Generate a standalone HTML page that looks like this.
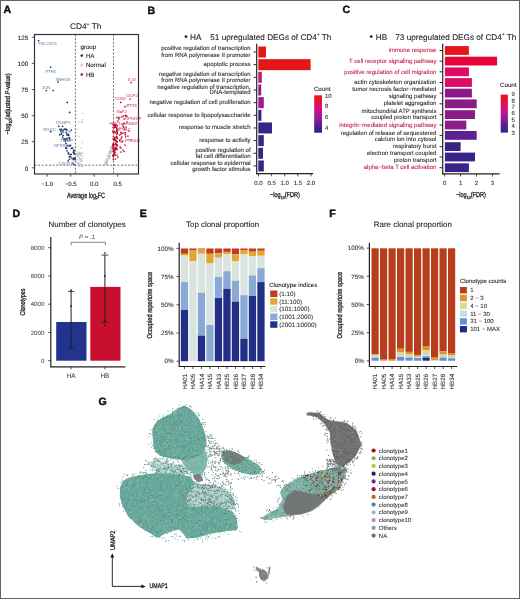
<!DOCTYPE html>
<html><head><meta charset="utf-8"><style>
html,body{margin:0;padding:0;background:#fff;}
svg{display:block;will-change:transform;}
text{font-family:"Liberation Sans", sans-serif;text-rendering:geometricPrecision;}
</style></head><body>
<svg width="520" height="599" viewBox="0 0 520 599">
<rect x="0" y="0" width="520" height="599" fill="#fff"/>
<text x="3.60" y="13.40" font-size="10.6" fill="#111" text-anchor="start" font-weight="bold" stroke="#111" stroke-width="0.45" >A</text>
<text x="70" y="29.2" font-size="8.3" fill="#222" stroke="#222" stroke-width="0.09">CD4<tspan font-size="5" dy="-3.2">+</tspan><tspan dy="3.2"> Th</tspan></text>
<line x1="75.40" y1="34.50" x2="75.40" y2="174.00" stroke="#333" stroke-width="0.7" stroke-dasharray="2,1.6"/>
<line x1="113.50" y1="34.50" x2="113.50" y2="174.00" stroke="#333" stroke-width="0.7" stroke-dasharray="2,1.6"/>
<line x1="34.50" y1="165.20" x2="138.50" y2="165.20" stroke="#333" stroke-width="0.7" stroke-dasharray="2,1.6"/>
<circle cx="80.03" cy="158.56" r="0.72" fill="#c4c4c4" />
<circle cx="79.43" cy="165.40" r="0.72" fill="#c4c4c4" />
<circle cx="80.20" cy="159.36" r="0.72" fill="#c4c4c4" />
<circle cx="79.73" cy="154.68" r="0.72" fill="#c4c4c4" />
<circle cx="81.50" cy="161.13" r="0.72" fill="#c4c4c4" />
<circle cx="78.41" cy="153.36" r="0.72" fill="#c4c4c4" />
<circle cx="81.60" cy="153.31" r="0.72" fill="#c4c4c4" />
<circle cx="76.76" cy="162.05" r="0.72" fill="#c4c4c4" />
<circle cx="82.58" cy="166.24" r="0.72" fill="#c4c4c4" />
<circle cx="80.38" cy="161.48" r="0.72" fill="#c4c4c4" />
<circle cx="76.59" cy="154.28" r="0.72" fill="#c4c4c4" />
<circle cx="76.88" cy="159.66" r="0.72" fill="#c4c4c4" />
<circle cx="78.02" cy="154.76" r="0.72" fill="#c4c4c4" />
<circle cx="79.42" cy="152.44" r="0.72" fill="#c4c4c4" />
<circle cx="81.81" cy="158.39" r="0.72" fill="#c4c4c4" />
<circle cx="80.53" cy="159.53" r="0.72" fill="#c4c4c4" />
<circle cx="80.67" cy="159.25" r="0.72" fill="#c4c4c4" />
<circle cx="78.25" cy="158.63" r="0.72" fill="#c4c4c4" />
<circle cx="82.77" cy="166.47" r="0.72" fill="#c4c4c4" />
<circle cx="80.96" cy="164.18" r="0.72" fill="#c4c4c4" />
<circle cx="77.95" cy="156.57" r="0.72" fill="#c4c4c4" />
<circle cx="76.94" cy="156.19" r="0.72" fill="#c4c4c4" />
<circle cx="79.02" cy="163.11" r="0.72" fill="#c4c4c4" />
<circle cx="78.94" cy="164.28" r="0.72" fill="#c4c4c4" />
<circle cx="81.84" cy="165.89" r="0.72" fill="#c4c4c4" />
<circle cx="77.82" cy="152.01" r="0.72" fill="#c4c4c4" />
<circle cx="79.46" cy="165.20" r="0.72" fill="#c4c4c4" />
<circle cx="79.00" cy="166.22" r="0.72" fill="#c4c4c4" />
<circle cx="80.47" cy="153.06" r="0.72" fill="#c4c4c4" />
<circle cx="78.20" cy="163.29" r="0.72" fill="#c4c4c4" />
<circle cx="78.60" cy="153.26" r="0.72" fill="#c4c4c4" />
<circle cx="81.28" cy="165.98" r="0.72" fill="#c4c4c4" />
<circle cx="78.05" cy="153.71" r="0.72" fill="#c4c4c4" />
<circle cx="76.88" cy="153.47" r="0.72" fill="#c4c4c4" />
<circle cx="77.62" cy="163.56" r="0.72" fill="#c4c4c4" />
<circle cx="79.32" cy="160.11" r="0.72" fill="#c4c4c4" />
<circle cx="81.11" cy="154.76" r="0.72" fill="#c4c4c4" />
<circle cx="80.56" cy="153.90" r="0.72" fill="#c4c4c4" />
<circle cx="79.15" cy="153.69" r="0.72" fill="#c4c4c4" />
<circle cx="78.20" cy="155.09" r="0.72" fill="#c4c4c4" />
<circle cx="81.56" cy="166.08" r="0.72" fill="#c4c4c4" />
<circle cx="82.07" cy="156.41" r="0.72" fill="#c4c4c4" />
<circle cx="78.98" cy="155.06" r="0.72" fill="#c4c4c4" />
<circle cx="80.54" cy="164.39" r="0.72" fill="#c4c4c4" />
<circle cx="82.73" cy="153.45" r="0.72" fill="#c4c4c4" />
<circle cx="78.13" cy="155.09" r="0.72" fill="#c4c4c4" />
<circle cx="78.57" cy="163.20" r="0.72" fill="#c4c4c4" />
<circle cx="76.96" cy="156.30" r="0.72" fill="#c4c4c4" />
<circle cx="80.17" cy="153.31" r="0.72" fill="#c4c4c4" />
<circle cx="80.29" cy="155.52" r="0.72" fill="#c4c4c4" />
<circle cx="79.36" cy="157.39" r="0.72" fill="#c4c4c4" />
<circle cx="79.55" cy="165.91" r="0.72" fill="#c4c4c4" />
<circle cx="81.96" cy="160.33" r="0.72" fill="#c4c4c4" />
<circle cx="77.47" cy="154.65" r="0.72" fill="#c4c4c4" />
<circle cx="81.65" cy="165.17" r="0.72" fill="#c4c4c4" />
<circle cx="78.51" cy="122.23" r="0.72" fill="#c4c4c4" />
<circle cx="82.48" cy="142.32" r="0.72" fill="#c4c4c4" />
<circle cx="82.54" cy="120.06" r="0.72" fill="#c4c4c4" />
<circle cx="80.70" cy="148.17" r="0.72" fill="#c4c4c4" />
<circle cx="78.05" cy="129.28" r="0.72" fill="#c4c4c4" />
<circle cx="82.60" cy="113.59" r="0.72" fill="#c4c4c4" />
<circle cx="81.23" cy="121.77" r="0.72" fill="#c4c4c4" />
<circle cx="81.87" cy="122.54" r="0.72" fill="#c4c4c4" />
<circle cx="79.06" cy="136.46" r="0.72" fill="#c4c4c4" />
<circle cx="107.85" cy="161.17" r="0.72" fill="#c4c4c4" />
<circle cx="105.58" cy="163.19" r="0.72" fill="#c4c4c4" />
<circle cx="110.76" cy="153.87" r="0.72" fill="#c4c4c4" />
<circle cx="109.29" cy="152.83" r="0.72" fill="#c4c4c4" />
<circle cx="111.02" cy="147.07" r="0.72" fill="#c4c4c4" />
<circle cx="105.37" cy="164.19" r="0.72" fill="#c4c4c4" />
<circle cx="107.49" cy="156.03" r="0.72" fill="#c4c4c4" />
<circle cx="106.73" cy="161.15" r="0.72" fill="#c4c4c4" />
<circle cx="108.54" cy="153.63" r="0.72" fill="#c4c4c4" />
<circle cx="109.60" cy="157.62" r="0.72" fill="#c4c4c4" />
<circle cx="112.88" cy="145.87" r="0.72" fill="#c4c4c4" />
<circle cx="110.76" cy="151.37" r="0.72" fill="#c4c4c4" />
<circle cx="105.42" cy="161.83" r="0.72" fill="#c4c4c4" />
<circle cx="107.43" cy="164.16" r="0.72" fill="#c4c4c4" />
<circle cx="112.04" cy="151.18" r="0.72" fill="#c4c4c4" />
<circle cx="106.57" cy="164.10" r="0.72" fill="#c4c4c4" />
<circle cx="109.87" cy="155.34" r="0.72" fill="#c4c4c4" />
<circle cx="109.67" cy="158.44" r="0.72" fill="#c4c4c4" />
<circle cx="106.64" cy="163.07" r="0.72" fill="#c4c4c4" />
<circle cx="112.07" cy="150.50" r="0.72" fill="#c4c4c4" />
<circle cx="111.44" cy="150.50" r="0.72" fill="#c4c4c4" />
<circle cx="112.48" cy="149.43" r="0.72" fill="#c4c4c4" />
<circle cx="108.88" cy="157.82" r="0.72" fill="#c4c4c4" />
<circle cx="113.04" cy="147.38" r="0.72" fill="#c4c4c4" />
<circle cx="109.64" cy="156.57" r="0.72" fill="#c4c4c4" />
<circle cx="111.85" cy="148.09" r="0.72" fill="#c4c4c4" />
<circle cx="109.69" cy="152.63" r="0.72" fill="#c4c4c4" />
<circle cx="110.14" cy="153.43" r="0.72" fill="#c4c4c4" />
<circle cx="106.97" cy="162.98" r="0.72" fill="#c4c4c4" />
<circle cx="113.67" cy="145.63" r="0.72" fill="#c4c4c4" />
<circle cx="110.38" cy="150.66" r="0.72" fill="#c4c4c4" />
<circle cx="111.04" cy="150.53" r="0.72" fill="#c4c4c4" />
<circle cx="109.95" cy="156.13" r="0.72" fill="#c4c4c4" />
<circle cx="107.35" cy="162.91" r="0.72" fill="#c4c4c4" />
<circle cx="106.52" cy="163.93" r="0.72" fill="#c4c4c4" />
<circle cx="108.26" cy="155.36" r="0.72" fill="#c4c4c4" />
<circle cx="110.53" cy="151.23" r="0.72" fill="#c4c4c4" />
<circle cx="111.34" cy="152.82" r="0.72" fill="#c4c4c4" />
<circle cx="106.10" cy="159.64" r="0.72" fill="#c4c4c4" />
<circle cx="108.53" cy="158.78" r="0.72" fill="#c4c4c4" />
<circle cx="106.26" cy="160.65" r="0.72" fill="#c4c4c4" />
<circle cx="112.40" cy="147.29" r="0.72" fill="#c4c4c4" />
<circle cx="110.13" cy="156.10" r="0.72" fill="#c4c4c4" />
<circle cx="108.66" cy="158.29" r="0.72" fill="#c4c4c4" />
<circle cx="107.07" cy="160.73" r="0.72" fill="#c4c4c4" />
<circle cx="112.56" cy="149.19" r="0.72" fill="#c4c4c4" />
<circle cx="111.35" cy="147.77" r="0.72" fill="#c4c4c4" />
<circle cx="109.20" cy="153.42" r="0.72" fill="#c4c4c4" />
<circle cx="106.87" cy="161.91" r="0.72" fill="#c4c4c4" />
<circle cx="112.56" cy="148.60" r="0.72" fill="#c4c4c4" />
<circle cx="112.06" cy="150.99" r="0.72" fill="#c4c4c4" />
<circle cx="106.74" cy="159.24" r="0.72" fill="#c4c4c4" />
<circle cx="108.21" cy="155.94" r="0.72" fill="#c4c4c4" />
<circle cx="107.12" cy="160.43" r="0.72" fill="#c4c4c4" />
<circle cx="110.05" cy="152.61" r="0.72" fill="#c4c4c4" />
<circle cx="109.14" cy="158.51" r="0.72" fill="#c4c4c4" />
<circle cx="112.23" cy="145.84" r="0.72" fill="#c4c4c4" />
<circle cx="104.99" cy="163.08" r="0.72" fill="#c4c4c4" />
<circle cx="110.21" cy="147.92" r="0.72" fill="#c4c4c4" />
<circle cx="110.83" cy="151.04" r="0.72" fill="#c4c4c4" />
<circle cx="108.94" cy="158.63" r="0.72" fill="#c4c4c4" />
<circle cx="104.96" cy="164.14" r="0.72" fill="#c4c4c4" />
<circle cx="107.44" cy="155.86" r="0.72" fill="#c4c4c4" />
<circle cx="110.55" cy="148.74" r="0.72" fill="#c4c4c4" />
<circle cx="105.47" cy="161.82" r="0.72" fill="#c4c4c4" />
<circle cx="109.92" cy="152.55" r="0.72" fill="#c4c4c4" />
<circle cx="110.59" cy="152.53" r="0.72" fill="#c4c4c4" />
<circle cx="112.72" cy="149.16" r="0.72" fill="#c4c4c4" />
<circle cx="109.49" cy="151.49" r="0.72" fill="#c4c4c4" />
<circle cx="108.06" cy="155.47" r="0.72" fill="#c4c4c4" />
<circle cx="105.98" cy="164.30" r="0.72" fill="#c4c4c4" />
<circle cx="109.62" cy="150.93" r="0.72" fill="#c4c4c4" />
<circle cx="107.28" cy="159.33" r="0.72" fill="#c4c4c4" />
<circle cx="110.60" cy="151.25" r="0.72" fill="#c4c4c4" />
<circle cx="110.81" cy="152.83" r="0.72" fill="#c4c4c4" />
<circle cx="109.49" cy="157.02" r="0.72" fill="#c4c4c4" />
<circle cx="110.57" cy="147.28" r="0.72" fill="#c4c4c4" />
<circle cx="112.77" cy="146.78" r="0.72" fill="#c4c4c4" />
<circle cx="106.70" cy="162.03" r="0.72" fill="#c4c4c4" />
<circle cx="111.38" cy="152.61" r="0.72" fill="#c4c4c4" />
<circle cx="108.67" cy="157.34" r="0.72" fill="#c4c4c4" />
<circle cx="112.67" cy="147.79" r="0.72" fill="#c4c4c4" />
<circle cx="112.02" cy="146.56" r="0.72" fill="#c4c4c4" />
<circle cx="109.29" cy="152.12" r="0.72" fill="#c4c4c4" />
<circle cx="111.71" cy="150.78" r="0.72" fill="#c4c4c4" />
<circle cx="38.60" cy="40.50" r="0.85" fill="#1a2f55" />
<circle cx="50.60" cy="67.00" r="0.85" fill="#1a2f55" />
<circle cx="58.20" cy="82.00" r="0.85" fill="#1a2f55" />
<circle cx="46.30" cy="90.50" r="0.85" fill="#1a2f55" />
<circle cx="53.10" cy="90.50" r="0.85" fill="#1a2f55" />
<circle cx="67.30" cy="102.40" r="0.85" fill="#1a2f55" />
<circle cx="69.60" cy="112.40" r="0.85" fill="#1a2f55" />
<circle cx="58.80" cy="126.30" r="0.85" fill="#1a2f55" />
<circle cx="62.60" cy="126.30" r="0.85" fill="#1a2f55" />
<circle cx="50.70" cy="131.70" r="0.85" fill="#1a2f55" />
<circle cx="60.70" cy="130.70" r="0.85" fill="#1a2f55" />
<circle cx="67.00" cy="133.80" r="0.85" fill="#1a2f55" />
<circle cx="71.30" cy="130.00" r="0.85" fill="#1a2f55" />
<circle cx="59.80" cy="134.80" r="0.85" fill="#1a2f55" />
<circle cx="62.60" cy="137.30" r="0.85" fill="#1a2f55" />
<circle cx="65.70" cy="148.20" r="0.85" fill="#1a2f55" />
<circle cx="70.00" cy="154.50" r="0.85" fill="#1a2f55" />
<circle cx="72.00" cy="158.30" r="0.85" fill="#1a2f55" />
<circle cx="68.20" cy="160.80" r="0.85" fill="#1a2f55" />
<circle cx="73.00" cy="163.00" r="0.85" fill="#1a2f55" />
<circle cx="74.00" cy="164.50" r="0.85" fill="#1a2f55" />
<circle cx="71.29" cy="148.31" r="0.85" fill="#1a2f55" />
<circle cx="74.52" cy="153.65" r="0.85" fill="#1a2f55" />
<circle cx="73.82" cy="151.94" r="0.85" fill="#1a2f55" />
<circle cx="63.28" cy="129.90" r="0.85" fill="#1a2f55" />
<circle cx="73.80" cy="158.24" r="0.85" fill="#1a2f55" />
<circle cx="69.36" cy="156.93" r="0.85" fill="#1a2f55" />
<circle cx="66.04" cy="143.54" r="0.85" fill="#1a2f55" />
<circle cx="69.24" cy="145.86" r="0.85" fill="#1a2f55" />
<circle cx="61.26" cy="129.41" r="0.85" fill="#1a2f55" />
<circle cx="69.17" cy="137.66" r="0.85" fill="#1a2f55" />
<circle cx="68.35" cy="152.74" r="0.85" fill="#1a2f55" />
<circle cx="68.51" cy="153.71" r="0.85" fill="#1a2f55" />
<circle cx="66.62" cy="148.14" r="0.85" fill="#1a2f55" />
<circle cx="66.05" cy="129.06" r="0.85" fill="#1a2f55" />
<circle cx="63.21" cy="135.49" r="0.85" fill="#1a2f55" />
<circle cx="75.00" cy="159.46" r="0.85" fill="#1a2f55" />
<circle cx="69.60" cy="137.97" r="0.85" fill="#1a2f55" />
<circle cx="69.98" cy="145.72" r="0.85" fill="#1a2f55" />
<circle cx="68.61" cy="135.35" r="0.85" fill="#1a2f55" />
<circle cx="73.66" cy="150.41" r="0.85" fill="#1a2f55" />
<circle cx="70.68" cy="156.71" r="0.85" fill="#1a2f55" />
<circle cx="64.36" cy="140.20" r="0.85" fill="#1a2f55" />
<circle cx="61.45" cy="133.52" r="0.85" fill="#1a2f55" />
<circle cx="67.04" cy="138.34" r="0.85" fill="#1a2f55" />
<circle cx="64.62" cy="129.10" r="0.85" fill="#1a2f55" />
<circle cx="65.20" cy="139.47" r="0.85" fill="#1a2f55" />
<circle cx="71.29" cy="154.37" r="0.85" fill="#1a2f55" />
<circle cx="66.27" cy="138.79" r="0.85" fill="#1a2f55" />
<circle cx="66.97" cy="150.84" r="0.85" fill="#1a2f55" />
<circle cx="69.42" cy="159.23" r="0.85" fill="#1a2f55" />
<circle cx="73.33" cy="152.24" r="0.85" fill="#1a2f55" />
<circle cx="65.59" cy="129.56" r="0.85" fill="#1a2f55" />
<circle cx="67.50" cy="140.35" r="0.85" fill="#1a2f55" />
<circle cx="59.94" cy="129.28" r="0.85" fill="#1a2f55" />
<circle cx="68.47" cy="134.61" r="0.85" fill="#1a2f55" />
<circle cx="67.13" cy="135.09" r="0.85" fill="#1a2f55" />
<circle cx="75.00" cy="157.82" r="0.85" fill="#1a2f55" />
<circle cx="65.60" cy="139.68" r="0.85" fill="#1a2f55" />
<circle cx="70.56" cy="145.27" r="0.85" fill="#1a2f55" />
<circle cx="66.19" cy="132.35" r="0.85" fill="#1a2f55" />
<circle cx="73.92" cy="153.71" r="0.85" fill="#1a2f55" />
<circle cx="66.96" cy="130.14" r="0.85" fill="#1a2f55" />
<circle cx="62.97" cy="131.83" r="0.85" fill="#1a2f55" />
<circle cx="72.49" cy="147.94" r="0.85" fill="#1a2f55" />
<circle cx="69.83" cy="139.54" r="0.85" fill="#1a2f55" />
<circle cx="67.29" cy="145.90" r="0.85" fill="#1a2f55" />
<circle cx="64.00" cy="138.82" r="0.85" fill="#1a2f55" />
<circle cx="61.40" cy="131.42" r="0.85" fill="#1a2f55" />
<circle cx="73.87" cy="150.36" r="0.85" fill="#1a2f55" />
<circle cx="61.48" cy="134.01" r="0.85" fill="#1a2f55" />
<circle cx="73.37" cy="159.59" r="0.85" fill="#1a2f55" />
<circle cx="65.34" cy="141.58" r="0.85" fill="#1a2f55" />
<circle cx="131.20" cy="82.60" r="0.85" fill="#c0102f" />
<circle cx="130.00" cy="99.00" r="0.85" fill="#c0102f" />
<circle cx="120.70" cy="102.40" r="0.85" fill="#c0102f" />
<circle cx="125.00" cy="106.70" r="0.85" fill="#c0102f" />
<circle cx="121.00" cy="112.00" r="0.85" fill="#c0102f" />
<circle cx="127.00" cy="116.00" r="0.85" fill="#c0102f" />
<circle cx="124.00" cy="119.00" r="0.85" fill="#c0102f" />
<circle cx="118.00" cy="121.00" r="0.85" fill="#c0102f" />
<circle cx="122.00" cy="124.00" r="0.85" fill="#c0102f" />
<circle cx="126.00" cy="127.00" r="0.85" fill="#c0102f" />
<circle cx="120.00" cy="128.00" r="0.85" fill="#c0102f" />
<circle cx="124.00" cy="133.00" r="0.85" fill="#c0102f" />
<circle cx="128.00" cy="136.00" r="0.85" fill="#c0102f" />
<circle cx="131.00" cy="140.00" r="0.85" fill="#c0102f" />
<circle cx="119.50" cy="135.00" r="0.85" fill="#c0102f" />
<circle cx="117.00" cy="131.00" r="0.85" fill="#c0102f" />
<circle cx="122.70" cy="141.00" r="0.85" fill="#c0102f" />
<circle cx="125.00" cy="145.00" r="0.85" fill="#c0102f" />
<circle cx="120.00" cy="147.00" r="0.85" fill="#c0102f" />
<circle cx="123.00" cy="150.00" r="0.85" fill="#c0102f" />
<circle cx="121.00" cy="152.00" r="0.85" fill="#c0102f" />
<circle cx="117.00" cy="155.00" r="0.85" fill="#c0102f" />
<circle cx="118.00" cy="157.00" r="0.85" fill="#c0102f" />
<circle cx="127.00" cy="122.00" r="0.85" fill="#c0102f" />
<circle cx="129.00" cy="131.00" r="0.85" fill="#c0102f" />
<circle cx="114.52" cy="140.44" r="0.85" fill="#c0102f" />
<circle cx="116.79" cy="128.92" r="0.85" fill="#c0102f" />
<circle cx="115.11" cy="124.23" r="0.85" fill="#c0102f" />
<circle cx="113.17" cy="155.89" r="0.85" fill="#c0102f" />
<circle cx="115.64" cy="143.68" r="0.85" fill="#c0102f" />
<circle cx="114.54" cy="125.45" r="0.85" fill="#c0102f" />
<circle cx="114.88" cy="148.97" r="0.85" fill="#c0102f" />
<circle cx="113.52" cy="149.74" r="0.85" fill="#c0102f" />
<circle cx="113.31" cy="132.45" r="0.85" fill="#c0102f" />
<circle cx="117.05" cy="141.97" r="0.85" fill="#c0102f" />
<circle cx="116.36" cy="144.96" r="0.85" fill="#c0102f" />
<circle cx="116.23" cy="137.62" r="0.85" fill="#c0102f" />
<circle cx="114.14" cy="127.61" r="0.85" fill="#c0102f" />
<circle cx="116.14" cy="147.94" r="0.85" fill="#c0102f" />
<circle cx="113.20" cy="138.97" r="0.85" fill="#c0102f" />
<circle cx="113.77" cy="133.47" r="0.85" fill="#c0102f" />
<circle cx="116.52" cy="133.98" r="0.85" fill="#c0102f" />
<circle cx="116.88" cy="131.08" r="0.85" fill="#c0102f" />
<circle cx="113.05" cy="155.22" r="0.85" fill="#c0102f" />
<circle cx="115.06" cy="137.45" r="0.85" fill="#c0102f" />
<circle cx="114.75" cy="124.83" r="0.85" fill="#c0102f" />
<circle cx="113.32" cy="156.18" r="0.85" fill="#c0102f" />
<circle cx="113.36" cy="145.19" r="0.85" fill="#c0102f" />
<circle cx="116.92" cy="144.54" r="0.85" fill="#c0102f" />
<circle cx="112.84" cy="131.21" r="0.85" fill="#c0102f" />
<circle cx="115.28" cy="126.96" r="0.85" fill="#c0102f" />
<circle cx="113.19" cy="124.62" r="0.85" fill="#c0102f" />
<circle cx="117.04" cy="141.63" r="0.85" fill="#c0102f" />
<circle cx="114.63" cy="138.91" r="0.85" fill="#c0102f" />
<circle cx="113.23" cy="146.67" r="0.85" fill="#c0102f" />
<circle cx="113.59" cy="144.58" r="0.85" fill="#c0102f" />
<circle cx="117.21" cy="145.62" r="0.85" fill="#c0102f" />
<circle cx="115.35" cy="125.92" r="0.85" fill="#c0102f" />
<circle cx="113.49" cy="145.53" r="0.85" fill="#c0102f" />
<circle cx="117.38" cy="133.53" r="0.85" fill="#c0102f" />
<circle cx="113.36" cy="159.43" r="0.85" fill="#c0102f" />
<circle cx="117.17" cy="149.04" r="0.85" fill="#c0102f" />
<circle cx="115.61" cy="132.41" r="0.85" fill="#c0102f" />
<circle cx="114.48" cy="125.53" r="0.85" fill="#c0102f" />
<circle cx="115.52" cy="147.93" r="0.85" fill="#c0102f" />
<circle cx="113.20" cy="151.50" r="0.85" fill="#c0102f" />
<circle cx="116.77" cy="136.33" r="0.85" fill="#c0102f" />
<circle cx="114.88" cy="144.74" r="0.85" fill="#c0102f" />
<circle cx="117.34" cy="138.28" r="0.85" fill="#c0102f" />
<circle cx="112.88" cy="144.39" r="0.85" fill="#c0102f" />
<circle cx="114.31" cy="152.38" r="0.85" fill="#c0102f" />
<circle cx="113.78" cy="139.39" r="0.85" fill="#c0102f" />
<circle cx="114.29" cy="139.76" r="0.85" fill="#c0102f" />
<circle cx="115.70" cy="127.15" r="0.85" fill="#c0102f" />
<circle cx="116.41" cy="127.66" r="0.85" fill="#c0102f" />
<circle cx="116.39" cy="124.90" r="0.85" fill="#c0102f" />
<circle cx="115.09" cy="152.67" r="0.85" fill="#c0102f" />
<circle cx="113.94" cy="149.19" r="0.85" fill="#c0102f" />
<circle cx="114.76" cy="150.19" r="0.85" fill="#c0102f" />
<circle cx="117.23" cy="132.20" r="0.85" fill="#c0102f" />
<circle cx="114.52" cy="138.23" r="0.85" fill="#c0102f" />
<circle cx="114.50" cy="154.53" r="0.85" fill="#c0102f" />
<circle cx="113.59" cy="147.70" r="0.85" fill="#c0102f" />
<circle cx="113.99" cy="153.94" r="0.85" fill="#c0102f" />
<circle cx="117.29" cy="125.79" r="0.85" fill="#c0102f" />
<circle cx="117.15" cy="130.13" r="0.85" fill="#c0102f" />
<circle cx="115.59" cy="159.01" r="0.85" fill="#c0102f" />
<circle cx="113.08" cy="124.42" r="0.85" fill="#c0102f" />
<circle cx="114.59" cy="131.41" r="0.85" fill="#c0102f" />
<circle cx="117.25" cy="145.71" r="0.85" fill="#c0102f" />
<circle cx="113.45" cy="136.59" r="0.85" fill="#c0102f" />
<circle cx="113.43" cy="143.95" r="0.85" fill="#c0102f" />
<circle cx="115.36" cy="127.07" r="0.85" fill="#c0102f" />
<circle cx="113.10" cy="148.71" r="0.85" fill="#c0102f" />
<circle cx="116.04" cy="140.02" r="0.85" fill="#c0102f" />
<circle cx="114.56" cy="151.13" r="0.85" fill="#c0102f" />
<circle cx="113.58" cy="155.49" r="0.85" fill="#c0102f" />
<circle cx="116.35" cy="149.40" r="0.85" fill="#c0102f" />
<circle cx="115.07" cy="155.25" r="0.85" fill="#c0102f" />
<circle cx="113.02" cy="127.52" r="0.85" fill="#c0102f" />
<circle cx="113.60" cy="142.77" r="0.85" fill="#c0102f" />
<circle cx="113.19" cy="146.35" r="0.85" fill="#c0102f" />
<circle cx="113.82" cy="151.70" r="0.85" fill="#c0102f" />
<circle cx="113.61" cy="124.46" r="0.85" fill="#c0102f" />
<circle cx="115.37" cy="140.21" r="0.85" fill="#c0102f" />
<circle cx="116.90" cy="129.37" r="0.85" fill="#c0102f" />
<circle cx="125.41" cy="132.84" r="0.85" fill="#c0102f" />
<circle cx="125.35" cy="134.81" r="0.85" fill="#c0102f" />
<circle cx="125.92" cy="116.06" r="0.85" fill="#c0102f" />
<circle cx="120.99" cy="147.89" r="0.85" fill="#c0102f" />
<circle cx="120.91" cy="134.37" r="0.85" fill="#c0102f" />
<circle cx="115.72" cy="148.65" r="0.85" fill="#c0102f" />
<circle cx="120.96" cy="138.78" r="0.85" fill="#c0102f" />
<circle cx="122.97" cy="126.11" r="0.85" fill="#c0102f" />
<circle cx="116.14" cy="141.67" r="0.85" fill="#c0102f" />
<circle cx="119.99" cy="140.88" r="0.85" fill="#c0102f" />
<circle cx="122.00" cy="133.14" r="0.85" fill="#c0102f" />
<circle cx="121.63" cy="116.96" r="0.85" fill="#c0102f" />
<circle cx="124.67" cy="128.81" r="0.85" fill="#c0102f" />
<circle cx="124.05" cy="123.55" r="0.85" fill="#c0102f" />
<circle cx="121.87" cy="141.99" r="0.85" fill="#c0102f" />
<circle cx="115.40" cy="147.41" r="0.85" fill="#c0102f" />
<circle cx="121.75" cy="137.09" r="0.85" fill="#c0102f" />
<circle cx="119.47" cy="140.09" r="0.85" fill="#c0102f" />
<circle cx="117.08" cy="117.55" r="0.85" fill="#c0102f" />
<circle cx="116.99" cy="137.50" r="0.85" fill="#c0102f" />
<circle cx="118.90" cy="117.40" r="0.85" fill="#c0102f" />
<circle cx="120.89" cy="132.40" r="0.85" fill="#c0102f" />
<circle cx="123.53" cy="115.96" r="0.85" fill="#c0102f" />
<circle cx="123.61" cy="127.35" r="0.85" fill="#c0102f" />
<circle cx="125.49" cy="115.32" r="0.85" fill="#c0102f" />
<circle cx="125.74" cy="136.84" r="0.85" fill="#c0102f" />
<circle cx="124.16" cy="151.49" r="0.85" fill="#c0102f" />
<circle cx="118.84" cy="118.93" r="0.85" fill="#c0102f" />
<circle cx="123.58" cy="123.56" r="0.85" fill="#c0102f" />
<text x="37.80" y="45.20" font-size="4.3" fill="#7896c0" text-anchor="start" font-weight="normal" stroke="#7896c0" stroke-width="0.09" >TSC22D3</text>
<text x="45.50" y="72.80" font-size="4.3" fill="#7896c0" text-anchor="start" font-weight="normal" stroke="#7896c0" stroke-width="0.09" >FTH1</text>
<text x="55.40" y="81.30" font-size="4.3" fill="#7896c0" text-anchor="start" font-weight="normal" stroke="#7896c0" stroke-width="0.09" >SNHG8</text>
<text x="41.80" y="89.30" font-size="4.3" fill="#7896c0" text-anchor="start" font-weight="normal" stroke="#7896c0" stroke-width="0.09" >JUN</text>
<text x="56.30" y="123.90" font-size="4.3" fill="#7896c0" text-anchor="start" font-weight="normal" stroke="#7896c0" stroke-width="0.09" >DUSP1</text>
<text x="43.20" y="131.00" font-size="4.3" fill="#7896c0" text-anchor="start" font-weight="normal" stroke="#7896c0" stroke-width="0.09" >RGCC</text>
<text x="60.50" y="132.50" font-size="4.3" fill="#7896c0" text-anchor="start" font-weight="normal" stroke="#7896c0" stroke-width="0.09" >KLF6</text>
<text x="60.50" y="141.80" font-size="4.3" fill="#7896c0" text-anchor="start" font-weight="normal" stroke="#7896c0" stroke-width="0.09" >TXNIP</text>
<text x="54.00" y="146.60" font-size="4.3" fill="#7896c0" text-anchor="start" font-weight="normal" stroke="#7896c0" stroke-width="0.09" >NFKBIA</text>
<text x="58.20" y="165.10" font-size="4.3" fill="#7896c0" text-anchor="start" font-weight="normal" stroke="#7896c0" stroke-width="0.09" >CXCR4</text>
<text x="127.80" y="81.30" font-size="4.3" fill="#dc5a7c" text-anchor="start" font-weight="normal" stroke="#dc5a7c" stroke-width="0.09" >IL32</text>
<text x="126.40" y="96.90" font-size="4.3" fill="#dc5a7c" text-anchor="start" font-weight="normal" stroke="#dc5a7c" stroke-width="0.09" >UCP2</text>
<text x="115.00" y="99.80" font-size="4.3" fill="#dc5a7c" text-anchor="start" font-weight="normal" stroke="#dc5a7c" stroke-width="0.09" >CD52</text>
<text x="126.40" y="106.90" font-size="4.3" fill="#dc5a7c" text-anchor="start" font-weight="normal" stroke="#dc5a7c" stroke-width="0.09" >ETS1</text>
<text x="116.50" y="112.60" font-size="4.3" fill="#dc5a7c" text-anchor="start" font-weight="normal" stroke="#dc5a7c" stroke-width="0.09" >KLF2</text>
<text x="125.00" y="119.60" font-size="4.3" fill="#dc5a7c" text-anchor="start" font-weight="normal" stroke="#dc5a7c" stroke-width="0.09" >RPGRIP</text>
<text x="109.40" y="125.30" font-size="4.3" fill="#dc5a7c" text-anchor="start" font-weight="normal" stroke="#dc5a7c" stroke-width="0.09" >HEY1</text>
<text x="122.70" y="124.80" font-size="4.3" fill="#dc5a7c" text-anchor="start" font-weight="normal" stroke="#dc5a7c" stroke-width="0.09" >AHNAK</text>
<text x="117.90" y="131.00" font-size="4.3" fill="#dc5a7c" text-anchor="start" font-weight="normal" stroke="#dc5a7c" stroke-width="0.09" >IFNAC</text>
<text x="125.00" y="141.80" font-size="4.3" fill="#dc5a7c" text-anchor="start" font-weight="normal" stroke="#dc5a7c" stroke-width="0.09" >PTGAR</text>
<rect x="34.5" y="34.5" width="104" height="139.5" fill="none" stroke="#333" stroke-width="1.2"/>
<line x1="31.80" y1="167.80" x2="34.50" y2="167.80" stroke="#333" stroke-width="0.8" />
<text x="28.20" y="170.50" font-size="6.3" fill="#222" text-anchor="end" font-weight="normal" stroke="#222" stroke-width="0.09" >0</text>
<line x1="31.80" y1="141.70" x2="34.50" y2="141.70" stroke="#333" stroke-width="0.8" />
<text x="28.20" y="144.40" font-size="6.3" fill="#222" text-anchor="end" font-weight="normal" stroke="#222" stroke-width="0.09" >25</text>
<line x1="31.80" y1="115.60" x2="34.50" y2="115.60" stroke="#333" stroke-width="0.8" />
<text x="28.20" y="118.30" font-size="6.3" fill="#222" text-anchor="end" font-weight="normal" stroke="#222" stroke-width="0.09" >50</text>
<line x1="31.80" y1="89.50" x2="34.50" y2="89.50" stroke="#333" stroke-width="0.8" />
<text x="28.20" y="92.20" font-size="6.3" fill="#222" text-anchor="end" font-weight="normal" stroke="#222" stroke-width="0.09" >75</text>
<line x1="31.80" y1="63.40" x2="34.50" y2="63.40" stroke="#333" stroke-width="0.8" />
<text x="28.20" y="66.10" font-size="6.3" fill="#222" text-anchor="end" font-weight="normal" stroke="#222" stroke-width="0.09" >100</text>
<line x1="31.80" y1="37.30" x2="34.50" y2="37.30" stroke="#333" stroke-width="0.8" />
<text x="28.20" y="40.00" font-size="6.3" fill="#222" text-anchor="end" font-weight="normal" stroke="#222" stroke-width="0.09" >125</text>
<line x1="47.20" y1="174.00" x2="47.20" y2="176.70" stroke="#333" stroke-width="0.8" />
<text x="47.20" y="185.60" font-size="6.1" fill="#222" text-anchor="middle" font-weight="normal" stroke="#222" stroke-width="0.09" >−1.0</text>
<line x1="70.70" y1="174.00" x2="70.70" y2="176.70" stroke="#333" stroke-width="0.8" />
<text x="70.70" y="185.60" font-size="6.1" fill="#222" text-anchor="middle" font-weight="normal" stroke="#222" stroke-width="0.09" >−0.5</text>
<line x1="94.20" y1="174.00" x2="94.20" y2="176.70" stroke="#333" stroke-width="0.8" />
<text x="94.20" y="185.60" font-size="6.1" fill="#222" text-anchor="middle" font-weight="normal" stroke="#222" stroke-width="0.09" >0.0</text>
<line x1="117.70" y1="174.00" x2="117.70" y2="176.70" stroke="#333" stroke-width="0.8" />
<text x="117.70" y="185.60" font-size="6.1" fill="#222" text-anchor="middle" font-weight="normal" stroke="#222" stroke-width="0.09" >0.5</text>
<text x="67" y="197.6" font-size="7.7" fill="#222" stroke="#222" stroke-width="0.3" textLength="38" lengthAdjust="spacingAndGlyphs">Average log<tspan font-size="4.5" dy="1.8">2</tspan><tspan dy="-1.8">FC</tspan></text>
<text transform="translate(9.7,134.4) rotate(-90)" font-size="7" fill="#222" stroke="#222" stroke-width="0.3" textLength="61" lengthAdjust="spacingAndGlyphs">−log<tspan font-size="4.5" dy="1.8">10</tspan><tspan dy="-1.8">(adjusted </tspan><tspan font-style="italic">P</tspan>-value)</text>
<text x="80.40" y="49.40" font-size="6.2" fill="#222" text-anchor="start" font-weight="normal" stroke="#222" stroke-width="0.09" >group</text>
<circle cx="81.80" cy="55.60" r="1.30" fill="#1d3a66" />
<text x="85.90" y="57.80" font-size="6.2" fill="#222" text-anchor="start" font-weight="normal" stroke="#222" stroke-width="0.09" >HA</text>
<circle cx="81.80" cy="65.20" r="1.30" fill="#c8c8c8" />
<text x="85.90" y="67.40" font-size="6.2" fill="#222" text-anchor="start" font-weight="normal" stroke="#222" stroke-width="0.09" >Normal</text>
<circle cx="81.80" cy="74.60" r="1.30" fill="#c0102f" />
<text x="85.90" y="76.80" font-size="6.2" fill="#222" text-anchor="start" font-weight="normal" stroke="#222" stroke-width="0.09" >HB</text>
<text x="147.50" y="13.50" font-size="10.6" fill="#111" text-anchor="start" font-weight="bold" stroke="#111" stroke-width="0.45" >B</text>
<circle cx="186.00" cy="36.60" r="1.45" fill="#222" />
<text x="190.00" y="39.50" font-size="8.2" fill="#222" text-anchor="start" font-weight="normal" stroke="#222" stroke-width="0.09" >HA</text>
<text x="210.3" y="39.5" font-size="8.2" fill="#222" stroke="#222" stroke-width="0.09">51 upregulated DEGs of CD4<tspan font-size="5" dy="-3.2">+</tspan><tspan dy="3.2"> Th</tspan></text>
<text x="250.60" y="50.20" font-size="6.0" fill="#2a2a2a" text-anchor="end" font-weight="normal" stroke="#2a2a2a" stroke-width="0.09" >positive regulation of transcription</text>
<text x="250.60" y="56.60" font-size="6.0" fill="#2a2a2a" text-anchor="end" font-weight="normal" stroke="#2a2a2a" stroke-width="0.09" >from RNA polymerase II promoter</text>
<text x="250.60" y="65.90" font-size="6.0" fill="#2a2a2a" text-anchor="end" font-weight="normal" stroke="#2a2a2a" stroke-width="0.09" >apoptotic process</text>
<text x="250.60" y="75.80" font-size="6.0" fill="#2a2a2a" text-anchor="end" font-weight="normal" stroke="#2a2a2a" stroke-width="0.09" >negative regulation of transcription</text>
<text x="250.60" y="82.00" font-size="6.0" fill="#2a2a2a" text-anchor="end" font-weight="normal" stroke="#2a2a2a" stroke-width="0.09" >from RNA polymerase II promoter</text>
<text x="250.60" y="88.50" font-size="6.0" fill="#2a2a2a" text-anchor="end" font-weight="normal" stroke="#2a2a2a" stroke-width="0.09" >negative regulation of transcription,</text>
<text x="250.60" y="94.30" font-size="6.0" fill="#2a2a2a" text-anchor="end" font-weight="normal" stroke="#2a2a2a" stroke-width="0.09" >DNA-templated</text>
<text x="250.60" y="104.00" font-size="6.0" fill="#2a2a2a" text-anchor="end" font-weight="normal" stroke="#2a2a2a" stroke-width="0.09" >negative regulation of cell proliferation</text>
<text x="250.60" y="116.60" font-size="6.0" fill="#2a2a2a" text-anchor="end" font-weight="normal" stroke="#2a2a2a" stroke-width="0.09" >cellular response to lipopolysaccharide</text>
<text x="250.60" y="129.30" font-size="6.0" fill="#2a2a2a" text-anchor="end" font-weight="normal" stroke="#2a2a2a" stroke-width="0.09" >response to muscle stretch</text>
<text x="250.60" y="142.00" font-size="6.0" fill="#2a2a2a" text-anchor="end" font-weight="normal" stroke="#2a2a2a" stroke-width="0.09" >response to activity</text>
<text x="250.60" y="152.40" font-size="6.0" fill="#2a2a2a" text-anchor="end" font-weight="normal" stroke="#2a2a2a" stroke-width="0.09" >positive regulation of</text>
<text x="250.60" y="158.20" font-size="6.0" fill="#2a2a2a" text-anchor="end" font-weight="normal" stroke="#2a2a2a" stroke-width="0.09" >fat cell differentiation</text>
<text x="250.60" y="164.70" font-size="6.0" fill="#2a2a2a" text-anchor="end" font-weight="normal" stroke="#2a2a2a" stroke-width="0.09" >cellular response to epidermal</text>
<text x="250.60" y="170.90" font-size="6.0" fill="#2a2a2a" text-anchor="end" font-weight="normal" stroke="#2a2a2a" stroke-width="0.09" >growth factor stimulus</text>
<rect x="258.30" y="46.50" width="7.70" height="11.00" fill="#e4161a" />
<line x1="253.60" y1="52.00" x2="256.70" y2="52.00" stroke="#111" stroke-width="0.9" />
<rect x="258.30" y="59.16" width="52.30" height="11.00" fill="#e4161a" />
<line x1="253.60" y1="64.66" x2="256.70" y2="64.66" stroke="#111" stroke-width="0.9" />
<rect x="258.30" y="71.82" width="3.50" height="11.00" fill="#c2186e" />
<line x1="253.60" y1="77.32" x2="256.70" y2="77.32" stroke="#111" stroke-width="0.9" />
<rect x="258.30" y="84.48" width="2.90" height="11.00" fill="#8e1f86" />
<line x1="253.60" y1="89.98" x2="256.70" y2="89.98" stroke="#111" stroke-width="0.9" />
<rect x="258.30" y="97.14" width="5.50" height="11.00" fill="#a3198e" />
<line x1="253.60" y1="102.64" x2="256.70" y2="102.64" stroke="#111" stroke-width="0.9" />
<rect x="258.30" y="109.80" width="3.10" height="11.00" fill="#3d2190" />
<line x1="253.60" y1="115.30" x2="256.70" y2="115.30" stroke="#111" stroke-width="0.9" />
<rect x="258.30" y="122.46" width="13.70" height="11.00" fill="#382486" />
<line x1="253.60" y1="127.96" x2="256.70" y2="127.96" stroke="#111" stroke-width="0.9" />
<rect x="258.30" y="135.12" width="5.50" height="11.00" fill="#382486" />
<line x1="253.60" y1="140.62" x2="256.70" y2="140.62" stroke="#111" stroke-width="0.9" />
<rect x="258.30" y="147.78" width="4.70" height="11.00" fill="#382486" />
<line x1="253.60" y1="153.28" x2="256.70" y2="153.28" stroke="#111" stroke-width="0.9" />
<rect x="258.30" y="160.44" width="5.50" height="11.00" fill="#382486" />
<line x1="253.60" y1="165.94" x2="256.70" y2="165.94" stroke="#111" stroke-width="0.9" />
<line x1="256.70" y1="43.80" x2="256.70" y2="174.30" stroke="#222" stroke-width="1.2" />
<line x1="256.10" y1="173.70" x2="313.20" y2="173.70" stroke="#222" stroke-width="1.2" />
<line x1="258.50" y1="173.70" x2="258.50" y2="176.30" stroke="#222" stroke-width="0.8" />
<text x="258.50" y="185.30" font-size="6.0" fill="#333" text-anchor="middle" font-weight="normal" stroke="#333" stroke-width="0.09" >0.0</text>
<line x1="271.60" y1="173.70" x2="271.60" y2="176.30" stroke="#222" stroke-width="0.8" />
<text x="271.60" y="185.30" font-size="6.0" fill="#333" text-anchor="middle" font-weight="normal" stroke="#333" stroke-width="0.09" >0.5</text>
<line x1="284.70" y1="173.70" x2="284.70" y2="176.30" stroke="#222" stroke-width="0.8" />
<text x="284.70" y="185.30" font-size="6.0" fill="#333" text-anchor="middle" font-weight="normal" stroke="#333" stroke-width="0.09" >1.0</text>
<line x1="297.80" y1="173.70" x2="297.80" y2="176.30" stroke="#222" stroke-width="0.8" />
<text x="297.80" y="185.30" font-size="6.0" fill="#333" text-anchor="middle" font-weight="normal" stroke="#333" stroke-width="0.09" >1.5</text>
<line x1="310.90" y1="173.70" x2="310.90" y2="176.30" stroke="#222" stroke-width="0.8" />
<text x="310.90" y="185.30" font-size="6.0" fill="#333" text-anchor="middle" font-weight="normal" stroke="#333" stroke-width="0.09" >2.0</text>
<text x="270" y="197.4" font-size="7" fill="#222" stroke="#222" stroke-width="0.3" textLength="29.8" lengthAdjust="spacingAndGlyphs">−log<tspan font-size="4.5" dy="1.8">10</tspan><tspan dy="-1.8">(FDR)</tspan></text>
<defs><linearGradient id="gB" x1="0" y1="0" x2="0" y2="1"><stop offset="0" stop-color="#e8141e"/><stop offset="0.15" stop-color="#e41434"/><stop offset="0.32" stop-color="#da1078"/><stop offset="0.59" stop-color="#a018a0"/><stop offset="0.85" stop-color="#4a1e8c"/><stop offset="1" stop-color="#2e2080"/></linearGradient><linearGradient id="gC" x1="0" y1="0" x2="0" y2="1"><stop offset="0" stop-color="#e8141e"/><stop offset="0.17" stop-color="#e41040"/><stop offset="0.33" stop-color="#dc1078"/><stop offset="0.5" stop-color="#b01896"/><stop offset="0.67" stop-color="#80209a"/><stop offset="0.83" stop-color="#50228e"/><stop offset="1" stop-color="#2e2080"/></linearGradient></defs>
<text x="313.90" y="90.50" font-size="6.2" fill="#222" text-anchor="start" font-weight="normal" stroke="#222" stroke-width="0.09" >Count</text>
<rect x="314.20" y="95.30" width="7.80" height="37.40" fill="url(#gB)" />
<text x="325.00" y="97.90" font-size="6.0" fill="#333" text-anchor="start" font-weight="normal" stroke="#333" stroke-width="0.09" >10</text>
<text x="325.00" y="108.40" font-size="6.0" fill="#333" text-anchor="start" font-weight="normal" stroke="#333" stroke-width="0.09" >8</text>
<text x="325.00" y="119.30" font-size="6.0" fill="#333" text-anchor="start" font-weight="normal" stroke="#333" stroke-width="0.09" >6</text>
<text x="325.00" y="129.80" font-size="6.0" fill="#333" text-anchor="start" font-weight="normal" stroke="#333" stroke-width="0.09" >4</text>
<text x="342.50" y="13.20" font-size="10.6" fill="#111" text-anchor="start" font-weight="bold" stroke="#111" stroke-width="0.45" >C</text>
<circle cx="371.20" cy="36.60" r="1.45" fill="#222" />
<text x="375.80" y="39.50" font-size="8.2" fill="#222" text-anchor="start" font-weight="normal" stroke="#222" stroke-width="0.09" >HB</text>
<text x="395.3" y="39.5" font-size="8.2" fill="#222" stroke="#222" stroke-width="0.09">73 upregulated DEGs of CD4<tspan font-size="5" dy="-3.2">+</tspan><tspan dy="3.2"> Th</tspan></text>
<text x="436.40" y="52.00" font-size="6.0" fill="#c4204a" text-anchor="end" font-weight="normal" stroke="#c4204a" stroke-width="0.09" >immune response</text>
<text x="436.40" y="63.10" font-size="6.0" fill="#c4204a" text-anchor="end" font-weight="normal" stroke="#c4204a" stroke-width="0.09" >T cell receptor signaling pathway</text>
<text x="436.40" y="73.50" font-size="6.0" fill="#c4204a" text-anchor="end" font-weight="normal" stroke="#c4204a" stroke-width="0.09" >positive regulation of cell migration</text>
<text x="436.40" y="83.90" font-size="6.0" fill="#2a2a2a" text-anchor="end" font-weight="normal" stroke="#2a2a2a" stroke-width="0.09" >actin cytoskeleton organization</text>
<text x="436.40" y="91.20" font-size="6.0" fill="#2a2a2a" text-anchor="end" font-weight="normal" stroke="#2a2a2a" stroke-width="0.09" >tumor necrosis factor−mediated</text>
<text x="436.40" y="97.70" font-size="6.0" fill="#2a2a2a" text-anchor="end" font-weight="normal" stroke="#2a2a2a" stroke-width="0.09" >signaling pathway</text>
<text x="436.40" y="105.10" font-size="6.0" fill="#2a2a2a" text-anchor="end" font-weight="normal" stroke="#2a2a2a" stroke-width="0.09" >platelet aggregation</text>
<text x="436.40" y="113.20" font-size="6.0" fill="#2a2a2a" text-anchor="end" font-weight="normal" stroke="#2a2a2a" stroke-width="0.09" >mitochondrial ATP synthesis</text>
<text x="436.40" y="119.10" font-size="6.0" fill="#2a2a2a" text-anchor="end" font-weight="normal" stroke="#2a2a2a" stroke-width="0.09" >coupled proton transport</text>
<text x="436.40" y="127.00" font-size="6.0" fill="#c4204a" text-anchor="end" font-weight="normal" stroke="#c4204a" stroke-width="0.09" >integrin−mediated signaling pathway</text>
<text x="436.40" y="134.50" font-size="6.0" fill="#2a2a2a" text-anchor="end" font-weight="normal" stroke="#2a2a2a" stroke-width="0.09" >regulation of release of sequestered</text>
<text x="436.40" y="140.80" font-size="6.0" fill="#2a2a2a" text-anchor="end" font-weight="normal" stroke="#2a2a2a" stroke-width="0.09" >calcium ion into cytosol</text>
<text x="436.40" y="148.00" font-size="6.0" fill="#2a2a2a" text-anchor="end" font-weight="normal" stroke="#2a2a2a" stroke-width="0.09" >respiratory burst</text>
<text x="436.40" y="155.40" font-size="6.0" fill="#2a2a2a" text-anchor="end" font-weight="normal" stroke="#2a2a2a" stroke-width="0.09" >electron transport coupled</text>
<text x="436.40" y="161.60" font-size="6.0" fill="#2a2a2a" text-anchor="end" font-weight="normal" stroke="#2a2a2a" stroke-width="0.09" >proton transport</text>
<text x="436.40" y="169.20" font-size="6.0" fill="#c4204a" text-anchor="end" font-weight="normal" stroke="#c4204a" stroke-width="0.09" >alpha−beta T cell activation</text>
<rect x="444.90" y="46.10" width="24.00" height="8.80" fill="#e4161c" />
<line x1="439.60" y1="50.50" x2="442.70" y2="50.50" stroke="#111" stroke-width="0.9" />
<rect x="444.90" y="56.70" width="52.20" height="8.80" fill="#e8043a" />
<line x1="439.60" y1="61.10" x2="442.70" y2="61.10" stroke="#111" stroke-width="0.9" />
<rect x="444.90" y="67.40" width="24.00" height="8.80" fill="#de0c64" />
<line x1="439.60" y1="71.80" x2="442.70" y2="71.80" stroke="#111" stroke-width="0.9" />
<rect x="444.90" y="78.10" width="27.00" height="8.80" fill="#de0c64" />
<line x1="439.60" y1="82.50" x2="442.70" y2="82.50" stroke="#111" stroke-width="0.9" />
<rect x="444.90" y="88.70" width="27.00" height="8.80" fill="#8c1a88" />
<line x1="439.60" y1="93.10" x2="442.70" y2="93.10" stroke="#111" stroke-width="0.9" />
<rect x="444.90" y="99.40" width="31.80" height="8.80" fill="#8a1e86" />
<line x1="439.60" y1="103.80" x2="442.70" y2="103.80" stroke="#111" stroke-width="0.9" />
<rect x="444.90" y="110.20" width="30.10" height="8.80" fill="#8a1c88" />
<line x1="439.60" y1="114.60" x2="442.70" y2="114.60" stroke="#111" stroke-width="0.9" />
<rect x="444.90" y="120.60" width="21.40" height="8.80" fill="#8c1c88" />
<line x1="439.60" y1="125.00" x2="442.70" y2="125.00" stroke="#111" stroke-width="0.9" />
<rect x="444.90" y="131.00" width="31.80" height="8.80" fill="#5c2290" />
<line x1="439.60" y1="135.40" x2="442.70" y2="135.40" stroke="#111" stroke-width="0.9" />
<rect x="444.90" y="142.20" width="15.70" height="8.80" fill="#3a2488" />
<line x1="439.60" y1="146.60" x2="442.70" y2="146.60" stroke="#111" stroke-width="0.9" />
<rect x="444.90" y="152.60" width="30.10" height="8.80" fill="#3a2488" />
<line x1="439.60" y1="157.00" x2="442.70" y2="157.00" stroke="#111" stroke-width="0.9" />
<rect x="444.90" y="163.30" width="24.00" height="8.80" fill="#3a2488" />
<line x1="439.60" y1="167.70" x2="442.70" y2="167.70" stroke="#111" stroke-width="0.9" />
<line x1="442.70" y1="43.80" x2="442.70" y2="174.40" stroke="#222" stroke-width="1.2" />
<line x1="442.10" y1="173.80" x2="499.60" y2="173.80" stroke="#222" stroke-width="1.2" />
<line x1="444.70" y1="173.90" x2="444.70" y2="176.50" stroke="#222" stroke-width="0.8" />
<text x="444.70" y="185.40" font-size="6.0" fill="#333" text-anchor="middle" font-weight="normal" stroke="#333" stroke-width="0.09" >0</text>
<line x1="460.60" y1="173.90" x2="460.60" y2="176.50" stroke="#222" stroke-width="0.8" />
<text x="460.60" y="185.40" font-size="6.0" fill="#333" text-anchor="middle" font-weight="normal" stroke="#333" stroke-width="0.09" >1</text>
<line x1="476.50" y1="173.90" x2="476.50" y2="176.50" stroke="#222" stroke-width="0.8" />
<text x="476.50" y="185.40" font-size="6.0" fill="#333" text-anchor="middle" font-weight="normal" stroke="#333" stroke-width="0.09" >2</text>
<line x1="492.40" y1="173.90" x2="492.40" y2="176.50" stroke="#222" stroke-width="0.8" />
<text x="492.40" y="185.40" font-size="6.0" fill="#333" text-anchor="middle" font-weight="normal" stroke="#333" stroke-width="0.09" >3</text>
<text x="456" y="197.4" font-size="7" fill="#222" stroke="#222" stroke-width="0.3" textLength="29.8" lengthAdjust="spacingAndGlyphs">−log<tspan font-size="4.5" dy="1.8">10</tspan><tspan dy="-1.8">(FDR)</tspan></text>
<text x="500.00" y="87.30" font-size="6.2" fill="#222" text-anchor="start" font-weight="normal" stroke="#222" stroke-width="0.09" >Count</text>
<rect x="500.70" y="94.60" width="7.20" height="38.00" fill="url(#gC)" />
<text x="511.50" y="96.10" font-size="6.0" fill="#333" text-anchor="start" font-weight="normal" stroke="#333" stroke-width="0.09" >9</text>
<text x="511.50" y="102.55" font-size="6.0" fill="#333" text-anchor="start" font-weight="normal" stroke="#333" stroke-width="0.09" >8</text>
<text x="511.50" y="109.00" font-size="6.0" fill="#333" text-anchor="start" font-weight="normal" stroke="#333" stroke-width="0.09" >7</text>
<text x="511.50" y="115.45" font-size="6.0" fill="#333" text-anchor="start" font-weight="normal" stroke="#333" stroke-width="0.09" >6</text>
<text x="511.50" y="121.90" font-size="6.0" fill="#333" text-anchor="start" font-weight="normal" stroke="#333" stroke-width="0.09" >5</text>
<text x="511.50" y="128.35" font-size="6.0" fill="#333" text-anchor="start" font-weight="normal" stroke="#333" stroke-width="0.09" >4</text>
<text x="511.50" y="134.80" font-size="6.0" fill="#333" text-anchor="start" font-weight="normal" stroke="#333" stroke-width="0.09" >3</text>
<text x="12.60" y="216.80" font-size="10.6" fill="#111" text-anchor="start" font-weight="bold" stroke="#111" stroke-width="0.45" >D</text>
<text x="48.50" y="226.80" font-size="7.95" fill="#222" text-anchor="start" font-weight="normal" stroke="#222" stroke-width="0.09" >Number of clonotypes</text>
<rect x="56.20" y="322.00" width="30.30" height="38.70" fill="#22348e" />
<rect x="90.30" y="286.90" width="30.20" height="73.80" fill="#c8102e" />
<line x1="71.10" y1="291.50" x2="71.10" y2="347.70" stroke="#222" stroke-width="1.0" />
<line x1="68.20" y1="291.50" x2="74.40" y2="291.50" stroke="#222" stroke-width="0.8" />
<line x1="68.20" y1="347.70" x2="74.40" y2="347.70" stroke="#222" stroke-width="0.8" />
<line x1="104.90" y1="255.10" x2="104.90" y2="322.30" stroke="#222" stroke-width="1.0" />
<line x1="101.60" y1="255.10" x2="108.40" y2="255.10" stroke="#222" stroke-width="0.8" />
<line x1="101.60" y1="322.30" x2="108.40" y2="322.30" stroke="#222" stroke-width="0.8" />
<circle cx="71.10" cy="290.20" r="0.90" fill="#222" />
<circle cx="71.10" cy="306.20" r="0.90" fill="#222" />
<circle cx="71.10" cy="338.50" r="0.90" fill="#222" />
<circle cx="71.10" cy="347.40" r="0.90" fill="#222" />
<circle cx="104.90" cy="253.10" r="0.90" fill="#222" />
<circle cx="104.90" cy="276.20" r="0.90" fill="#222" />
<circle cx="104.90" cy="325.40" r="0.90" fill="#222" />
<circle cx="104.90" cy="321.00" r="0.90" fill="#222" />
<path d="M71.2,245.4 V242.3 H105.4 V245.4" fill="none" stroke="#555" stroke-width="0.7"/>
<text x="79.0" y="239.2" font-size="6.1" fill="#555" stroke="#555" stroke-width="0.09"><tspan font-style="italic">P</tspan> = .1</text>
<line x1="50.80" y1="236.90" x2="50.80" y2="367.20" stroke="#222" stroke-width="1.2" />
<line x1="50.40" y1="366.80" x2="125.40" y2="366.80" stroke="#222" stroke-width="1.2" />
<line x1="48.20" y1="360.70" x2="50.80" y2="360.70" stroke="#222" stroke-width="0.8" />
<text x="44.40" y="362.80" font-size="6.2" fill="#555" text-anchor="end" font-weight="normal" stroke="#555" stroke-width="0.09" >0</text>
<line x1="48.20" y1="332.45" x2="50.80" y2="332.45" stroke="#222" stroke-width="0.8" />
<text x="44.40" y="334.55" font-size="6.2" fill="#555" text-anchor="end" font-weight="normal" stroke="#555" stroke-width="0.09" >2000</text>
<line x1="48.20" y1="304.20" x2="50.80" y2="304.20" stroke="#222" stroke-width="0.8" />
<text x="44.40" y="306.30" font-size="6.2" fill="#555" text-anchor="end" font-weight="normal" stroke="#555" stroke-width="0.09" >4000</text>
<line x1="48.20" y1="275.95" x2="50.80" y2="275.95" stroke="#222" stroke-width="0.8" />
<text x="44.40" y="278.05" font-size="6.2" fill="#555" text-anchor="end" font-weight="normal" stroke="#555" stroke-width="0.09" >6000</text>
<line x1="48.20" y1="247.70" x2="50.80" y2="247.70" stroke="#222" stroke-width="0.8" />
<text x="44.40" y="249.80" font-size="6.2" fill="#555" text-anchor="end" font-weight="normal" stroke="#555" stroke-width="0.09" >8000</text>
<line x1="71.10" y1="366.80" x2="71.10" y2="369.30" stroke="#222" stroke-width="0.8" />
<text x="71.10" y="378.00" font-size="6.4" fill="#444" text-anchor="middle" font-weight="normal" stroke="#444" stroke-width="0.09" >HA</text>
<line x1="104.90" y1="366.80" x2="104.90" y2="369.30" stroke="#222" stroke-width="0.8" />
<text x="104.90" y="378.00" font-size="6.4" fill="#444" text-anchor="middle" font-weight="normal" stroke="#444" stroke-width="0.09" >HB</text>
<text transform="translate(24.6,315.5) rotate(-90)" font-size="7" fill="#222" stroke="#222" stroke-width="0.3" textLength="27" lengthAdjust="spacingAndGlyphs">Clonotypes</text>
<text x="139.80" y="216.80" font-size="10.6" fill="#111" text-anchor="start" font-weight="bold" stroke="#111" stroke-width="0.45" >E</text>
<text x="186.20" y="227.20" font-size="7.85" fill="#222" text-anchor="start" font-weight="normal" stroke="#222" stroke-width="0.09" >Top clonal proportion</text>
<rect x="180.80" y="248.50" width="7.30" height="5.30" fill="#bf3b20" />
<rect x="180.80" y="253.80" width="7.30" height="1.80" fill="#e0a832" />
<rect x="180.80" y="255.60" width="7.30" height="26.50" fill="#dae4df" />
<rect x="180.80" y="282.10" width="7.30" height="27.90" fill="#8aaad6" />
<rect x="180.80" y="310.00" width="7.30" height="51.20" fill="#232e86" />
<line x1="184.45" y1="366.50" x2="184.45" y2="369.00" stroke="#222" stroke-width="0.8" />
<text transform="translate(186.65,389.4) rotate(-90)" font-size="6.2" fill="#333" stroke="#333" stroke-width="0.09">HA01</text>
<rect x="189.30" y="248.50" width="7.30" height="1.50" fill="#bf3b20" />
<rect x="189.30" y="250.00" width="7.30" height="11.00" fill="#e0a832" />
<rect x="189.30" y="261.00" width="7.30" height="100.20" fill="#dae4df" />
<line x1="192.95" y1="366.50" x2="192.95" y2="369.00" stroke="#222" stroke-width="0.8" />
<text transform="translate(195.15,389.4) rotate(-90)" font-size="6.2" fill="#333" stroke="#333" stroke-width="0.09">HA05</text>
<rect x="197.80" y="248.50" width="7.30" height="1.00" fill="#bf3b20" />
<rect x="197.80" y="249.50" width="7.30" height="4.30" fill="#e0a832" />
<rect x="197.80" y="253.80" width="7.30" height="38.90" fill="#dae4df" />
<rect x="197.80" y="292.70" width="7.30" height="42.90" fill="#8aaad6" />
<rect x="197.80" y="335.60" width="7.30" height="25.60" fill="#232e86" />
<line x1="201.45" y1="366.50" x2="201.45" y2="369.00" stroke="#222" stroke-width="0.8" />
<text transform="translate(203.65,389.4) rotate(-90)" font-size="6.2" fill="#333" stroke="#333" stroke-width="0.09">HA14</text>
<rect x="206.30" y="248.50" width="7.30" height="5.30" fill="#bf3b20" />
<rect x="206.30" y="253.80" width="7.30" height="9.70" fill="#e0a832" />
<rect x="206.30" y="263.50" width="7.30" height="61.30" fill="#dae4df" />
<rect x="206.30" y="324.80" width="7.30" height="36.40" fill="#8aaad6" />
<line x1="209.95" y1="366.50" x2="209.95" y2="369.00" stroke="#222" stroke-width="0.8" />
<text transform="translate(212.15,389.4) rotate(-90)" font-size="6.2" fill="#333" stroke="#333" stroke-width="0.09">HA15</text>
<rect x="214.80" y="248.50" width="7.30" height="4.80" fill="#bf3b20" />
<rect x="214.80" y="253.30" width="7.30" height="4.40" fill="#e0a832" />
<rect x="214.80" y="257.70" width="7.30" height="19.20" fill="#dae4df" />
<rect x="214.80" y="276.90" width="7.30" height="21.10" fill="#8aaad6" />
<rect x="214.80" y="298.00" width="7.30" height="63.20" fill="#232e86" />
<line x1="218.45" y1="366.50" x2="218.45" y2="369.00" stroke="#222" stroke-width="0.8" />
<text transform="translate(220.65,389.4) rotate(-90)" font-size="6.2" fill="#333" stroke="#333" stroke-width="0.09">HA33</text>
<rect x="223.30" y="248.50" width="7.30" height="3.40" fill="#bf3b20" />
<rect x="223.30" y="251.90" width="7.30" height="2.30" fill="#e0a832" />
<rect x="223.30" y="254.20" width="7.30" height="17.00" fill="#dae4df" />
<rect x="223.30" y="271.20" width="7.30" height="17.60" fill="#8aaad6" />
<rect x="223.30" y="288.80" width="7.30" height="72.40" fill="#232e86" />
<line x1="226.95" y1="366.50" x2="226.95" y2="369.00" stroke="#222" stroke-width="0.8" />
<text transform="translate(229.15,389.4) rotate(-90)" font-size="6.2" fill="#333" stroke="#333" stroke-width="0.09">HB25</text>
<rect x="231.80" y="248.50" width="7.30" height="5.70" fill="#bf3b20" />
<rect x="231.80" y="254.20" width="7.30" height="6.80" fill="#e0a832" />
<rect x="231.80" y="261.00" width="7.30" height="19.80" fill="#dae4df" />
<rect x="231.80" y="280.80" width="7.30" height="20.90" fill="#8aaad6" />
<rect x="231.80" y="301.70" width="7.30" height="59.50" fill="#232e86" />
<line x1="235.45" y1="366.50" x2="235.45" y2="369.00" stroke="#222" stroke-width="0.8" />
<text transform="translate(237.65,389.4) rotate(-90)" font-size="6.2" fill="#333" stroke="#333" stroke-width="0.09">HB26</text>
<rect x="240.30" y="248.50" width="7.30" height="1.90" fill="#bf3b20" />
<rect x="240.30" y="250.40" width="7.30" height="3.80" fill="#e0a832" />
<rect x="240.30" y="254.20" width="7.30" height="41.00" fill="#dae4df" />
<rect x="240.30" y="295.20" width="7.30" height="43.60" fill="#8aaad6" />
<rect x="240.30" y="338.80" width="7.30" height="22.40" fill="#232e86" />
<line x1="243.95" y1="366.50" x2="243.95" y2="369.00" stroke="#222" stroke-width="0.8" />
<text transform="translate(246.15,389.4) rotate(-90)" font-size="6.2" fill="#333" stroke="#333" stroke-width="0.09">HB27</text>
<rect x="248.80" y="248.50" width="7.30" height="3.20" fill="#bf3b20" />
<rect x="248.80" y="251.70" width="7.30" height="4.50" fill="#e0a832" />
<rect x="248.80" y="256.20" width="7.30" height="19.20" fill="#dae4df" />
<rect x="248.80" y="275.40" width="7.30" height="20.60" fill="#8aaad6" />
<rect x="248.80" y="296.00" width="7.30" height="65.20" fill="#232e86" />
<line x1="252.45" y1="366.50" x2="252.45" y2="369.00" stroke="#222" stroke-width="0.8" />
<text transform="translate(254.65,389.4) rotate(-90)" font-size="6.2" fill="#333" stroke="#333" stroke-width="0.09">HB28</text>
<rect x="257.30" y="248.50" width="7.30" height="2.30" fill="#bf3b20" />
<rect x="257.30" y="250.80" width="7.30" height="5.00" fill="#e0a832" />
<rect x="257.30" y="255.80" width="7.30" height="12.30" fill="#dae4df" />
<rect x="257.30" y="268.10" width="7.30" height="14.00" fill="#8aaad6" />
<rect x="257.30" y="282.10" width="7.30" height="79.10" fill="#232e86" />
<line x1="260.95" y1="366.50" x2="260.95" y2="369.00" stroke="#222" stroke-width="0.8" />
<text transform="translate(263.15,389.4) rotate(-90)" font-size="6.2" fill="#333" stroke="#333" stroke-width="0.09">HB34</text>
<line x1="179.20" y1="242.70" x2="179.20" y2="366.90" stroke="#222" stroke-width="1.2" />
<line x1="178.80" y1="366.50" x2="265.40" y2="366.50" stroke="#222" stroke-width="1.2" />
<line x1="176.50" y1="361.20" x2="179.20" y2="361.20" stroke="#222" stroke-width="0.8" />
<text x="173.70" y="363.40" font-size="6.3" fill="#333" text-anchor="end" font-weight="normal" stroke="#333" stroke-width="0.09" >0%</text>
<line x1="176.50" y1="333.00" x2="179.20" y2="333.00" stroke="#222" stroke-width="0.8" />
<text x="173.70" y="335.20" font-size="6.3" fill="#333" text-anchor="end" font-weight="normal" stroke="#333" stroke-width="0.09" >25%</text>
<line x1="176.50" y1="304.80" x2="179.20" y2="304.80" stroke="#222" stroke-width="0.8" />
<text x="173.70" y="307.00" font-size="6.3" fill="#333" text-anchor="end" font-weight="normal" stroke="#333" stroke-width="0.09" >50%</text>
<line x1="176.50" y1="276.60" x2="179.20" y2="276.60" stroke="#222" stroke-width="0.8" />
<text x="173.70" y="278.80" font-size="6.3" fill="#333" text-anchor="end" font-weight="normal" stroke="#333" stroke-width="0.09" >75%</text>
<line x1="176.50" y1="248.40" x2="179.20" y2="248.40" stroke="#222" stroke-width="0.8" />
<text x="173.70" y="250.60" font-size="6.3" fill="#333" text-anchor="end" font-weight="normal" stroke="#333" stroke-width="0.09" >100%</text>
<text transform="translate(151.8,338.5) rotate(-90)" font-size="7.2" fill="#222" stroke="#222" stroke-width="0.3" textLength="66.8" lengthAdjust="spacingAndGlyphs">Occupied repertoire space</text>
<text x="269.20" y="287.00" font-size="6.1" fill="#222" text-anchor="start" font-weight="normal" stroke="#222" stroke-width="0.09" >Clonotype indices</text>
<rect x="270.20" y="290.50" width="7.20" height="6.50" fill="#bf3b20" />
<text x="279.20" y="295.90" font-size="6.3" fill="#333" text-anchor="start" font-weight="normal" stroke="#333" stroke-width="0.09" >(1:10)</text>
<rect x="270.20" y="298.20" width="7.20" height="6.50" fill="#e0a832" />
<text x="279.20" y="303.60" font-size="6.3" fill="#333" text-anchor="start" font-weight="normal" stroke="#333" stroke-width="0.09" >(11:100)</text>
<rect x="270.20" y="305.90" width="7.20" height="6.50" fill="#dae4df" />
<text x="279.20" y="311.30" font-size="6.3" fill="#333" text-anchor="start" font-weight="normal" stroke="#333" stroke-width="0.09" >(101:1000)</text>
<rect x="270.20" y="313.60" width="7.20" height="6.50" fill="#8aaad6" />
<text x="279.20" y="319.00" font-size="6.3" fill="#333" text-anchor="start" font-weight="normal" stroke="#333" stroke-width="0.09" >(1001:2000)</text>
<rect x="270.20" y="321.30" width="7.20" height="6.50" fill="#232e86" />
<text x="279.20" y="326.70" font-size="6.3" fill="#333" text-anchor="start" font-weight="normal" stroke="#333" stroke-width="0.09" >(2001:10000)</text>
<text x="329.30" y="216.80" font-size="10.6" fill="#111" text-anchor="start" font-weight="bold" stroke="#111" stroke-width="0.45" >F</text>
<text x="373.80" y="226.60" font-size="7.95" fill="#222" text-anchor="start" font-weight="normal" stroke="#222" stroke-width="0.09" >Rare clonal proportion</text>
<rect x="371.50" y="248.30" width="7.20" height="105.90" fill="#b83d1c" />
<rect x="371.50" y="354.20" width="7.20" height="0.80" fill="#d8972a" />
<rect x="371.50" y="355.00" width="7.20" height="1.00" fill="#d8dc8c" />
<rect x="371.50" y="356.00" width="7.20" height="1.70" fill="#c4dcee" />
<rect x="371.50" y="357.70" width="7.20" height="3.00" fill="#6a8fcf" />
<line x1="375.10" y1="366.50" x2="375.10" y2="369.00" stroke="#222" stroke-width="0.8" />
<text transform="translate(377.30,389.4) rotate(-90)" font-size="6.2" fill="#333" stroke="#333" stroke-width="0.09">HA01</text>
<rect x="380.00" y="248.30" width="7.20" height="111.40" fill="#b83d1c" />
<rect x="380.00" y="359.70" width="7.20" height="1.00" fill="#d8972a" />
<line x1="383.60" y1="366.50" x2="383.60" y2="369.00" stroke="#222" stroke-width="0.8" />
<text transform="translate(385.80,389.4) rotate(-90)" font-size="6.2" fill="#333" stroke="#333" stroke-width="0.09">HA05</text>
<rect x="388.50" y="248.30" width="7.20" height="110.70" fill="#b83d1c" />
<rect x="388.50" y="359.00" width="7.20" height="1.70" fill="#d8972a" />
<line x1="392.10" y1="366.50" x2="392.10" y2="369.00" stroke="#222" stroke-width="0.8" />
<text transform="translate(394.30,389.4) rotate(-90)" font-size="6.2" fill="#333" stroke="#333" stroke-width="0.09">HA14</text>
<rect x="397.00" y="248.30" width="7.20" height="100.50" fill="#b83d1c" />
<rect x="397.00" y="348.80" width="7.20" height="3.70" fill="#d8972a" />
<rect x="397.00" y="352.50" width="7.20" height="2.50" fill="#d8dc8c" />
<rect x="397.00" y="355.00" width="7.20" height="2.00" fill="#c4dcee" />
<rect x="397.00" y="357.00" width="7.20" height="3.70" fill="#6a8fcf" />
<line x1="400.60" y1="366.50" x2="400.60" y2="369.00" stroke="#222" stroke-width="0.8" />
<text transform="translate(402.80,389.4) rotate(-90)" font-size="6.2" fill="#333" stroke="#333" stroke-width="0.09">HA15</text>
<rect x="405.50" y="248.30" width="7.20" height="103.60" fill="#b83d1c" />
<rect x="405.50" y="351.90" width="7.20" height="2.50" fill="#d8972a" />
<rect x="405.50" y="354.40" width="7.20" height="1.60" fill="#d8dc8c" />
<rect x="405.50" y="356.00" width="7.20" height="1.50" fill="#c4dcee" />
<rect x="405.50" y="357.50" width="7.20" height="3.20" fill="#6a8fcf" />
<line x1="409.10" y1="366.50" x2="409.10" y2="369.00" stroke="#222" stroke-width="0.8" />
<text transform="translate(411.30,389.4) rotate(-90)" font-size="6.2" fill="#333" stroke="#333" stroke-width="0.09">HA33</text>
<rect x="414.00" y="248.30" width="7.20" height="106.60" fill="#b83d1c" />
<rect x="414.00" y="354.90" width="7.20" height="1.80" fill="#d8972a" />
<rect x="414.00" y="356.70" width="7.20" height="0.50" fill="#d8dc8c" />
<rect x="414.00" y="357.20" width="7.20" height="0.80" fill="#c4dcee" />
<rect x="414.00" y="358.00" width="7.20" height="2.50" fill="#6a8fcf" />
<rect x="414.00" y="360.50" width="7.20" height="0.20" fill="#1f2a80" />
<line x1="417.60" y1="366.50" x2="417.60" y2="369.00" stroke="#222" stroke-width="0.8" />
<text transform="translate(419.80,389.4) rotate(-90)" font-size="6.2" fill="#333" stroke="#333" stroke-width="0.09">HB25</text>
<rect x="422.50" y="248.30" width="7.20" height="97.70" fill="#b83d1c" />
<rect x="422.50" y="346.00" width="7.20" height="4.50" fill="#d8972a" />
<rect x="422.50" y="350.50" width="7.20" height="3.50" fill="#d8dc8c" />
<rect x="422.50" y="354.00" width="7.20" height="2.30" fill="#c4dcee" />
<rect x="422.50" y="356.30" width="7.20" height="1.70" fill="#6a8fcf" />
<rect x="422.50" y="358.00" width="7.20" height="2.70" fill="#1f2a80" />
<line x1="426.10" y1="366.50" x2="426.10" y2="369.00" stroke="#222" stroke-width="0.8" />
<text transform="translate(428.30,389.4) rotate(-90)" font-size="6.2" fill="#333" stroke="#333" stroke-width="0.09">HB26</text>
<rect x="431.00" y="248.30" width="7.20" height="109.30" fill="#b83d1c" />
<rect x="431.00" y="357.60" width="7.20" height="2.70" fill="#d8972a" />
<rect x="431.00" y="360.30" width="7.20" height="0.20" fill="#d8dc8c" />
<rect x="431.00" y="360.50" width="7.20" height="0.20" fill="#c4dcee" />
<line x1="434.60" y1="366.50" x2="434.60" y2="369.00" stroke="#222" stroke-width="0.8" />
<text transform="translate(436.80,389.4) rotate(-90)" font-size="6.2" fill="#333" stroke="#333" stroke-width="0.09">HB27</text>
<rect x="439.50" y="248.30" width="7.20" height="103.10" fill="#b83d1c" />
<rect x="439.50" y="351.40" width="7.20" height="3.20" fill="#d8972a" />
<rect x="439.50" y="354.60" width="7.20" height="1.40" fill="#d8dc8c" />
<rect x="439.50" y="356.00" width="7.20" height="1.50" fill="#c4dcee" />
<rect x="439.50" y="357.50" width="7.20" height="3.00" fill="#6a8fcf" />
<rect x="439.50" y="360.50" width="7.20" height="0.20" fill="#1f2a80" />
<line x1="443.10" y1="366.50" x2="443.10" y2="369.00" stroke="#222" stroke-width="0.8" />
<text transform="translate(445.30,389.4) rotate(-90)" font-size="6.2" fill="#333" stroke="#333" stroke-width="0.09">HB28</text>
<rect x="448.00" y="248.30" width="7.20" height="105.30" fill="#b83d1c" />
<rect x="448.00" y="353.60" width="7.20" height="2.00" fill="#d8972a" />
<rect x="448.00" y="355.60" width="7.20" height="1.40" fill="#d8dc8c" />
<rect x="448.00" y="357.00" width="7.20" height="1.30" fill="#c4dcee" />
<rect x="448.00" y="358.30" width="7.20" height="2.20" fill="#6a8fcf" />
<rect x="448.00" y="360.50" width="7.20" height="0.20" fill="#1f2a80" />
<line x1="451.60" y1="366.50" x2="451.60" y2="369.00" stroke="#222" stroke-width="0.8" />
<text transform="translate(453.80,389.4) rotate(-90)" font-size="6.2" fill="#333" stroke="#333" stroke-width="0.09">HB34</text>
<line x1="369.40" y1="242.70" x2="369.40" y2="366.90" stroke="#222" stroke-width="1.2" />
<line x1="369.00" y1="366.50" x2="457.20" y2="366.50" stroke="#222" stroke-width="1.2" />
<line x1="366.70" y1="360.90" x2="369.40" y2="360.90" stroke="#222" stroke-width="0.8" />
<text x="363.90" y="363.10" font-size="6.3" fill="#333" text-anchor="end" font-weight="normal" stroke="#333" stroke-width="0.09" >0%</text>
<line x1="366.70" y1="332.70" x2="369.40" y2="332.70" stroke="#222" stroke-width="0.8" />
<text x="363.90" y="334.90" font-size="6.3" fill="#333" text-anchor="end" font-weight="normal" stroke="#333" stroke-width="0.09" >25%</text>
<line x1="366.70" y1="304.50" x2="369.40" y2="304.50" stroke="#222" stroke-width="0.8" />
<text x="363.90" y="306.70" font-size="6.3" fill="#333" text-anchor="end" font-weight="normal" stroke="#333" stroke-width="0.09" >50%</text>
<line x1="366.70" y1="276.30" x2="369.40" y2="276.30" stroke="#222" stroke-width="0.8" />
<text x="363.90" y="278.50" font-size="6.3" fill="#333" text-anchor="end" font-weight="normal" stroke="#333" stroke-width="0.09" >75%</text>
<line x1="366.70" y1="248.10" x2="369.40" y2="248.10" stroke="#222" stroke-width="0.8" />
<text x="363.90" y="250.30" font-size="6.3" fill="#333" text-anchor="end" font-weight="normal" stroke="#333" stroke-width="0.09" >100%</text>
<text transform="translate(341.9,338.5) rotate(-90)" font-size="7.2" fill="#222" stroke="#222" stroke-width="0.3" textLength="66.8" lengthAdjust="spacingAndGlyphs">Occupied repertoire space</text>
<text x="459.90" y="282.60" font-size="6.0" fill="#222" text-anchor="start" font-weight="normal" stroke="#222" stroke-width="0.09" >Clonotype counts</text>
<rect x="459.90" y="287.00" width="7.00" height="6.40" fill="#b83d1c" />
<text x="470.20" y="292.20" font-size="6.0" fill="#333" text-anchor="start" font-weight="normal" stroke="#333" stroke-width="0.09" >1</text>
<rect x="459.90" y="294.80" width="7.00" height="6.40" fill="#d8972a" />
<text x="470.20" y="300.00" font-size="6.0" fill="#333" text-anchor="start" font-weight="normal" stroke="#333" stroke-width="0.09" >2 − 3</text>
<rect x="459.90" y="302.60" width="7.00" height="6.40" fill="#d8dc8c" />
<text x="470.20" y="307.80" font-size="6.0" fill="#333" text-anchor="start" font-weight="normal" stroke="#333" stroke-width="0.09" >4 − 10</text>
<rect x="459.90" y="310.40" width="7.00" height="6.40" fill="#c4dcee" />
<text x="470.20" y="315.60" font-size="6.0" fill="#333" text-anchor="start" font-weight="normal" stroke="#333" stroke-width="0.09" >11 − 30</text>
<rect x="459.90" y="318.20" width="7.00" height="6.40" fill="#6a8fcf" />
<text x="470.20" y="323.40" font-size="6.0" fill="#333" text-anchor="start" font-weight="normal" stroke="#333" stroke-width="0.09" >31 − 100</text>
<rect x="459.90" y="326.00" width="7.00" height="6.40" fill="#1f2a80" />
<text x="470.20" y="331.20" font-size="6.0" fill="#333" text-anchor="start" font-weight="normal" stroke="#333" stroke-width="0.09" >101 − MAX</text>
<text x="98.40" y="405.30" font-size="10.6" fill="#111" text-anchor="start" font-weight="bold" stroke="#111" stroke-width="0.45" >G</text>
<path d="M172.6 412.3h1v1h-1zM167.2 442.3h1v1h-1zM185.6 445.2h1v1h-1zM202.7 456.4h1v1h-1zM159.0 431.6h1v1h-1zM193.6 463.5h1v1h-1zM196.6 425.5h1v1h-1zM150.5 433.7h1v1h-1zM205.5 438.4h1v1h-1zM168.9 444.2h1v1h-1zM177.2 435.9h1v1h-1zM184.9 433.5h1v1h-1zM155.1 441.9h1v1h-1zM202.9 435.0h1v1h-1zM174.2 453.2h1v1h-1zM178.6 424.0h1v1h-1zM177.0 460.4h1v1h-1zM189.9 449.8h1v1h-1zM198.7 420.5h1v1h-1zM191.0 441.5h1v1h-1zM165.9 459.0h1v1h-1zM188.6 463.0h1v1h-1zM182.7 446.6h1v1h-1zM204.5 421.9h1v1h-1zM187.2 418.7h1v1h-1zM153.1 447.8h1v1h-1zM185.1 418.4h1v1h-1zM191.2 409.9h1v1h-1zM194.4 454.3h1v1h-1zM167.9 441.9h1v1h-1zM189.4 456.0h1v1h-1zM200.0 450.7h1v1h-1zM170.5 447.5h1v1h-1zM177.5 457.5h1v1h-1zM161.0 432.5h1v1h-1zM152.5 430.0h1v1h-1zM198.7 415.3h1v1h-1zM175.0 411.1h1v1h-1zM186.7 413.3h1v1h-1zM207.4 445.9h1v1h-1zM169.7 445.8h1v1h-1zM172.5 460.5h1v1h-1zM170.0 429.3h1v1h-1zM164.4 448.0h1v1h-1zM183.6 419.9h1v1h-1zM148.9 433.1h1v1h-1zM183.8 447.4h1v1h-1zM201.5 423.9h1v1h-1zM171.2 437.1h1v1h-1zM158.4 432.3h1v1h-1zM189.7 406.0h1v1h-1z" fill="#707070"/>
<path d="M152.1 428.0h1v1h-1zM204.9 453.3h1v1h-1zM195.4 416.6h1v1h-1zM181.3 420.1h1v1h-1zM199.4 453.7h1v1h-1zM197.6 414.8h1v1h-1zM193.4 456.8h1v1h-1zM179.4 413.8h1v1h-1zM177.4 408.2h1v1h-1zM182.0 421.6h1v1h-1zM204.3 438.8h1v1h-1zM179.5 428.8h1v1h-1zM185.1 429.9h1v1h-1zM158.0 421.9h1v1h-1zM150.9 442.3h1v1h-1zM165.4 436.4h1v1h-1zM177.2 424.3h1v1h-1zM173.6 415.4h1v1h-1zM187.2 420.0h1v1h-1zM170.1 449.9h1v1h-1zM167.9 438.0h1v1h-1zM195.4 441.6h1v1h-1zM162.7 423.5h1v1h-1zM150.7 446.8h1v1h-1zM173.4 462.4h1v1h-1zM186.5 454.4h1v1h-1zM166.2 414.7h1v1h-1zM175.5 411.2h1v1h-1zM171.7 463.6h1v1h-1zM190.0 412.0h1v1h-1zM155.6 436.1h1v1h-1zM196.0 428.5h1v1h-1zM163.0 428.6h1v1h-1zM150.3 429.2h1v1h-1zM163.4 459.0h1v1h-1zM199.5 434.2h1v1h-1zM163.0 415.7h1v1h-1zM162.4 457.7h1v1h-1zM203.9 444.0h1v1h-1zM197.0 449.8h1v1h-1zM178.6 408.4h1v1h-1zM161.1 458.0h1v1h-1zM197.6 443.3h1v1h-1zM198.5 436.0h1v1h-1zM188.6 446.1h1v1h-1zM164.6 461.1h1v1h-1zM189.4 405.3h1v1h-1zM208.0 444.9h1v1h-1zM187.4 438.6h1v1h-1zM194.3 461.4h1v1h-1zM198.2 452.2h1v1h-1zM202.4 437.5h1v1h-1zM189.6 423.5h1v1h-1zM203.3 451.6h1v1h-1zM201.6 441.1h1v1h-1zM156.6 425.5h1v1h-1zM195.6 435.7h1v1h-1zM181.7 426.7h1v1h-1zM196.8 422.3h1v1h-1zM162.5 433.4h1v1h-1zM174.9 457.0h1v1h-1zM166.7 455.6h1v1h-1zM158.4 458.0h1v1h-1zM181.6 459.9h1v1h-1zM167.3 437.1h1v1h-1zM178.2 447.9h1v1h-1zM178.0 407.3h1v1h-1zM163.2 456.3h1v1h-1zM170.1 451.2h1v1h-1zM209.1 442.3h1v1h-1zM190.0 441.2h1v1h-1zM167.4 460.5h1v1h-1zM167.0 457.6h1v1h-1zM196.8 441.4h1v1h-1zM175.4 411.4h1v1h-1zM195.8 425.5h1v1h-1zM189.0 411.0h1v1h-1zM198.2 413.8h1v1h-1zM203.9 426.1h1v1h-1zM183.7 424.8h1v1h-1zM186.5 408.4h1v1h-1zM173.0 461.9h1v1h-1zM159.1 444.0h1v1h-1zM168.3 421.6h1v1h-1zM197.7 453.8h1v1h-1zM184.2 433.9h1v1h-1zM183.6 462.1h1v1h-1zM155.2 443.9h1v1h-1zM186.3 455.3h1v1h-1zM166.8 461.4h1v1h-1zM173.2 440.5h1v1h-1zM203.6 447.2h1v1h-1zM167.2 417.1h1v1h-1zM168.3 442.3h1v1h-1zM172.8 427.9h1v1h-1zM159.4 436.8h1v1h-1zM170.6 462.9h1v1h-1zM186.6 412.4h1v1h-1zM185.4 422.3h1v1h-1zM153.7 418.9h1v1h-1zM203.3 451.9h1v1h-1zM157.2 417.6h1v1h-1zM158.1 452.7h1v1h-1zM190.2 437.2h1v1h-1zM180.5 412.5h1v1h-1zM167.6 410.2h1v1h-1zM191.5 448.9h1v1h-1zM202.5 448.2h1v1h-1zM192.9 437.6h1v1h-1zM179.2 412.3h1v1h-1zM200.3 433.2h1v1h-1zM202.2 418.8h1v1h-1zM172.3 445.8h1v1h-1zM201.4 423.4h1v1h-1zM172.0 429.4h1v1h-1zM200.6 454.8h1v1h-1zM162.4 437.6h1v1h-1zM177.6 448.1h1v1h-1zM159.5 454.9h1v1h-1zM171.5 456.3h1v1h-1zM199.7 439.8h1v1h-1zM154.6 441.8h1v1h-1zM188.1 459.5h1v1h-1zM185.2 404.9h1v1h-1zM201.2 444.5h1v1h-1zM167.1 459.4h1v1h-1zM186.8 424.0h1v1h-1zM199.7 459.1h1v1h-1zM188.8 446.9h1v1h-1zM185.5 436.0h1v1h-1zM178.9 437.1h1v1h-1zM196.5 460.2h1v1h-1zM200.3 442.1h1v1h-1zM177.6 411.7h1v1h-1zM170.3 459.0h1v1h-1zM166.5 427.2h1v1h-1zM185.5 404.7h1v1h-1zM194.8 457.3h1v1h-1zM166.5 446.4h1v1h-1zM196.9 447.2h1v1h-1zM175.1 413.6h1v1h-1zM194.9 428.4h1v1h-1zM186.9 456.0h1v1h-1zM163.9 435.0h1v1h-1zM165.8 460.6h1v1h-1zM156.2 450.7h1v1h-1zM189.5 459.1h1v1h-1zM179.0 409.7h1v1h-1zM169.1 431.4h1v1h-1zM163.1 456.0h1v1h-1zM166.4 438.5h1v1h-1zM189.0 460.1h1v1h-1zM159.1 448.1h1v1h-1zM159.2 415.6h1v1h-1zM185.6 425.6h1v1h-1zM207.0 445.9h1v1h-1zM204.0 447.2h1v1h-1zM156.5 432.9h1v1h-1zM181.9 436.8h1v1h-1zM170.5 449.7h1v1h-1zM161.6 417.6h1v1h-1zM183.6 414.9h1v1h-1zM186.7 424.3h1v1h-1zM159.9 454.9h1v1h-1zM193.3 462.1h1v1h-1zM178.8 405.1h1v1h-1zM167.0 448.2h1v1h-1zM172.4 411.4h1v1h-1zM171.3 431.9h1v1h-1zM170.1 430.8h1v1h-1zM196.6 449.0h1v1h-1zM173.9 409.8h1v1h-1zM166.3 438.0h1v1h-1zM203.5 433.1h1v1h-1zM208.4 436.0h1v1h-1zM159.2 441.6h1v1h-1zM185.2 440.6h1v1h-1zM175.1 453.3h1v1h-1zM159.3 420.6h1v1h-1zM175.0 422.5h1v1h-1zM187.3 413.3h1v1h-1zM169.4 445.4h1v1h-1zM181.7 463.4h1v1h-1zM168.8 436.6h1v1h-1zM181.7 425.7h1v1h-1zM177.2 410.1h1v1h-1zM202.8 440.3h1v1h-1zM192.1 440.4h1v1h-1zM206.4 452.3h1v1h-1zM185.5 437.0h1v1h-1zM165.5 446.4h1v1h-1zM165.8 429.0h1v1h-1zM148.2 436.1h1v1h-1zM200.9 456.1h1v1h-1zM153.0 429.5h1v1h-1zM180.1 429.4h1v1h-1zM153.7 443.2h1v1h-1zM189.4 442.5h1v1h-1zM179.7 437.4h1v1h-1zM190.8 406.6h1v1h-1zM154.4 450.9h1v1h-1zM168.1 424.0h1v1h-1zM165.2 439.8h1v1h-1zM155.3 443.2h1v1h-1zM157.7 451.2h1v1h-1zM181.8 429.5h1v1h-1zM166.9 425.3h1v1h-1zM195.1 435.8h1v1h-1zM181.3 418.2h1v1h-1zM177.9 443.9h1v1h-1zM181.7 439.4h1v1h-1zM183.4 414.8h1v1h-1zM193.0 463.1h1v1h-1zM176.0 423.6h1v1h-1zM166.9 422.6h1v1h-1zM166.6 422.6h1v1h-1zM161.0 433.2h1v1h-1zM166.1 425.9h1v1h-1zM189.1 422.5h1v1h-1zM201.5 453.1h1v1h-1zM168.4 455.5h1v1h-1zM148.2 444.1h1v1h-1zM182.5 416.7h1v1h-1zM172.4 417.9h1v1h-1zM175.4 449.0h1v1h-1zM193.7 437.9h1v1h-1zM195.1 438.9h1v1h-1zM178.4 462.0h1v1h-1zM174.8 448.9h1v1h-1zM172.3 408.0h1v1h-1zM172.0 415.9h1v1h-1zM155.8 431.5h1v1h-1zM193.7 450.6h1v1h-1zM202.8 422.7h1v1h-1zM189.5 459.0h1v1h-1zM199.5 447.6h1v1h-1zM175.0 448.1h1v1h-1zM202.5 439.1h1v1h-1zM186.5 461.2h1v1h-1zM165.6 423.8h1v1h-1zM187.0 445.2h1v1h-1zM162.8 414.2h1v1h-1zM177.7 458.2h1v1h-1zM173.9 456.1h1v1h-1zM155.7 457.5h1v1h-1zM195.3 432.3h1v1h-1zM194.0 420.3h1v1h-1zM156.7 425.4h1v1h-1zM183.0 444.5h1v1h-1zM205.6 449.6h1v1h-1zM169.6 434.8h1v1h-1zM194.9 452.5h1v1h-1zM203.8 449.6h1v1h-1zM189.5 418.7h1v1h-1zM186.5 414.4h1v1h-1zM188.1 413.7h1v1h-1zM201.9 421.9h1v1h-1zM195.8 412.3h1v1h-1zM198.7 455.7h1v1h-1zM175.3 448.3h1v1h-1zM187.6 416.8h1v1h-1zM186.1 413.6h1v1h-1zM197.3 416.5h1v1h-1zM169.6 438.9h1v1h-1zM204.8 424.0h1v1h-1zM187.4 410.0h1v1h-1zM192.1 458.2h1v1h-1zM171.8 415.6h1v1h-1zM163.4 433.6h1v1h-1zM200.7 443.1h1v1h-1zM202.1 456.2h1v1h-1zM193.0 454.8h1v1h-1zM191.6 429.7h1v1h-1zM198.8 460.8h1v1h-1zM158.5 431.4h1v1h-1zM201.6 435.9h1v1h-1zM201.0 425.8h1v1h-1zM183.1 418.2h1v1h-1zM187.7 419.7h1v1h-1zM182.9 458.5h1v1h-1zM165.8 461.3h1v1h-1zM198.3 412.5h1v1h-1zM196.3 461.9h1v1h-1zM207.6 446.4h1v1h-1zM172.2 437.0h1v1h-1zM188.3 441.4h1v1h-1zM159.7 458.7h1v1h-1zM181.5 407.0h1v1h-1zM176.6 408.5h1v1h-1zM180.8 420.2h1v1h-1zM199.3 451.3h1v1h-1zM159.6 454.0h1v1h-1zM184.1 419.6h1v1h-1zM172.7 440.5h1v1h-1zM158.1 433.7h1v1h-1zM202.8 424.3h1v1h-1zM191.9 414.6h1v1h-1zM158.2 451.1h1v1h-1zM161.1 448.8h1v1h-1zM176.8 436.1h1v1h-1zM170.6 435.1h1v1h-1zM198.9 431.0h1v1h-1zM168.3 460.5h1v1h-1zM190.8 450.5h1v1h-1zM197.9 433.3h1v1h-1zM188.8 450.0h1v1h-1zM179.2 433.5h1v1h-1zM185.3 441.3h1v1h-1zM157.8 434.8h1v1h-1zM158.9 426.9h1v1h-1zM159.1 422.8h1v1h-1zM186.9 427.8h1v1h-1zM189.5 421.6h1v1h-1zM164.9 430.2h1v1h-1zM178.6 418.8h1v1h-1zM196.1 451.5h1v1h-1zM193.3 429.1h1v1h-1zM171.1 424.6h1v1h-1zM170.7 439.1h1v1h-1zM172.1 410.7h1v1h-1zM195.5 448.1h1v1h-1zM205.5 430.7h1v1h-1zM170.5 452.8h1v1h-1zM154.4 451.2h1v1h-1zM157.2 442.1h1v1h-1zM179.9 451.5h1v1h-1zM151.9 445.1h1v1h-1zM190.4 420.3h1v1h-1zM179.0 464.8h1v1h-1z" fill="#68a99c"/>
<path d="M223.3 475.7h1v1h-1zM215.3 484.3h1v1h-1zM206.5 452.2h1v1h-1zM222.8 483.0h1v1h-1zM211.3 464.8h1v1h-1zM158.1 470.6h1v1h-1zM185.0 479.0h1v1h-1zM203.7 484.7h1v1h-1zM207.3 466.4h1v1h-1zM210.1 495.4h1v1h-1zM168.6 468.3h1v1h-1zM220.0 457.9h1v1h-1zM157.1 472.6h1v1h-1zM170.8 465.0h1v1h-1zM223.0 472.9h1v1h-1zM220.3 488.1h1v1h-1zM151.2 461.9h1v1h-1zM173.3 471.3h1v1h-1zM180.8 470.7h1v1h-1zM214.0 502.8h1v1h-1zM237.4 504.1h1v1h-1zM157.5 464.7h1v1h-1zM211.0 468.5h1v1h-1zM217.8 468.5h1v1h-1zM219.7 486.7h1v1h-1zM192.7 492.1h1v1h-1zM229.6 499.3h1v1h-1zM218.8 490.1h1v1h-1zM212.8 482.3h1v1h-1zM210.9 448.0h1v1h-1zM144.2 464.3h1v1h-1zM214.2 452.0h1v1h-1zM208.5 496.7h1v1h-1zM231.5 478.8h1v1h-1zM186.9 468.7h1v1h-1zM186.9 484.9h1v1h-1zM221.8 481.8h1v1h-1zM225.4 470.0h1v1h-1zM225.6 507.5h1v1h-1zM212.4 446.4h1v1h-1zM197.2 490.7h1v1h-1zM182.5 476.4h1v1h-1zM203.9 487.3h1v1h-1zM204.0 474.3h1v1h-1zM172.0 470.3h1v1h-1zM191.8 482.6h1v1h-1zM194.4 483.7h1v1h-1zM208.0 462.5h1v1h-1zM225.7 476.3h1v1h-1zM203.9 473.3h1v1h-1zM218.8 486.7h1v1h-1zM143.2 467.0h1v1h-1zM232.6 493.7h1v1h-1zM213.5 465.8h1v1h-1zM169.1 474.8h1v1h-1zM217.9 450.8h1v1h-1zM218.4 474.9h1v1h-1zM217.5 476.0h1v1h-1zM210.5 469.0h1v1h-1zM199.6 499.1h1v1h-1zM200.8 488.1h1v1h-1zM215.7 505.4h1v1h-1zM223.2 484.6h1v1h-1zM193.0 474.8h1v1h-1zM204.1 485.4h1v1h-1zM159.8 466.3h1v1h-1zM216.9 470.5h1v1h-1zM211.7 462.1h1v1h-1zM214.2 461.5h1v1h-1zM148.5 462.5h1v1h-1zM169.8 474.7h1v1h-1zM191.6 480.7h1v1h-1zM167.1 474.7h1v1h-1zM216.5 474.9h1v1h-1zM142.5 472.2h1v1h-1zM202.0 490.6h1v1h-1zM231.1 500.6h1v1h-1zM173.9 474.1h1v1h-1zM219.9 473.9h1v1h-1zM145.1 460.1h1v1h-1zM215.5 453.2h1v1h-1zM217.8 482.7h1v1h-1zM185.3 480.4h1v1h-1zM236.3 503.0h1v1h-1zM193.1 473.1h1v1h-1zM225.9 502.6h1v1h-1zM145.1 471.9h1v1h-1zM178.7 467.9h1v1h-1zM166.0 469.2h1v1h-1zM190.2 472.4h1v1h-1zM202.1 489.5h1v1h-1zM146.5 473.1h1v1h-1zM191.4 483.0h1v1h-1zM225.5 495.3h1v1h-1zM178.9 469.2h1v1h-1zM212.7 483.8h1v1h-1zM224.8 475.8h1v1h-1zM228.2 480.6h1v1h-1zM186.8 482.5h1v1h-1zM195.4 468.9h1v1h-1zM158.0 470.6h1v1h-1zM226.6 478.7h1v1h-1zM196.3 478.3h1v1h-1zM220.0 459.3h1v1h-1zM193.5 483.9h1v1h-1zM194.8 495.9h1v1h-1zM213.3 451.2h1v1h-1zM218.1 469.3h1v1h-1zM190.9 464.6h1v1h-1zM220.2 473.4h1v1h-1zM206.1 464.5h1v1h-1zM147.8 463.7h1v1h-1zM196.4 480.9h1v1h-1zM205.6 495.2h1v1h-1zM191.2 472.0h1v1h-1zM226.6 507.9h1v1h-1zM214.0 479.8h1v1h-1zM216.4 478.1h1v1h-1zM177.9 474.9h1v1h-1zM164.2 466.8h1v1h-1zM204.4 495.8h1v1h-1zM214.6 467.3h1v1h-1zM212.0 460.4h1v1h-1zM203.5 494.6h1v1h-1zM222.6 471.7h1v1h-1zM193.3 482.0h1v1h-1zM178.7 465.9h1v1h-1zM204.7 484.5h1v1h-1zM149.6 463.7h1v1h-1zM176.3 467.1h1v1h-1zM193.6 475.9h1v1h-1zM222.7 461.0h1v1h-1zM209.9 495.8h1v1h-1zM201.2 497.5h1v1h-1zM191.2 490.2h1v1h-1zM219.6 504.5h1v1h-1zM191.1 492.4h1v1h-1zM216.2 498.3h1v1h-1zM232.7 494.7h1v1h-1zM204.3 474.4h1v1h-1zM191.3 476.8h1v1h-1zM218.1 462.4h1v1h-1zM195.3 483.2h1v1h-1zM197.6 477.2h1v1h-1zM194.4 467.3h1v1h-1zM225.9 501.4h1v1h-1zM209.3 486.3h1v1h-1zM215.5 491.5h1v1h-1zM227.7 495.5h1v1h-1zM228.2 484.0h1v1h-1zM226.9 506.3h1v1h-1zM230.3 489.7h1v1h-1zM215.4 460.9h1v1h-1zM221.9 489.0h1v1h-1zM191.4 468.0h1v1h-1zM205.0 483.5h1v1h-1zM215.9 497.0h1v1h-1zM216.6 448.6h1v1h-1zM197.1 487.0h1v1h-1zM216.1 452.7h1v1h-1zM229.7 501.5h1v1h-1zM217.8 505.9h1v1h-1zM209.2 481.8h1v1h-1zM228.8 499.9h1v1h-1zM193.7 487.1h1v1h-1zM207.6 454.6h1v1h-1zM209.7 487.1h1v1h-1zM198.4 469.8h1v1h-1zM218.6 462.8h1v1h-1zM213.8 506.0h1v1h-1zM176.7 477.2h1v1h-1zM210.5 462.4h1v1h-1zM213.2 483.8h1v1h-1zM200.5 468.1h1v1h-1zM202.1 486.9h1v1h-1zM232.2 507.3h1v1h-1zM227.1 473.2h1v1h-1zM201.7 479.0h1v1h-1zM229.5 482.3h1v1h-1zM218.8 496.7h1v1h-1zM225.3 504.4h1v1h-1zM187.2 482.5h1v1h-1zM190.1 490.7h1v1h-1zM191.3 467.4h1v1h-1zM224.8 474.0h1v1h-1zM162.5 468.2h1v1h-1zM228.0 471.2h1v1h-1zM224.0 474.7h1v1h-1zM215.2 466.3h1v1h-1zM143.4 472.2h1v1h-1zM178.7 466.3h1v1h-1zM230.6 499.0h1v1h-1zM194.7 490.7h1v1h-1zM225.3 462.8h1v1h-1zM198.2 466.5h1v1h-1zM225.8 503.7h1v1h-1zM208.1 480.1h1v1h-1zM220.4 449.5h1v1h-1zM199.2 474.8h1v1h-1zM227.3 472.2h1v1h-1zM167.9 474.9h1v1h-1zM217.2 455.1h1v1h-1zM217.6 462.3h1v1h-1zM218.3 478.1h1v1h-1zM204.6 492.5h1v1h-1zM234.9 503.9h1v1h-1zM202.5 489.2h1v1h-1zM211.9 474.2h1v1h-1zM153.8 466.7h1v1h-1zM195.9 467.9h1v1h-1zM203.3 500.1h1v1h-1zM211.9 478.1h1v1h-1zM227.5 470.1h1v1h-1zM144.3 463.9h1v1h-1zM225.2 472.8h1v1h-1zM190.2 490.0h1v1h-1zM201.0 462.1h1v1h-1zM220.1 483.8h1v1h-1zM221.9 502.6h1v1h-1zM231.6 488.1h1v1h-1zM209.3 451.4h1v1h-1zM231.5 507.6h1v1h-1zM210.2 502.0h1v1h-1zM226.3 480.8h1v1h-1zM222.6 473.2h1v1h-1zM225.2 467.7h1v1h-1zM202.1 460.2h1v1h-1zM189.9 475.4h1v1h-1zM231.0 482.6h1v1h-1zM224.3 460.9h1v1h-1zM215.6 496.7h1v1h-1zM204.3 493.3h1v1h-1zM192.4 467.0h1v1h-1zM208.5 498.6h1v1h-1zM182.8 467.9h1v1h-1zM210.5 489.9h1v1h-1zM214.1 489.9h1v1h-1zM214.6 462.8h1v1h-1zM236.6 500.5h1v1h-1zM186.0 471.5h1v1h-1zM194.7 474.6h1v1h-1zM212.6 448.1h1v1h-1zM199.2 487.7h1v1h-1zM214.3 454.5h1v1h-1zM229.9 486.0h1v1h-1z" fill="#707070"/>
<path d="M226.3 475.5h1v1h-1zM201.9 462.6h1v1h-1zM189.7 468.9h1v1h-1zM230.3 482.7h1v1h-1zM210.8 455.8h1v1h-1zM195.0 486.5h1v1h-1zM202.0 475.0h1v1h-1zM163.6 474.2h1v1h-1zM198.5 464.0h1v1h-1zM196.1 495.1h1v1h-1zM209.2 447.6h1v1h-1zM228.3 473.8h1v1h-1zM220.3 502.9h1v1h-1zM220.2 465.9h1v1h-1zM219.0 460.3h1v1h-1zM205.6 478.9h1v1h-1zM167.5 465.6h1v1h-1zM230.2 492.0h1v1h-1zM232.2 507.2h1v1h-1zM229.8 483.3h1v1h-1zM205.6 479.4h1v1h-1zM200.4 465.6h1v1h-1zM232.0 500.5h1v1h-1zM181.1 475.5h1v1h-1zM197.8 467.1h1v1h-1zM182.0 467.9h1v1h-1zM145.3 471.9h1v1h-1zM164.7 474.8h1v1h-1zM206.7 502.7h1v1h-1zM216.3 478.3h1v1h-1zM214.9 469.5h1v1h-1zM175.5 469.7h1v1h-1zM173.7 471.4h1v1h-1zM206.7 478.8h1v1h-1zM155.6 467.0h1v1h-1zM170.0 471.7h1v1h-1zM167.8 466.7h1v1h-1zM216.8 496.8h1v1h-1zM204.7 500.5h1v1h-1zM188.4 466.4h1v1h-1zM211.2 490.9h1v1h-1zM198.9 481.6h1v1h-1zM215.0 480.7h1v1h-1zM213.4 466.9h1v1h-1zM165.1 468.8h1v1h-1zM216.4 466.6h1v1h-1zM217.5 494.5h1v1h-1zM221.2 496.2h1v1h-1zM219.9 506.8h1v1h-1zM199.3 494.5h1v1h-1zM205.5 476.9h1v1h-1zM191.4 474.5h1v1h-1zM208.9 450.1h1v1h-1zM225.5 485.1h1v1h-1zM225.9 472.8h1v1h-1zM215.2 476.4h1v1h-1zM209.3 480.3h1v1h-1zM215.2 470.1h1v1h-1zM211.4 467.5h1v1h-1zM183.7 470.6h1v1h-1zM179.1 469.7h1v1h-1zM201.5 466.0h1v1h-1zM212.2 460.6h1v1h-1zM221.1 487.2h1v1h-1zM149.7 469.2h1v1h-1zM213.5 495.0h1v1h-1zM223.2 481.5h1v1h-1zM211.5 485.4h1v1h-1zM227.0 473.7h1v1h-1zM229.5 495.0h1v1h-1zM172.0 467.8h1v1h-1zM145.3 469.9h1v1h-1zM221.1 455.4h1v1h-1zM212.3 445.8h1v1h-1zM173.3 476.3h1v1h-1zM213.0 471.7h1v1h-1zM233.0 494.5h1v1h-1zM192.6 471.4h1v1h-1zM234.7 507.7h1v1h-1zM191.0 487.9h1v1h-1zM166.2 472.4h1v1h-1zM237.9 505.7h1v1h-1zM228.5 500.5h1v1h-1zM147.6 463.4h1v1h-1zM215.3 499.2h1v1h-1zM230.4 475.1h1v1h-1zM221.0 485.2h1v1h-1zM193.8 470.6h1v1h-1zM196.6 481.2h1v1h-1zM234.9 510.8h1v1h-1zM170.4 469.4h1v1h-1zM223.5 487.3h1v1h-1zM206.8 488.5h1v1h-1zM207.9 479.4h1v1h-1zM216.1 446.9h1v1h-1zM238.0 510.2h1v1h-1zM184.2 475.8h1v1h-1zM224.4 498.3h1v1h-1zM210.6 467.1h1v1h-1zM160.4 467.8h1v1h-1zM146.3 464.0h1v1h-1zM222.5 502.8h1v1h-1zM207.6 449.1h1v1h-1zM227.8 468.4h1v1h-1zM222.0 484.9h1v1h-1zM187.0 471.7h1v1h-1zM229.2 502.0h1v1h-1zM171.8 471.4h1v1h-1zM158.6 469.4h1v1h-1zM201.2 466.6h1v1h-1zM160.5 473.2h1v1h-1zM209.4 456.2h1v1h-1zM206.4 485.7h1v1h-1zM199.0 487.1h1v1h-1zM218.2 504.5h1v1h-1zM188.0 483.4h1v1h-1zM207.9 456.6h1v1h-1zM211.1 465.4h1v1h-1zM183.6 477.0h1v1h-1zM215.6 481.4h1v1h-1zM214.3 461.8h1v1h-1zM213.0 466.3h1v1h-1zM155.6 469.6h1v1h-1zM214.6 456.9h1v1h-1zM214.0 477.8h1v1h-1zM208.1 472.1h1v1h-1zM224.5 494.6h1v1h-1zM213.4 476.3h1v1h-1zM193.5 490.1h1v1h-1zM219.8 469.1h1v1h-1zM160.9 473.9h1v1h-1zM219.6 465.9h1v1h-1zM161.5 471.2h1v1h-1zM215.7 485.1h1v1h-1zM219.0 477.5h1v1h-1zM197.4 486.8h1v1h-1zM169.1 475.4h1v1h-1zM206.7 478.4h1v1h-1zM210.5 482.0h1v1h-1zM158.7 465.3h1v1h-1zM197.6 485.8h1v1h-1zM228.1 482.4h1v1h-1zM172.7 472.3h1v1h-1zM186.8 468.4h1v1h-1zM189.3 472.5h1v1h-1zM158.4 469.6h1v1h-1zM203.9 493.6h1v1h-1zM228.9 500.0h1v1h-1zM170.2 473.2h1v1h-1zM170.3 468.9h1v1h-1zM233.3 496.5h1v1h-1zM230.3 508.6h1v1h-1zM226.9 465.8h1v1h-1zM155.3 464.6h1v1h-1zM193.4 470.5h1v1h-1zM186.9 468.7h1v1h-1zM188.6 473.9h1v1h-1zM224.2 505.8h1v1h-1zM215.0 473.9h1v1h-1zM213.9 499.7h1v1h-1zM227.3 481.1h1v1h-1zM224.4 473.4h1v1h-1zM182.7 469.2h1v1h-1zM170.4 465.2h1v1h-1zM198.6 470.3h1v1h-1zM205.4 485.1h1v1h-1zM201.0 477.1h1v1h-1zM187.5 473.2h1v1h-1zM210.6 455.2h1v1h-1zM220.9 490.3h1v1h-1zM218.6 463.9h1v1h-1zM225.6 478.9h1v1h-1zM192.7 466.1h1v1h-1zM224.8 483.6h1v1h-1zM214.6 457.2h1v1h-1zM165.1 467.6h1v1h-1zM232.7 492.2h1v1h-1zM214.4 501.1h1v1h-1zM175.7 466.7h1v1h-1zM204.2 476.4h1v1h-1zM215.5 469.4h1v1h-1zM237.9 506.4h1v1h-1zM198.1 473.7h1v1h-1zM204.2 496.4h1v1h-1zM218.9 486.7h1v1h-1zM197.6 463.3h1v1h-1zM233.0 500.4h1v1h-1zM201.7 463.6h1v1h-1zM221.1 466.7h1v1h-1zM198.2 466.1h1v1h-1zM215.3 501.9h1v1h-1zM170.9 470.6h1v1h-1zM239.2 512.9h1v1h-1zM225.3 502.8h1v1h-1zM221.9 493.6h1v1h-1zM208.2 456.0h1v1h-1zM190.8 483.6h1v1h-1zM230.7 499.6h1v1h-1zM220.8 450.8h1v1h-1zM210.6 485.3h1v1h-1zM210.5 505.0h1v1h-1zM186.8 479.0h1v1h-1zM232.8 498.8h1v1h-1zM209.4 453.2h1v1h-1zM234.7 499.5h1v1h-1zM204.2 484.0h1v1h-1zM224.6 462.7h1v1h-1zM151.9 470.2h1v1h-1zM172.7 475.7h1v1h-1zM221.9 468.0h1v1h-1zM189.2 469.8h1v1h-1zM210.1 454.6h1v1h-1zM208.1 483.4h1v1h-1zM156.3 473.3h1v1h-1zM205.1 459.2h1v1h-1zM236.6 497.4h1v1h-1zM162.5 464.6h1v1h-1zM199.5 473.4h1v1h-1zM182.9 468.1h1v1h-1zM222.3 473.6h1v1h-1zM146.6 461.0h1v1h-1zM230.7 510.5h1v1h-1zM222.3 469.8h1v1h-1zM189.5 485.0h1v1h-1zM209.0 465.9h1v1h-1zM208.9 454.6h1v1h-1zM230.2 486.9h1v1h-1zM209.1 447.3h1v1h-1zM199.8 473.4h1v1h-1zM197.9 493.8h1v1h-1zM229.4 496.2h1v1h-1zM151.6 468.9h1v1h-1zM210.5 497.2h1v1h-1zM202.1 470.3h1v1h-1zM214.1 462.6h1v1h-1zM215.2 505.1h1v1h-1zM224.8 488.8h1v1h-1zM214.0 500.9h1v1h-1zM214.8 443.2h1v1h-1zM194.2 466.2h1v1h-1zM235.2 496.4h1v1h-1zM193.6 477.2h1v1h-1zM204.4 471.9h1v1h-1zM212.6 464.4h1v1h-1zM208.2 499.9h1v1h-1zM209.7 504.8h1v1h-1zM221.4 486.0h1v1h-1zM149.0 461.4h1v1h-1zM207.9 499.3h1v1h-1zM186.0 478.1h1v1h-1zM215.2 453.5h1v1h-1zM208.3 492.0h1v1h-1zM192.3 487.1h1v1h-1zM198.9 476.5h1v1h-1zM158.2 474.1h1v1h-1zM184.2 468.2h1v1h-1zM189.6 472.5h1v1h-1zM224.5 501.1h1v1h-1zM173.9 473.8h1v1h-1zM198.8 484.3h1v1h-1zM195.9 495.5h1v1h-1zM208.5 460.3h1v1h-1zM196.0 485.3h1v1h-1zM186.2 477.8h1v1h-1zM207.6 494.9h1v1h-1zM211.9 469.9h1v1h-1zM204.9 466.4h1v1h-1zM224.6 484.0h1v1h-1zM229.4 488.7h1v1h-1zM202.8 459.4h1v1h-1zM215.3 473.2h1v1h-1zM199.0 473.7h1v1h-1zM216.3 504.6h1v1h-1zM230.9 496.7h1v1h-1zM233.4 501.6h1v1h-1z" fill="#68a99c"/>
<path d="M217.7 454.6h1v1h-1zM213.1 450.7h1v1h-1zM216.6 447.2h1v1h-1zM209.9 451.2h1v1h-1zM214.7 442.5h1v1h-1zM214.5 437.7h1v1h-1zM207.2 435.4h1v1h-1zM218.7 445.7h1v1h-1zM217.3 443.3h1v1h-1zM210.6 441.3h1v1h-1zM211.1 454.5h1v1h-1zM209.6 437.5h1v1h-1zM216.1 446.3h1v1h-1zM212.6 441.2h1v1h-1zM214.4 440.1h1v1h-1zM208.5 438.2h1v1h-1zM212.8 450.8h1v1h-1zM210.0 435.5h1v1h-1zM210.8 443.3h1v1h-1zM208.4 441.1h1v1h-1zM214.9 444.7h1v1h-1zM213.2 442.7h1v1h-1zM213.6 448.3h1v1h-1z" fill="#68a99c"/>
<path d="M210.9 438.1h1v1h-1zM219.2 447.8h1v1h-1zM211.5 448.4h1v1h-1zM208.1 437.4h1v1h-1zM210.7 451.3h1v1h-1zM215.9 447.9h1v1h-1zM209.0 447.6h1v1h-1zM208.2 440.1h1v1h-1zM207.5 436.9h1v1h-1zM216.9 452.9h1v1h-1zM209.3 434.3h1v1h-1zM209.5 442.9h1v1h-1zM214.6 448.4h1v1h-1zM215.6 442.9h1v1h-1zM212.3 445.7h1v1h-1zM211.4 436.5h1v1h-1zM212.4 438.0h1v1h-1zM206.6 435.5h1v1h-1zM210.5 446.5h1v1h-1zM215.1 452.2h1v1h-1zM222.5 446.7h1v1h-1zM210.5 454.4h1v1h-1zM210.7 434.5h1v1h-1zM209.6 448.6h1v1h-1zM214.1 445.1h1v1h-1zM210.6 440.8h1v1h-1zM217.6 447.8h1v1h-1zM212.4 454.4h1v1h-1zM217.8 445.4h1v1h-1zM221.7 451.9h1v1h-1zM214.1 450.8h1v1h-1zM210.5 448.3h1v1h-1zM212.2 454.5h1v1h-1zM218.7 455.2h1v1h-1zM215.4 452.0h1v1h-1zM214.0 453.6h1v1h-1zM216.4 451.1h1v1h-1z" fill="#707070"/>
<path d="M193.5 523.4h1v1h-1zM215.2 537.9h1v1h-1zM208.2 536.4h1v1h-1zM233.9 516.7h1v1h-1zM174.1 487.8h1v1h-1zM183.5 511.3h1v1h-1zM116.7 485.6h1v1h-1zM150.2 536.0h1v1h-1zM141.4 485.5h1v1h-1zM182.9 518.8h1v1h-1zM202.0 539.6h1v1h-1zM160.5 481.9h1v1h-1zM133.4 474.7h1v1h-1zM153.0 513.4h1v1h-1zM157.6 492.3h1v1h-1zM154.8 504.6h1v1h-1zM209.5 530.8h1v1h-1zM161.1 511.7h1v1h-1zM139.8 524.4h1v1h-1zM158.4 495.5h1v1h-1zM181.1 525.8h1v1h-1zM215.5 531.9h1v1h-1zM126.5 494.5h1v1h-1zM192.0 536.1h1v1h-1zM183.7 492.5h1v1h-1zM154.9 482.8h1v1h-1zM124.9 480.7h1v1h-1zM201.8 541.8h1v1h-1zM135.4 473.5h1v1h-1zM166.1 487.1h1v1h-1zM172.4 500.4h1v1h-1zM119.1 505.5h1v1h-1zM207.2 538.4h1v1h-1zM194.4 526.7h1v1h-1zM128.4 501.3h1v1h-1zM240.9 531.4h1v1h-1zM176.5 522.5h1v1h-1zM175.4 491.0h1v1h-1zM165.9 480.5h1v1h-1zM235.9 515.1h1v1h-1zM177.9 494.4h1v1h-1zM126.2 489.6h1v1h-1zM213.5 532.5h1v1h-1zM160.5 526.6h1v1h-1zM212.6 520.0h1v1h-1zM198.7 524.7h1v1h-1zM160.8 520.7h1v1h-1zM150.4 505.0h1v1h-1zM212.0 519.7h1v1h-1zM196.9 511.8h1v1h-1zM146.6 518.4h1v1h-1zM173.3 528.8h1v1h-1zM196.6 527.4h1v1h-1zM158.8 516.4h1v1h-1zM208.0 529.6h1v1h-1zM159.1 530.7h1v1h-1zM224.6 519.6h1v1h-1zM180.3 508.1h1v1h-1zM213.3 511.8h1v1h-1zM193.6 525.8h1v1h-1zM195.2 521.9h1v1h-1zM170.6 516.8h1v1h-1zM142.6 519.4h1v1h-1zM174.4 486.3h1v1h-1zM121.8 479.6h1v1h-1zM155.0 483.1h1v1h-1zM139.4 472.6h1v1h-1zM173.6 497.4h1v1h-1zM192.1 512.5h1v1h-1zM150.1 499.5h1v1h-1zM162.1 472.6h1v1h-1zM183.7 494.4h1v1h-1zM188.2 539.0h1v1h-1zM217.4 516.2h1v1h-1zM161.5 480.2h1v1h-1zM190.1 510.6h1v1h-1zM128.6 510.7h1v1h-1zM194.3 534.2h1v1h-1zM162.4 501.1h1v1h-1zM143.5 491.0h1v1h-1zM190.1 488.7h1v1h-1zM167.4 493.0h1v1h-1zM151.1 504.3h1v1h-1zM130.4 514.8h1v1h-1zM170.9 491.1h1v1h-1zM213.5 529.5h1v1h-1zM148.7 481.1h1v1h-1zM191.6 504.2h1v1h-1zM196.3 513.5h1v1h-1zM182.2 494.2h1v1h-1zM152.4 508.2h1v1h-1zM173.5 496.0h1v1h-1zM208.9 512.5h1v1h-1zM119.6 488.2h1v1h-1zM172.4 536.0h1v1h-1zM168.9 511.4h1v1h-1zM204.2 515.5h1v1h-1zM175.7 535.6h1v1h-1zM163.6 498.2h1v1h-1zM152.4 529.8h1v1h-1zM151.1 526.2h1v1h-1zM175.3 509.5h1v1h-1zM177.7 493.8h1v1h-1zM144.0 529.0h1v1h-1zM214.8 517.8h1v1h-1zM196.4 538.6h1v1h-1zM151.9 536.1h1v1h-1zM133.9 514.0h1v1h-1zM167.2 481.6h1v1h-1zM128.6 497.3h1v1h-1zM124.1 474.1h1v1h-1zM187.5 523.4h1v1h-1zM169.4 492.6h1v1h-1zM190.6 505.2h1v1h-1zM134.0 515.5h1v1h-1zM178.7 535.6h1v1h-1zM148.2 509.7h1v1h-1zM147.0 524.0h1v1h-1zM180.1 479.6h1v1h-1zM144.5 496.7h1v1h-1zM204.9 517.2h1v1h-1zM126.5 479.0h1v1h-1zM189.8 487.2h1v1h-1zM155.7 527.3h1v1h-1zM121.8 480.9h1v1h-1zM235.0 519.0h1v1h-1zM143.1 478.4h1v1h-1zM237.6 517.9h1v1h-1zM144.6 494.0h1v1h-1zM163.6 479.8h1v1h-1zM189.7 511.3h1v1h-1zM140.5 472.8h1v1h-1zM174.2 534.1h1v1h-1zM173.7 477.2h1v1h-1zM134.5 481.5h1v1h-1zM162.2 497.8h1v1h-1zM147.0 490.0h1v1h-1zM135.4 490.7h1v1h-1zM144.6 504.7h1v1h-1zM161.5 537.5h1v1h-1zM201.7 518.5h1v1h-1zM174.4 538.1h1v1h-1zM129.9 518.1h1v1h-1zM151.7 518.6h1v1h-1zM140.3 471.8h1v1h-1zM144.0 475.6h1v1h-1zM165.5 540.1h1v1h-1zM160.9 492.5h1v1h-1zM174.0 490.4h1v1h-1zM207.3 521.7h1v1h-1zM135.6 487.3h1v1h-1zM199.7 537.7h1v1h-1zM166.7 473.2h1v1h-1zM184.1 541.3h1v1h-1zM180.4 495.2h1v1h-1zM126.8 475.1h1v1h-1zM145.7 473.6h1v1h-1zM147.2 499.3h1v1h-1zM153.5 473.7h1v1h-1zM165.7 508.3h1v1h-1zM125.6 492.6h1v1h-1zM128.6 509.0h1v1h-1zM176.3 511.1h1v1h-1zM162.5 515.0h1v1h-1zM206.4 535.7h1v1h-1zM153.8 502.3h1v1h-1zM129.6 492.4h1v1h-1zM131.4 475.9h1v1h-1zM169.0 511.5h1v1h-1zM145.9 474.4h1v1h-1zM140.2 490.6h1v1h-1zM162.1 477.1h1v1h-1zM168.0 492.6h1v1h-1zM209.8 510.0h1v1h-1zM227.9 517.1h1v1h-1zM210.7 511.4h1v1h-1zM170.7 528.8h1v1h-1zM197.6 538.7h1v1h-1zM206.7 520.5h1v1h-1zM148.7 528.5h1v1h-1zM163.2 479.4h1v1h-1zM123.3 482.2h1v1h-1zM148.1 518.7h1v1h-1zM151.0 474.6h1v1h-1zM211.2 510.1h1v1h-1zM131.4 495.7h1v1h-1zM169.0 496.1h1v1h-1zM156.6 470.9h1v1h-1zM188.6 529.5h1v1h-1zM181.8 482.3h1v1h-1zM233.3 527.2h1v1h-1zM129.9 492.8h1v1h-1zM169.7 501.8h1v1h-1zM211.7 537.4h1v1h-1zM175.7 533.5h1v1h-1zM164.5 485.5h1v1h-1zM149.9 484.5h1v1h-1zM185.9 495.7h1v1h-1zM159.3 487.9h1v1h-1zM238.8 530.5h1v1h-1zM222.1 514.5h1v1h-1zM165.5 480.3h1v1h-1zM119.8 482.2h1v1h-1zM201.0 532.1h1v1h-1zM193.5 527.6h1v1h-1zM179.5 512.2h1v1h-1zM138.3 498.0h1v1h-1zM155.0 471.9h1v1h-1zM175.0 520.6h1v1h-1zM165.3 540.7h1v1h-1zM217.8 536.5h1v1h-1zM182.6 527.5h1v1h-1zM160.7 512.7h1v1h-1zM200.6 507.6h1v1h-1zM150.8 475.6h1v1h-1zM126.0 495.6h1v1h-1zM188.1 524.7h1v1h-1zM209.9 518.2h1v1h-1zM201.6 530.4h1v1h-1zM208.1 514.0h1v1h-1zM141.3 507.2h1v1h-1zM164.2 482.8h1v1h-1zM197.3 534.8h1v1h-1zM229.7 514.2h1v1h-1zM163.7 477.8h1v1h-1zM201.8 509.8h1v1h-1zM153.5 489.3h1v1h-1zM193.4 534.6h1v1h-1zM136.1 515.6h1v1h-1zM122.9 510.7h1v1h-1zM219.6 533.3h1v1h-1zM168.6 508.1h1v1h-1zM150.4 513.6h1v1h-1zM185.9 513.4h1v1h-1zM138.2 483.7h1v1h-1zM189.9 516.5h1v1h-1zM202.0 522.5h1v1h-1zM122.7 504.9h1v1h-1zM155.1 531.2h1v1h-1zM196.3 536.7h1v1h-1zM143.9 520.2h1v1h-1zM127.7 483.9h1v1h-1zM134.7 476.7h1v1h-1zM134.1 514.3h1v1h-1zM207.8 528.8h1v1h-1zM216.3 521.3h1v1h-1zM193.8 539.5h1v1h-1zM128.0 477.4h1v1h-1zM123.1 484.9h1v1h-1zM162.2 503.0h1v1h-1zM125.6 499.0h1v1h-1zM183.5 497.0h1v1h-1zM129.8 513.0h1v1h-1zM162.2 519.2h1v1h-1zM177.4 539.3h1v1h-1zM210.7 521.9h1v1h-1zM152.3 478.4h1v1h-1zM175.4 495.5h1v1h-1zM207.9 536.1h1v1h-1zM163.1 490.9h1v1h-1zM177.8 520.2h1v1h-1zM214.4 511.4h1v1h-1zM152.3 494.3h1v1h-1zM121.3 500.3h1v1h-1zM145.0 518.0h1v1h-1zM124.2 489.5h1v1h-1zM127.1 504.4h1v1h-1zM163.7 537.2h1v1h-1zM126.6 495.6h1v1h-1zM117.1 488.1h1v1h-1zM172.7 497.6h1v1h-1zM180.1 473.8h1v1h-1zM170.8 504.0h1v1h-1zM179.0 473.8h1v1h-1zM164.5 526.0h1v1h-1zM228.7 516.4h1v1h-1zM167.1 532.9h1v1h-1zM219.0 535.9h1v1h-1zM210.3 534.2h1v1h-1zM168.2 540.0h1v1h-1zM168.1 489.5h1v1h-1zM174.2 490.6h1v1h-1zM124.3 497.4h1v1h-1zM228.1 533.7h1v1h-1zM139.8 471.3h1v1h-1zM138.3 500.9h1v1h-1zM148.6 524.3h1v1h-1zM162.0 525.8h1v1h-1zM134.1 507.3h1v1h-1zM237.8 520.5h1v1h-1zM126.3 478.0h1v1h-1zM161.5 504.4h1v1h-1zM188.3 539.5h1v1h-1zM145.4 510.9h1v1h-1zM148.1 509.3h1v1h-1zM175.6 520.8h1v1h-1zM191.9 527.1h1v1h-1zM122.1 506.0h1v1h-1zM119.8 497.8h1v1h-1zM158.6 471.5h1v1h-1zM152.5 502.4h1v1h-1zM161.7 508.2h1v1h-1zM204.9 537.5h1v1h-1zM153.0 482.0h1v1h-1zM171.5 523.0h1v1h-1zM181.6 498.0h1v1h-1zM184.5 529.7h1v1h-1zM177.3 510.7h1v1h-1zM141.1 502.7h1v1h-1zM122.5 476.3h1v1h-1zM158.1 480.4h1v1h-1zM149.7 526.4h1v1h-1zM219.5 515.1h1v1h-1zM146.0 489.0h1v1h-1zM132.3 473.7h1v1h-1zM208.2 510.4h1v1h-1zM205.9 514.0h1v1h-1zM173.0 516.7h1v1h-1zM134.6 485.6h1v1h-1zM140.9 476.4h1v1h-1zM159.4 475.7h1v1h-1zM168.6 514.8h1v1h-1zM132.5 505.4h1v1h-1zM187.2 535.7h1v1h-1zM133.3 489.3h1v1h-1zM177.2 508.6h1v1h-1zM213.8 530.2h1v1h-1zM152.0 477.8h1v1h-1zM147.7 495.7h1v1h-1zM194.3 516.1h1v1h-1zM128.0 515.5h1v1h-1zM221.4 511.9h1v1h-1zM163.4 515.8h1v1h-1zM127.1 474.6h1v1h-1zM153.0 483.0h1v1h-1zM233.9 526.9h1v1h-1zM128.1 500.0h1v1h-1zM143.5 471.9h1v1h-1zM186.2 490.9h1v1h-1zM128.6 506.8h1v1h-1zM173.7 477.4h1v1h-1zM182.7 476.0h1v1h-1zM170.1 489.6h1v1h-1zM184.4 540.1h1v1h-1zM179.8 536.1h1v1h-1zM163.1 515.6h1v1h-1zM132.6 473.9h1v1h-1zM170.8 536.1h1v1h-1zM187.3 506.0h1v1h-1zM150.8 523.6h1v1h-1zM147.3 503.9h1v1h-1zM210.6 513.6h1v1h-1zM131.9 484.6h1v1h-1z" fill="#68a99c"/>
<path d="M118.7 503.5h1v1h-1zM157.8 536.5h1v1h-1zM189.8 529.5h1v1h-1zM152.1 502.6h1v1h-1zM202.1 521.8h1v1h-1zM134.3 512.2h1v1h-1zM184.9 514.7h1v1h-1zM219.7 516.6h1v1h-1zM165.1 474.3h1v1h-1zM137.6 506.6h1v1h-1zM145.9 476.1h1v1h-1zM182.1 539.8h1v1h-1zM154.3 497.6h1v1h-1zM202.3 518.3h1v1h-1zM200.7 523.5h1v1h-1zM125.8 490.1h1v1h-1zM235.3 519.5h1v1h-1zM169.8 512.7h1v1h-1zM136.3 503.0h1v1h-1zM167.8 506.3h1v1h-1zM197.5 536.6h1v1h-1zM132.4 495.3h1v1h-1zM164.0 515.3h1v1h-1zM126.7 474.8h1v1h-1zM227.4 521.9h1v1h-1zM166.5 493.7h1v1h-1zM168.9 485.1h1v1h-1z" fill="#707070"/>
<path d="M287.2 484.4h1v1h-1zM262.5 473.5h1v1h-1zM277.8 477.7h1v1h-1zM279.6 485.3h1v1h-1zM274.2 477.6h1v1h-1zM261.4 475.5h1v1h-1zM288.3 487.1h1v1h-1zM271.7 477.0h1v1h-1zM272.0 479.5h1v1h-1zM283.1 482.2h1v1h-1zM275.8 475.5h1v1h-1zM284.9 487.2h1v1h-1zM265.9 477.3h1v1h-1zM254.4 472.1h1v1h-1zM286.4 485.5h1v1h-1zM275.0 476.0h1v1h-1zM285.5 483.7h1v1h-1zM270.7 482.3h1v1h-1zM276.5 479.0h1v1h-1zM268.2 483.2h1v1h-1zM274.8 480.5h1v1h-1zM287.4 484.5h1v1h-1zM269.1 482.8h1v1h-1z" fill="#68a99c"/>
<path d="M261.6 476.1h1v1h-1zM286.3 489.0h1v1h-1zM261.3 478.9h1v1h-1zM274.6 476.6h1v1h-1zM263.5 479.9h1v1h-1zM272.1 472.3h1v1h-1zM285.6 490.3h1v1h-1zM274.8 479.1h1v1h-1zM267.2 476.3h1v1h-1zM276.7 484.9h1v1h-1zM255.9 476.2h1v1h-1zM281.5 481.1h1v1h-1zM275.2 481.2h1v1h-1zM273.2 479.2h1v1h-1zM278.5 477.8h1v1h-1zM262.9 471.1h1v1h-1zM279.9 486.8h1v1h-1zM283.8 485.3h1v1h-1zM261.2 471.8h1v1h-1zM268.7 478.1h1v1h-1zM274.8 480.0h1v1h-1zM271.2 479.4h1v1h-1zM269.3 478.2h1v1h-1zM260.5 473.3h1v1h-1zM282.4 480.1h1v1h-1zM278.3 484.7h1v1h-1zM284.6 484.8h1v1h-1z" fill="#707070"/>
<path d="M235.4 462.9h1v1h-1zM238.0 461.7h1v1h-1zM256.8 469.0h1v1h-1zM219.3 462.1h1v1h-1zM248.1 456.8h1v1h-1zM230.4 473.0h1v1h-1zM234.7 461.0h1v1h-1zM232.1 448.5h1v1h-1zM255.9 464.3h1v1h-1zM256.2 462.0h1v1h-1zM233.3 463.9h1v1h-1zM249.5 474.0h1v1h-1zM228.9 450.3h1v1h-1zM251.0 478.0h1v1h-1zM248.6 455.4h1v1h-1zM243.2 477.3h1v1h-1zM219.5 453.5h1v1h-1zM232.6 456.7h1v1h-1zM223.9 449.5h1v1h-1zM240.7 466.5h1v1h-1zM242.1 463.2h1v1h-1zM233.0 462.3h1v1h-1zM220.5 458.0h1v1h-1zM226.2 470.5h1v1h-1zM228.7 462.0h1v1h-1zM228.6 460.0h1v1h-1zM263.9 469.8h1v1h-1zM228.7 463.6h1v1h-1zM249.8 468.1h1v1h-1zM253.6 477.2h1v1h-1zM242.7 467.3h1v1h-1zM223.2 447.7h1v1h-1zM262.7 471.1h1v1h-1zM226.9 467.2h1v1h-1zM227.8 461.4h1v1h-1zM255.4 472.5h1v1h-1zM237.7 451.1h1v1h-1zM218.8 453.4h1v1h-1zM237.7 472.9h1v1h-1zM234.7 468.5h1v1h-1zM238.0 478.8h1v1h-1zM226.0 448.9h1v1h-1zM220.0 460.2h1v1h-1zM246.0 467.3h1v1h-1zM261.2 464.1h1v1h-1zM233.1 467.3h1v1h-1zM225.0 461.2h1v1h-1zM231.6 467.1h1v1h-1zM237.6 449.7h1v1h-1zM251.1 477.5h1v1h-1zM247.6 456.8h1v1h-1zM232.7 468.5h1v1h-1zM219.0 450.8h1v1h-1zM254.9 471.5h1v1h-1zM258.0 472.2h1v1h-1zM227.7 471.1h1v1h-1zM230.9 450.5h1v1h-1zM241.9 458.8h1v1h-1zM230.2 460.8h1v1h-1zM223.7 460.8h1v1h-1zM241.2 477.6h1v1h-1zM247.2 457.1h1v1h-1zM249.0 472.2h1v1h-1zM234.2 472.8h1v1h-1zM237.5 460.5h1v1h-1zM218.9 448.4h1v1h-1zM233.1 460.9h1v1h-1zM229.7 460.7h1v1h-1zM227.8 467.7h1v1h-1zM224.5 466.4h1v1h-1zM223.8 449.7h1v1h-1zM229.8 455.9h1v1h-1zM243.0 471.2h1v1h-1zM234.9 469.0h1v1h-1zM256.9 476.3h1v1h-1zM244.5 471.3h1v1h-1zM244.8 476.5h1v1h-1z" fill="#707070"/>
<path d="M237.7 468.7h1v1h-1zM230.4 468.0h1v1h-1zM234.1 451.7h1v1h-1zM255.9 478.6h1v1h-1zM228.8 457.2h1v1h-1zM248.9 478.3h1v1h-1zM229.3 452.1h1v1h-1zM232.6 462.2h1v1h-1zM258.4 463.2h1v1h-1zM247.4 463.5h1v1h-1zM219.1 451.8h1v1h-1zM229.1 460.4h1v1h-1zM235.7 464.8h1v1h-1zM249.6 460.2h1v1h-1zM263.7 472.8h1v1h-1zM222.5 451.0h1v1h-1zM223.0 451.9h1v1h-1zM240.3 471.1h1v1h-1zM250.0 477.5h1v1h-1zM228.4 460.7h1v1h-1zM223.2 450.8h1v1h-1zM238.8 474.7h1v1h-1zM228.8 453.1h1v1h-1zM250.0 474.2h1v1h-1zM242.0 464.6h1v1h-1zM250.1 470.9h1v1h-1zM256.7 471.0h1v1h-1zM237.3 459.9h1v1h-1zM252.5 467.8h1v1h-1zM258.6 475.2h1v1h-1zM256.3 463.9h1v1h-1zM228.5 466.2h1v1h-1zM234.8 470.6h1v1h-1zM253.9 476.9h1v1h-1zM226.7 450.0h1v1h-1zM221.8 448.1h1v1h-1zM225.2 469.4h1v1h-1zM238.0 471.8h1v1h-1zM236.4 453.4h1v1h-1zM253.7 459.4h1v1h-1zM246.5 460.6h1v1h-1zM253.1 465.2h1v1h-1zM258.7 461.8h1v1h-1zM243.8 479.0h1v1h-1zM246.2 457.0h1v1h-1zM239.3 470.9h1v1h-1zM263.7 472.9h1v1h-1zM222.0 460.8h1v1h-1zM233.2 452.6h1v1h-1zM238.1 456.6h1v1h-1zM219.9 449.8h1v1h-1zM218.2 449.2h1v1h-1zM228.7 453.0h1v1h-1zM236.6 478.5h1v1h-1zM262.4 472.0h1v1h-1zM255.8 460.1h1v1h-1zM234.1 462.2h1v1h-1zM246.3 464.4h1v1h-1zM251.5 464.6h1v1h-1zM230.6 458.9h1v1h-1zM248.4 470.7h1v1h-1zM260.0 474.0h1v1h-1zM238.7 452.0h1v1h-1zM247.2 466.7h1v1h-1zM231.1 462.2h1v1h-1zM262.0 471.3h1v1h-1zM233.0 458.0h1v1h-1zM229.8 448.3h1v1h-1zM230.3 474.3h1v1h-1zM234.2 461.2h1v1h-1zM247.4 476.5h1v1h-1zM227.6 452.3h1v1h-1zM228.5 471.2h1v1h-1z" fill="#68a99c"/>
<path d="M303.1 505.9h1v1h-1zM293.8 506.7h1v1h-1zM309.7 500.4h1v1h-1zM339.1 475.8h1v1h-1zM266.9 508.8h1v1h-1zM335.3 483.6h1v1h-1zM277.3 498.5h1v1h-1zM319.9 501.6h1v1h-1zM315.8 473.6h1v1h-1zM278.1 513.5h1v1h-1zM290.0 516.2h1v1h-1zM317.5 473.7h1v1h-1zM329.6 480.2h1v1h-1zM300.9 511.0h1v1h-1zM334.4 488.7h1v1h-1zM329.7 470.9h1v1h-1zM304.8 507.7h1v1h-1zM335.3 475.0h1v1h-1zM276.5 519.3h1v1h-1zM316.9 482.0h1v1h-1zM302.4 515.9h1v1h-1zM318.4 501.8h1v1h-1zM270.2 511.1h1v1h-1zM345.2 483.3h1v1h-1zM332.7 483.7h1v1h-1zM346.5 454.3h1v1h-1zM319.3 490.0h1v1h-1zM310.5 484.9h1v1h-1zM345.4 481.8h1v1h-1zM281.1 492.6h1v1h-1zM333.5 492.4h1v1h-1zM294.6 483.3h1v1h-1zM326.8 497.8h1v1h-1zM335.3 478.4h1v1h-1zM333.5 468.0h1v1h-1zM320.5 472.4h1v1h-1zM337.9 455.7h1v1h-1zM314.7 471.4h1v1h-1zM304.1 471.2h1v1h-1zM314.9 485.6h1v1h-1zM340.7 489.7h1v1h-1zM303.2 511.8h1v1h-1zM344.3 463.0h1v1h-1zM340.1 476.0h1v1h-1zM293.6 512.7h1v1h-1zM317.8 506.5h1v1h-1zM307.9 507.1h1v1h-1zM327.1 463.0h1v1h-1zM266.3 521.6h1v1h-1zM328.9 484.5h1v1h-1zM312.9 504.1h1v1h-1zM294.9 496.3h1v1h-1zM267.8 511.3h1v1h-1zM303.0 480.7h1v1h-1zM338.5 459.4h1v1h-1zM323.1 486.1h1v1h-1zM310.0 476.6h1v1h-1zM329.7 499.0h1v1h-1zM342.4 487.2h1v1h-1zM266.7 514.1h1v1h-1zM298.9 478.3h1v1h-1zM344.0 463.5h1v1h-1zM288.6 499.1h1v1h-1zM305.6 503.6h1v1h-1zM272.7 507.6h1v1h-1zM289.4 481.8h1v1h-1zM312.1 498.0h1v1h-1zM276.5 516.8h1v1h-1zM328.8 480.9h1v1h-1zM344.7 477.8h1v1h-1zM345.3 478.7h1v1h-1zM293.8 516.3h1v1h-1zM287.3 493.8h1v1h-1zM313.3 500.1h1v1h-1zM317.4 481.7h1v1h-1zM274.8 512.2h1v1h-1zM293.6 505.7h1v1h-1zM319.2 471.8h1v1h-1zM311.9 487.6h1v1h-1zM322.1 465.7h1v1h-1zM300.3 506.5h1v1h-1zM289.3 490.5h1v1h-1zM286.5 494.6h1v1h-1zM315.5 487.4h1v1h-1zM272.7 520.7h1v1h-1zM316.5 487.6h1v1h-1zM332.9 461.2h1v1h-1zM319.6 494.5h1v1h-1zM318.0 466.8h1v1h-1zM294.7 492.0h1v1h-1zM337.7 456.2h1v1h-1zM334.6 484.1h1v1h-1zM280.9 517.8h1v1h-1zM313.8 475.2h1v1h-1zM311.8 494.4h1v1h-1zM281.7 513.8h1v1h-1zM298.7 488.1h1v1h-1zM289.9 495.5h1v1h-1zM265.0 515.6h1v1h-1zM296.4 504.7h1v1h-1zM312.3 471.3h1v1h-1zM341.7 471.1h1v1h-1zM265.5 517.3h1v1h-1zM324.3 475.0h1v1h-1zM333.6 485.3h1v1h-1zM336.0 484.5h1v1h-1zM299.2 475.4h1v1h-1zM288.5 483.2h1v1h-1zM284.3 504.2h1v1h-1zM308.0 490.2h1v1h-1zM301.5 509.4h1v1h-1zM350.4 469.5h1v1h-1zM269.5 518.9h1v1h-1zM310.9 485.5h1v1h-1zM334.7 456.8h1v1h-1zM308.2 487.0h1v1h-1zM315.0 488.3h1v1h-1zM292.4 514.2h1v1h-1zM289.9 500.7h1v1h-1zM346.1 461.8h1v1h-1zM297.0 511.9h1v1h-1zM350.1 471.9h1v1h-1zM293.7 491.2h1v1h-1zM293.6 505.2h1v1h-1zM321.7 495.5h1v1h-1zM298.7 483.7h1v1h-1zM346.4 453.9h1v1h-1zM275.5 512.3h1v1h-1zM310.1 498.6h1v1h-1zM305.6 512.1h1v1h-1zM298.9 482.1h1v1h-1zM318.1 470.3h1v1h-1zM300.7 485.4h1v1h-1zM304.2 472.2h1v1h-1zM287.7 498.7h1v1h-1zM281.8 503.2h1v1h-1zM339.4 472.0h1v1h-1zM339.4 460.5h1v1h-1zM343.6 486.2h1v1h-1zM323.9 499.6h1v1h-1zM301.7 500.0h1v1h-1zM312.2 468.5h1v1h-1zM333.1 479.8h1v1h-1zM312.0 491.4h1v1h-1zM276.5 507.1h1v1h-1zM321.2 485.8h1v1h-1zM301.1 475.9h1v1h-1zM303.0 501.1h1v1h-1zM348.5 476.0h1v1h-1zM320.7 499.2h1v1h-1zM331.0 463.0h1v1h-1zM283.5 510.3h1v1h-1zM323.1 499.8h1v1h-1zM282.7 515.6h1v1h-1zM312.3 482.7h1v1h-1zM322.7 500.3h1v1h-1zM274.0 513.7h1v1h-1zM306.8 478.5h1v1h-1zM290.7 500.2h1v1h-1z" fill="#68a99c"/>
<path d="M284.2 508.9h1v1h-1zM328.1 481.4h1v1h-1zM335.3 470.9h1v1h-1zM319.0 472.7h1v1h-1zM292.6 518.2h1v1h-1zM342.5 489.3h1v1h-1zM294.2 479.6h1v1h-1zM303.2 502.1h1v1h-1zM346.6 478.7h1v1h-1zM315.9 474.7h1v1h-1zM296.2 486.6h1v1h-1zM292.8 518.6h1v1h-1zM339.9 456.4h1v1h-1zM305.2 485.3h1v1h-1zM343.8 484.1h1v1h-1zM271.2 519.0h1v1h-1zM284.5 502.6h1v1h-1zM348.2 457.9h1v1h-1zM340.4 471.9h1v1h-1zM266.2 510.0h1v1h-1zM310.9 499.0h1v1h-1zM286.2 485.4h1v1h-1zM333.6 467.2h1v1h-1zM314.9 470.1h1v1h-1zM269.2 519.3h1v1h-1zM260.7 517.4h1v1h-1zM337.5 458.2h1v1h-1zM294.9 494.2h1v1h-1zM312.1 496.5h1v1h-1zM271.1 515.1h1v1h-1zM335.6 492.9h1v1h-1zM347.0 458.3h1v1h-1zM304.9 477.9h1v1h-1zM301.7 509.1h1v1h-1zM345.5 471.5h1v1h-1zM284.4 503.2h1v1h-1zM293.8 511.1h1v1h-1zM342.7 467.5h1v1h-1zM327.9 494.2h1v1h-1zM275.6 517.6h1v1h-1zM310.5 477.5h1v1h-1zM299.3 493.5h1v1h-1zM317.4 495.2h1v1h-1zM283.8 497.3h1v1h-1zM284.7 498.1h1v1h-1zM295.3 494.1h1v1h-1zM329.1 472.1h1v1h-1zM343.8 469.1h1v1h-1zM307.5 513.9h1v1h-1zM344.5 459.6h1v1h-1zM334.2 461.6h1v1h-1zM324.7 495.5h1v1h-1zM304.8 474.9h1v1h-1zM314.9 494.3h1v1h-1zM296.1 493.0h1v1h-1zM292.6 502.6h1v1h-1zM297.5 493.8h1v1h-1zM343.3 463.4h1v1h-1zM303.0 475.3h1v1h-1zM316.3 486.2h1v1h-1zM319.2 497.4h1v1h-1zM307.5 476.9h1v1h-1zM292.8 516.7h1v1h-1zM291.3 498.2h1v1h-1zM316.8 490.1h1v1h-1zM283.4 507.5h1v1h-1zM319.9 491.9h1v1h-1zM353.7 459.8h1v1h-1zM292.3 478.2h1v1h-1zM276.3 509.9h1v1h-1zM322.7 497.4h1v1h-1zM260.3 516.9h1v1h-1zM340.0 457.4h1v1h-1zM312.6 486.2h1v1h-1zM289.7 499.5h1v1h-1zM315.1 498.4h1v1h-1zM299.6 513.7h1v1h-1zM277.1 501.8h1v1h-1zM330.5 498.3h1v1h-1zM288.2 503.3h1v1h-1zM297.0 477.4h1v1h-1zM315.2 498.6h1v1h-1zM346.1 471.2h1v1h-1zM345.5 469.2h1v1h-1zM264.6 521.8h1v1h-1zM316.1 489.2h1v1h-1zM285.4 507.4h1v1h-1zM269.0 509.9h1v1h-1zM296.9 488.8h1v1h-1zM319.3 479.0h1v1h-1zM267.0 518.3h1v1h-1zM277.7 500.1h1v1h-1zM331.8 495.4h1v1h-1zM280.7 514.5h1v1h-1zM269.1 509.1h1v1h-1zM282.7 497.0h1v1h-1zM296.5 497.3h1v1h-1zM278.8 497.4h1v1h-1zM350.6 472.8h1v1h-1zM335.1 478.5h1v1h-1zM297.1 474.9h1v1h-1zM328.5 465.6h1v1h-1zM346.2 469.2h1v1h-1zM308.9 471.4h1v1h-1zM347.8 479.3h1v1h-1zM270.6 512.1h1v1h-1zM279.1 513.8h1v1h-1zM318.6 502.0h1v1h-1zM288.3 504.1h1v1h-1zM343.3 453.2h1v1h-1zM345.1 470.2h1v1h-1zM335.9 468.3h1v1h-1zM339.4 467.2h1v1h-1zM286.1 484.0h1v1h-1zM313.9 497.0h1v1h-1zM348.2 475.0h1v1h-1zM347.4 471.5h1v1h-1zM317.1 473.1h1v1h-1zM335.4 469.8h1v1h-1zM298.7 477.9h1v1h-1zM340.0 466.0h1v1h-1zM287.1 507.9h1v1h-1zM305.8 497.5h1v1h-1zM301.3 491.6h1v1h-1zM299.5 500.1h1v1h-1zM290.1 502.6h1v1h-1zM266.1 517.9h1v1h-1zM335.1 483.4h1v1h-1zM309.6 505.4h1v1h-1zM316.9 471.6h1v1h-1zM286.8 487.4h1v1h-1zM290.9 506.8h1v1h-1zM338.2 482.1h1v1h-1zM274.3 514.9h1v1h-1zM294.3 495.5h1v1h-1zM337.6 457.0h1v1h-1zM286.9 518.2h1v1h-1zM352.3 462.2h1v1h-1zM278.6 503.7h1v1h-1zM310.5 473.7h1v1h-1zM336.1 474.2h1v1h-1z" fill="#707070"/>
<path d="M322.4 417.8h1v1h-1zM335.2 431.0h1v1h-1zM307.2 414.1h1v1h-1zM340.6 466.8h1v1h-1zM337.6 432.9h1v1h-1zM354.5 426.3h1v1h-1zM311.7 415.7h1v1h-1zM341.3 431.4h1v1h-1zM343.8 434.8h1v1h-1zM330.2 426.9h1v1h-1zM350.7 451.5h1v1h-1zM334.5 462.3h1v1h-1zM346.8 426.2h1v1h-1zM328.1 455.1h1v1h-1zM348.9 443.7h1v1h-1zM355.5 427.8h1v1h-1zM344.7 445.1h1v1h-1zM337.8 436.6h1v1h-1zM331.4 449.3h1v1h-1zM352.3 426.0h1v1h-1zM326.1 449.6h1v1h-1zM313.1 415.7h1v1h-1zM336.0 462.8h1v1h-1zM352.2 461.6h1v1h-1zM338.3 424.7h1v1h-1zM360.2 451.0h1v1h-1zM333.9 446.5h1v1h-1zM357.0 456.5h1v1h-1zM355.5 457.6h1v1h-1zM326.5 433.0h1v1h-1zM306.7 412.6h1v1h-1zM315.5 418.5h1v1h-1zM324.8 416.1h1v1h-1zM331.0 438.3h1v1h-1zM308.2 414.8h1v1h-1zM323.6 424.8h1v1h-1zM334.7 417.5h1v1h-1zM354.8 451.3h1v1h-1zM335.0 456.4h1v1h-1zM322.8 422.2h1v1h-1zM354.2 458.1h1v1h-1zM352.1 454.0h1v1h-1zM360.4 436.0h1v1h-1zM360.3 430.9h1v1h-1zM340.4 463.9h1v1h-1zM353.4 438.0h1v1h-1zM342.2 457.7h1v1h-1zM357.6 456.6h1v1h-1zM348.0 437.9h1v1h-1zM361.3 432.8h1v1h-1zM357.3 458.1h1v1h-1zM361.8 448.9h1v1h-1zM361.3 448.5h1v1h-1zM334.6 465.9h1v1h-1zM338.0 464.1h1v1h-1zM333.1 441.2h1v1h-1zM329.4 419.8h1v1h-1zM346.5 442.7h1v1h-1zM336.3 456.7h1v1h-1zM349.3 439.7h1v1h-1zM336.7 455.2h1v1h-1zM357.7 435.8h1v1h-1zM339.8 439.6h1v1h-1zM333.7 451.1h1v1h-1zM330.1 441.3h1v1h-1zM331.7 466.4h1v1h-1zM345.0 462.4h1v1h-1zM336.6 466.5h1v1h-1zM350.0 463.7h1v1h-1zM326.9 438.5h1v1h-1zM333.9 429.4h1v1h-1zM336.2 435.6h1v1h-1zM340.4 440.0h1v1h-1zM319.2 416.5h1v1h-1zM352.1 424.4h1v1h-1zM337.2 451.6h1v1h-1zM308.4 412.0h1v1h-1zM344.3 434.7h1v1h-1zM341.1 457.8h1v1h-1zM330.2 429.4h1v1h-1zM336.2 465.5h1v1h-1zM319.1 416.4h1v1h-1zM334.6 423.2h1v1h-1zM348.6 426.3h1v1h-1zM333.0 419.4h1v1h-1zM347.0 442.4h1v1h-1zM352.1 435.1h1v1h-1zM332.7 459.8h1v1h-1zM326.6 439.7h1v1h-1zM344.3 468.9h1v1h-1zM345.4 447.6h1v1h-1zM327.3 429.9h1v1h-1zM318.3 418.5h1v1h-1zM355.2 449.7h1v1h-1zM319.9 423.4h1v1h-1zM361.4 442.1h1v1h-1zM331.5 439.4h1v1h-1zM321.3 422.8h1v1h-1zM338.1 441.0h1v1h-1zM348.0 448.9h1v1h-1zM346.0 462.6h1v1h-1zM326.4 428.6h1v1h-1zM346.4 448.1h1v1h-1zM356.5 447.1h1v1h-1zM347.0 458.5h1v1h-1zM333.3 459.8h1v1h-1zM351.3 459.3h1v1h-1zM338.0 463.4h1v1h-1zM344.0 451.1h1v1h-1zM316.8 410.4h1v1h-1zM336.5 447.1h1v1h-1zM340.6 450.4h1v1h-1zM350.9 454.5h1v1h-1zM333.2 441.4h1v1h-1zM347.2 424.0h1v1h-1zM346.8 421.1h1v1h-1zM347.4 468.5h1v1h-1zM332.6 432.0h1v1h-1zM331.7 450.5h1v1h-1zM349.0 446.4h1v1h-1zM347.6 427.2h1v1h-1zM343.3 451.1h1v1h-1zM343.5 426.4h1v1h-1zM334.0 437.1h1v1h-1zM330.0 425.0h1v1h-1zM352.2 439.8h1v1h-1zM356.2 451.8h1v1h-1zM330.0 427.1h1v1h-1zM358.6 452.4h1v1h-1zM325.3 432.7h1v1h-1zM324.6 434.8h1v1h-1zM319.5 411.5h1v1h-1zM333.7 420.2h1v1h-1zM356.1 458.4h1v1h-1zM340.9 464.7h1v1h-1zM359.4 442.3h1v1h-1zM346.9 436.2h1v1h-1zM348.2 448.1h1v1h-1zM320.2 411.5h1v1h-1zM331.3 429.6h1v1h-1zM342.4 427.0h1v1h-1zM336.4 432.8h1v1h-1zM313.0 418.4h1v1h-1zM332.8 422.0h1v1h-1zM330.0 417.1h1v1h-1zM314.5 414.1h1v1h-1zM323.5 414.1h1v1h-1zM337.2 463.1h1v1h-1zM348.0 433.9h1v1h-1zM327.8 440.7h1v1h-1zM325.6 429.3h1v1h-1zM333.2 447.2h1v1h-1zM327.0 435.9h1v1h-1zM356.7 437.6h1v1h-1zM352.5 461.1h1v1h-1zM334.3 450.4h1v1h-1zM359.5 452.9h1v1h-1zM341.8 455.5h1v1h-1zM330.4 442.4h1v1h-1zM341.7 427.2h1v1h-1zM341.2 451.5h1v1h-1zM309.7 412.8h1v1h-1zM334.5 444.3h1v1h-1zM326.3 422.3h1v1h-1zM360.5 448.1h1v1h-1zM356.0 437.7h1v1h-1zM360.6 451.8h1v1h-1zM332.9 450.0h1v1h-1zM328.2 424.3h1v1h-1zM343.0 465.4h1v1h-1zM316.6 410.6h1v1h-1zM344.0 420.7h1v1h-1zM350.8 454.0h1v1h-1zM333.3 421.1h1v1h-1zM352.2 422.7h1v1h-1zM332.7 420.0h1v1h-1zM342.9 466.8h1v1h-1zM311.5 411.7h1v1h-1zM342.9 431.8h1v1h-1zM325.4 428.9h1v1h-1zM352.3 435.1h1v1h-1zM347.8 463.8h1v1h-1zM323.3 425.2h1v1h-1zM360.5 446.4h1v1h-1zM322.0 425.5h1v1h-1zM358.0 447.5h1v1h-1zM326.2 423.9h1v1h-1zM328.8 438.8h1v1h-1zM351.2 453.9h1v1h-1zM352.4 456.0h1v1h-1zM339.4 428.7h1v1h-1zM317.8 412.5h1v1h-1zM318.9 413.7h1v1h-1zM345.6 436.0h1v1h-1zM340.2 450.0h1v1h-1zM347.9 460.6h1v1h-1zM353.5 426.6h1v1h-1zM337.0 431.4h1v1h-1zM347.3 420.8h1v1h-1zM337.7 428.6h1v1h-1zM333.4 422.7h1v1h-1zM351.5 448.7h1v1h-1zM331.5 458.9h1v1h-1zM353.4 464.7h1v1h-1zM361.4 444.4h1v1h-1zM358.8 431.4h1v1h-1zM355.0 436.1h1v1h-1zM338.8 446.6h1v1h-1zM342.1 421.0h1v1h-1zM343.7 419.9h1v1h-1zM321.7 421.0h1v1h-1zM350.7 442.2h1v1h-1zM306.8 414.7h1v1h-1zM326.7 442.3h1v1h-1zM327.6 425.9h1v1h-1zM324.4 434.1h1v1h-1zM324.8 420.6h1v1h-1zM346.7 421.0h1v1h-1zM330.7 418.5h1v1h-1zM341.4 464.5h1v1h-1z" fill="#707070"/>
<path d="M154.0,457.0 L162.0,461.0 L176.0,464.0 L186.0,465.0 L190.0,471.0 L185.0,475.0 L170.0,474.0 L155.0,472.0 L150.0,466.0 Z" fill="#68a99c" opacity="0.35"/>
<path d="M156.6 469.4h1v1h-1zM175.4 465.6h1v1h-1zM182.3 466.2h1v1h-1zM163.7 465.7h1v1h-1zM180.2 470.7h1v1h-1zM173.2 470.1h1v1h-1zM154.9 465.6h1v1h-1zM186.9 473.0h1v1h-1zM166.4 463.6h1v1h-1zM169.8 465.8h1v1h-1zM172.0 470.5h1v1h-1zM158.9 468.0h1v1h-1zM172.3 468.2h1v1h-1zM177.3 469.2h1v1h-1zM185.3 465.8h1v1h-1zM181.0 465.7h1v1h-1zM160.3 462.2h1v1h-1zM152.8 463.1h1v1h-1zM179.8 465.6h1v1h-1zM171.0 470.1h1v1h-1zM185.3 467.8h1v1h-1zM167.0 467.5h1v1h-1zM177.4 474.2h1v1h-1zM175.8 472.3h1v1h-1zM153.8 458.7h1v1h-1zM151.0 465.0h1v1h-1zM156.6 460.3h1v1h-1zM165.1 469.8h1v1h-1zM178.4 472.7h1v1h-1zM181.0 471.2h1v1h-1zM150.3 465.3h1v1h-1zM160.1 469.5h1v1h-1zM165.6 462.6h1v1h-1zM170.1 466.9h1v1h-1zM174.0 466.1h1v1h-1zM162.4 469.6h1v1h-1zM171.0 467.1h1v1h-1zM154.3 458.4h1v1h-1zM180.4 465.1h1v1h-1zM175.8 465.0h1v1h-1zM152.0 464.8h1v1h-1zM159.9 469.7h1v1h-1zM182.7 470.0h1v1h-1zM165.4 465.8h1v1h-1zM153.4 465.6h1v1h-1zM169.7 469.9h1v1h-1zM185.6 471.0h1v1h-1zM178.0 469.3h1v1h-1zM165.4 468.1h1v1h-1zM162.5 462.6h1v1h-1zM160.2 472.2h1v1h-1zM158.0 467.8h1v1h-1zM161.1 463.8h1v1h-1zM165.4 461.9h1v1h-1zM187.4 469.7h1v1h-1zM150.8 466.0h1v1h-1zM153.8 462.6h1v1h-1zM168.2 473.1h1v1h-1zM157.5 464.3h1v1h-1zM161.9 468.3h1v1h-1zM151.5 465.9h1v1h-1zM156.3 458.9h1v1h-1zM166.3 469.4h1v1h-1zM179.1 466.4h1v1h-1zM164.1 466.6h1v1h-1zM178.4 465.9h1v1h-1zM182.3 473.3h1v1h-1zM181.1 473.2h1v1h-1zM171.3 473.4h1v1h-1zM164.1 468.0h1v1h-1zM174.3 470.6h1v1h-1zM153.3 464.3h1v1h-1zM157.1 466.7h1v1h-1zM166.9 467.4h1v1h-1zM185.8 466.3h1v1h-1zM154.9 461.3h1v1h-1zM167.0 468.5h1v1h-1zM167.2 463.8h1v1h-1zM171.5 465.3h1v1h-1zM179.5 470.2h1v1h-1zM176.6 467.5h1v1h-1zM170.0 465.3h1v1h-1zM165.6 468.3h1v1h-1zM173.9 469.5h1v1h-1zM183.9 473.0h1v1h-1zM153.1 462.5h1v1h-1zM169.9 469.8h1v1h-1zM158.7 469.4h1v1h-1zM155.6 458.0h1v1h-1zM179.0 467.7h1v1h-1zM167.8 466.0h1v1h-1zM175.4 468.4h1v1h-1zM164.6 463.2h1v1h-1zM180.2 468.4h1v1h-1zM168.3 466.2h1v1h-1zM173.5 467.5h1v1h-1zM153.5 465.8h1v1h-1zM156.6 471.4h1v1h-1zM175.0 472.3h1v1h-1zM166.2 470.7h1v1h-1zM159.7 467.8h1v1h-1zM173.1 471.7h1v1h-1zM170.8 468.9h1v1h-1zM164.3 471.1h1v1h-1zM151.4 466.0h1v1h-1z" fill="#68a99c"/>
<path d="M158.6 471.3h1v1h-1zM185.0 468.1h1v1h-1zM156.2 471.7h1v1h-1zM168.1 466.9h1v1h-1zM168.1 463.9h1v1h-1zM157.2 460.1h1v1h-1zM163.9 467.8h1v1h-1zM183.5 471.3h1v1h-1zM157.0 469.8h1v1h-1zM179.4 474.4h1v1h-1zM170.7 464.0h1v1h-1zM175.3 474.3h1v1h-1zM175.1 470.7h1v1h-1zM176.7 472.5h1v1h-1zM183.0 474.3h1v1h-1zM179.7 465.3h1v1h-1zM163.4 468.5h1v1h-1zM156.1 469.3h1v1h-1zM167.5 468.1h1v1h-1zM181.7 471.8h1v1h-1zM182.1 472.2h1v1h-1zM187.0 472.9h1v1h-1zM179.9 470.7h1v1h-1zM182.6 467.9h1v1h-1zM174.8 465.5h1v1h-1zM160.8 463.4h1v1h-1zM152.7 466.2h1v1h-1zM177.2 468.8h1v1h-1zM181.0 470.3h1v1h-1zM180.8 470.5h1v1h-1zM173.5 471.4h1v1h-1zM157.9 461.1h1v1h-1zM179.4 471.6h1v1h-1zM164.8 471.9h1v1h-1zM184.6 470.5h1v1h-1zM181.3 471.3h1v1h-1zM158.7 460.7h1v1h-1zM163.4 468.7h1v1h-1zM177.9 464.4h1v1h-1zM158.9 471.2h1v1h-1zM163.1 462.9h1v1h-1zM157.5 459.7h1v1h-1zM158.1 469.6h1v1h-1zM153.9 460.7h1v1h-1zM185.7 470.9h1v1h-1z" fill="#707070"/>
<path d="M190.0,480.0 L200.0,484.0 L215.0,485.0 L228.0,490.0 L234.0,500.0 L236.0,510.0 L227.0,509.0 L218.3,506.8 L203.9,506.0 L189.4,506.8 L186.5,502.0 L187.0,495.0 L193.0,489.0 Z" fill="#68a99c" opacity="0.45"/>
<path d="M195.6 483.6h1v1h-1zM221.1 498.4h1v1h-1zM202.0 503.4h1v1h-1zM193.5 504.8h1v1h-1zM188.9 496.0h1v1h-1zM206.8 499.8h1v1h-1zM219.8 495.8h1v1h-1zM202.8 490.7h1v1h-1zM228.4 495.0h1v1h-1zM209.9 501.8h1v1h-1zM218.3 490.6h1v1h-1zM225.3 504.6h1v1h-1zM208.0 488.1h1v1h-1zM203.5 502.0h1v1h-1zM232.3 505.0h1v1h-1zM196.6 494.7h1v1h-1zM198.8 486.9h1v1h-1zM230.5 499.4h1v1h-1zM189.3 495.0h1v1h-1zM203.4 505.9h1v1h-1zM205.3 499.2h1v1h-1zM195.2 504.1h1v1h-1zM230.7 496.5h1v1h-1zM204.4 505.5h1v1h-1zM200.2 484.8h1v1h-1zM228.0 495.3h1v1h-1zM221.0 504.5h1v1h-1zM224.2 491.6h1v1h-1zM205.3 487.1h1v1h-1zM194.1 496.7h1v1h-1zM229.3 498.0h1v1h-1zM220.5 504.2h1v1h-1zM233.1 501.8h1v1h-1zM218.8 489.6h1v1h-1zM200.4 487.2h1v1h-1zM207.0 490.6h1v1h-1zM213.3 506.3h1v1h-1zM212.0 486.5h1v1h-1zM201.9 484.2h1v1h-1zM210.3 504.0h1v1h-1zM203.3 491.4h1v1h-1zM204.4 488.6h1v1h-1zM194.2 493.6h1v1h-1zM232.1 497.6h1v1h-1zM201.5 487.2h1v1h-1zM214.0 504.7h1v1h-1zM199.5 506.1h1v1h-1zM212.7 500.5h1v1h-1zM214.9 498.1h1v1h-1zM198.4 496.6h1v1h-1zM204.1 503.9h1v1h-1zM215.2 486.8h1v1h-1zM220.2 501.4h1v1h-1zM204.9 499.5h1v1h-1zM210.1 485.3h1v1h-1zM190.7 495.0h1v1h-1zM215.1 486.8h1v1h-1zM207.8 502.0h1v1h-1zM203.5 496.8h1v1h-1zM231.3 500.7h1v1h-1zM233.7 507.6h1v1h-1zM208.9 491.5h1v1h-1zM190.1 498.6h1v1h-1zM228.8 491.7h1v1h-1zM200.8 498.4h1v1h-1zM199.4 502.7h1v1h-1zM225.8 498.9h1v1h-1zM190.5 494.1h1v1h-1zM231.0 502.1h1v1h-1zM230.3 494.4h1v1h-1zM201.9 505.7h1v1h-1zM197.8 490.6h1v1h-1zM207.0 484.5h1v1h-1zM230.6 494.4h1v1h-1zM207.8 503.0h1v1h-1zM198.1 502.1h1v1h-1zM204.1 501.2h1v1h-1zM220.4 503.6h1v1h-1zM210.6 493.9h1v1h-1zM213.3 487.1h1v1h-1zM214.0 495.1h1v1h-1zM198.0 483.8h1v1h-1zM216.0 500.3h1v1h-1zM220.7 495.2h1v1h-1zM201.7 504.0h1v1h-1zM191.4 483.4h1v1h-1zM211.2 506.2h1v1h-1zM205.8 487.4h1v1h-1zM201.1 498.0h1v1h-1zM190.1 502.2h1v1h-1zM205.0 504.5h1v1h-1zM204.0 494.5h1v1h-1zM213.5 500.5h1v1h-1zM216.0 497.8h1v1h-1zM206.1 492.6h1v1h-1zM231.2 501.8h1v1h-1zM233.8 501.2h1v1h-1zM220.4 488.4h1v1h-1zM196.9 486.5h1v1h-1zM223.6 495.4h1v1h-1zM193.0 503.5h1v1h-1zM201.9 505.9h1v1h-1zM213.5 501.7h1v1h-1zM200.6 485.5h1v1h-1zM208.8 504.1h1v1h-1zM213.9 490.6h1v1h-1zM197.7 490.8h1v1h-1zM206.3 488.2h1v1h-1zM201.1 500.2h1v1h-1zM192.9 492.1h1v1h-1zM212.4 502.4h1v1h-1zM210.1 499.7h1v1h-1zM225.4 495.0h1v1h-1zM221.0 502.2h1v1h-1zM211.4 486.7h1v1h-1zM217.8 496.0h1v1h-1zM226.1 506.7h1v1h-1zM221.1 491.9h1v1h-1zM228.5 494.5h1v1h-1zM190.9 500.6h1v1h-1zM202.6 493.0h1v1h-1zM231.4 502.9h1v1h-1zM211.6 495.9h1v1h-1zM210.2 497.7h1v1h-1zM200.5 492.4h1v1h-1zM230.9 495.9h1v1h-1zM219.5 506.8h1v1h-1zM235.3 509.7h1v1h-1zM192.7 501.5h1v1h-1zM205.7 488.4h1v1h-1zM230.7 495.9h1v1h-1zM211.1 486.2h1v1h-1zM194.8 497.2h1v1h-1zM205.0 490.9h1v1h-1zM220.2 494.0h1v1h-1zM228.2 502.4h1v1h-1zM225.8 503.2h1v1h-1zM191.4 503.2h1v1h-1zM229.0 505.3h1v1h-1zM193.1 506.5h1v1h-1zM187.4 500.9h1v1h-1zM200.9 506.1h1v1h-1zM210.6 489.7h1v1h-1zM198.5 493.4h1v1h-1zM192.9 505.6h1v1h-1zM208.4 494.5h1v1h-1zM199.5 502.0h1v1h-1zM195.9 491.9h1v1h-1zM225.7 503.3h1v1h-1zM226.4 500.9h1v1h-1zM221.5 493.5h1v1h-1zM202.7 499.5h1v1h-1zM198.7 501.9h1v1h-1zM192.4 496.9h1v1h-1zM214.8 496.0h1v1h-1zM227.6 501.6h1v1h-1zM190.4 496.7h1v1h-1zM192.8 495.8h1v1h-1zM220.1 501.1h1v1h-1zM187.0 496.0h1v1h-1zM195.1 495.2h1v1h-1zM210.9 494.6h1v1h-1zM224.3 488.9h1v1h-1zM201.1 499.6h1v1h-1zM217.8 495.6h1v1h-1zM207.1 489.2h1v1h-1zM200.5 484.4h1v1h-1zM217.6 496.0h1v1h-1zM208.6 493.7h1v1h-1zM188.0 496.8h1v1h-1zM190.6 499.3h1v1h-1zM226.8 496.3h1v1h-1zM210.3 504.5h1v1h-1z" fill="#68a99c"/>
<path d="M218.7 490.4h1v1h-1zM230.1 497.7h1v1h-1zM201.9 485.7h1v1h-1zM228.6 497.5h1v1h-1zM232.9 503.2h1v1h-1zM211.6 495.5h1v1h-1zM205.0 497.5h1v1h-1zM201.2 497.9h1v1h-1zM213.4 493.0h1v1h-1zM204.1 493.0h1v1h-1zM213.6 490.5h1v1h-1zM213.0 503.9h1v1h-1zM206.8 504.8h1v1h-1zM212.4 497.5h1v1h-1zM187.4 495.0h1v1h-1zM217.9 490.2h1v1h-1zM195.0 500.8h1v1h-1zM197.2 487.6h1v1h-1zM209.8 486.2h1v1h-1zM205.4 502.5h1v1h-1zM222.0 493.9h1v1h-1zM211.9 485.7h1v1h-1zM212.6 503.0h1v1h-1zM217.3 502.2h1v1h-1zM231.1 504.0h1v1h-1zM208.5 490.0h1v1h-1zM195.2 494.3h1v1h-1zM192.8 487.2h1v1h-1zM231.8 497.5h1v1h-1zM209.2 498.9h1v1h-1zM188.9 500.6h1v1h-1zM226.5 500.1h1v1h-1zM209.9 499.1h1v1h-1zM203.2 491.9h1v1h-1zM214.1 485.2h1v1h-1zM216.4 489.2h1v1h-1zM198.0 483.9h1v1h-1zM208.4 504.3h1v1h-1zM211.7 484.8h1v1h-1zM191.5 491.1h1v1h-1zM199.1 493.3h1v1h-1zM208.8 500.9h1v1h-1zM195.4 505.8h1v1h-1zM190.0 504.8h1v1h-1zM217.5 490.1h1v1h-1zM197.9 504.1h1v1h-1zM200.5 499.3h1v1h-1zM188.5 504.5h1v1h-1zM202.1 505.0h1v1h-1zM209.0 485.0h1v1h-1zM201.7 499.9h1v1h-1zM222.8 491.0h1v1h-1zM197.5 485.7h1v1h-1zM226.6 495.8h1v1h-1zM219.1 487.3h1v1h-1zM203.6 487.7h1v1h-1zM201.6 491.8h1v1h-1zM197.0 484.7h1v1h-1zM189.0 494.6h1v1h-1zM207.2 503.1h1v1h-1zM186.6 501.6h1v1h-1zM211.9 487.2h1v1h-1zM207.3 505.0h1v1h-1zM228.5 505.8h1v1h-1zM202.6 488.0h1v1h-1zM200.0 503.0h1v1h-1zM234.3 503.8h1v1h-1zM206.9 502.3h1v1h-1zM224.1 502.3h1v1h-1zM210.6 495.7h1v1h-1zM210.9 500.5h1v1h-1zM232.9 504.0h1v1h-1zM224.3 491.2h1v1h-1zM214.7 491.0h1v1h-1zM187.4 499.8h1v1h-1zM223.7 501.7h1v1h-1zM205.7 506.1h1v1h-1zM206.5 494.0h1v1h-1zM190.9 482.6h1v1h-1zM192.9 482.3h1v1h-1zM211.8 505.9h1v1h-1zM223.1 505.9h1v1h-1zM196.2 495.5h1v1h-1zM197.9 497.3h1v1h-1zM201.9 486.8h1v1h-1zM217.4 498.8h1v1h-1zM232.2 500.0h1v1h-1zM225.4 493.4h1v1h-1zM211.4 502.5h1v1h-1zM192.0 495.7h1v1h-1zM216.0 496.8h1v1h-1zM215.4 493.2h1v1h-1zM214.3 505.2h1v1h-1zM203.0 484.7h1v1h-1zM231.0 498.9h1v1h-1zM205.2 492.0h1v1h-1zM191.5 497.0h1v1h-1zM202.9 499.1h1v1h-1zM195.6 499.9h1v1h-1zM218.4 503.3h1v1h-1zM221.2 507.4h1v1h-1zM207.6 498.5h1v1h-1zM207.7 485.1h1v1h-1zM210.8 501.5h1v1h-1zM201.3 493.4h1v1h-1zM216.8 492.4h1v1h-1zM217.4 505.0h1v1h-1zM228.0 505.7h1v1h-1zM208.6 488.7h1v1h-1zM230.2 494.3h1v1h-1zM188.5 499.0h1v1h-1zM205.2 499.4h1v1h-1zM211.5 506.1h1v1h-1zM211.4 502.6h1v1h-1zM217.8 499.4h1v1h-1zM232.4 502.7h1v1h-1zM217.6 487.3h1v1h-1zM198.5 492.1h1v1h-1zM189.9 499.2h1v1h-1zM228.7 507.9h1v1h-1zM230.0 502.5h1v1h-1zM226.9 496.0h1v1h-1zM186.9 500.4h1v1h-1zM209.4 501.4h1v1h-1zM188.8 503.3h1v1h-1zM196.4 492.9h1v1h-1zM219.9 494.7h1v1h-1zM197.4 491.5h1v1h-1zM222.3 503.3h1v1h-1zM234.2 502.9h1v1h-1zM225.9 508.2h1v1h-1zM216.1 489.9h1v1h-1zM210.1 487.4h1v1h-1zM196.3 499.0h1v1h-1zM194.3 504.0h1v1h-1zM187.3 501.0h1v1h-1zM202.0 504.9h1v1h-1zM223.1 491.1h1v1h-1zM214.2 486.5h1v1h-1zM205.7 493.5h1v1h-1zM221.9 503.1h1v1h-1zM230.1 493.9h1v1h-1zM216.0 503.8h1v1h-1zM188.2 498.7h1v1h-1zM227.2 492.9h1v1h-1zM219.0 487.0h1v1h-1zM204.4 499.9h1v1h-1zM219.6 505.4h1v1h-1zM233.2 501.6h1v1h-1zM219.5 503.4h1v1h-1zM215.2 485.8h1v1h-1zM212.1 486.9h1v1h-1zM214.1 506.4h1v1h-1zM213.6 504.8h1v1h-1zM226.9 491.5h1v1h-1zM192.6 500.7h1v1h-1zM208.5 501.6h1v1h-1z" fill="#707070"/>
<path d="M183.3,405.8 L188.4,407.5 L193.6,411.8 L198.8,418.8 L203.1,427.4 L205.7,436.0 L206.6,444.7 L204.0,450.5 L199.0,455.5 L192.0,458.5 L185.0,460.0 L176.0,459.5 L168.0,458.0 L161.0,456.0 L156.0,452.5 L153.5,447.0 L153.0,440.0 L152.1,432.6 L153.8,425.7 L157.3,420.5 L164.2,417.0 L171.1,413.6 L178.1,408.4 Z" fill="#68a99c" />
<path d="M180.0,458.0 L192.0,458.0 L200.0,453.0 L205.0,450.0 L208.0,458.0 L206.0,468.0 L202.0,475.0 L196.0,476.0 L190.0,471.0 L184.0,465.0 Z" fill="#68a99c" opacity="0.8"/>
<path d="M120.2,487.3 L123.0,480.8 L130.8,477.3 L138.0,475.5 L146.0,474.2 L157.7,472.9 L170.0,473.5 L180.8,474.4 L190.0,476.5 L194.0,482.0 L193.0,489.0 L187.0,495.0 L186.5,502.0 L189.4,506.8 L203.9,506.0 L218.3,506.8 L227.0,509.0 L232.7,511.8 L236.3,517.6 L237.8,527.7 L237.0,529.9 L225.5,531.3 L211.0,533.5 L196.6,537.8 L186.5,538.5 L183.8,534.2 L179.2,529.6 L171.5,531.2 L163.8,534.2 L159.2,537.3 L156.0,537.5 L150.0,533.0 L146.0,531.2 L137.0,525.0 L127.7,515.8 L121.5,503.5 L119.8,495.8 Z" fill="#68a99c" />
<path d="M179.0 436.0h1v1h-1zM196.2 423.2h1v1h-1zM169.6 443.4h1v1h-1zM175.7 413.6h1v1h-1zM191.8 421.9h1v1h-1zM185.8 447.1h1v1h-1zM186.3 415.5h1v1h-1zM174.3 412.9h1v1h-1zM175.1 411.6h1v1h-1zM178.7 428.7h1v1h-1zM173.8 413.1h1v1h-1zM163.2 426.0h1v1h-1zM176.6 453.0h1v1h-1zM190.8 449.5h1v1h-1zM192.3 418.7h1v1h-1zM183.1 428.0h1v1h-1zM178.6 419.7h1v1h-1zM174.0 413.8h1v1h-1zM179.2 409.9h1v1h-1zM167.3 418.5h1v1h-1zM191.6 434.6h1v1h-1zM159.4 433.8h1v1h-1zM187.0 438.7h1v1h-1zM176.3 450.4h1v1h-1zM194.6 453.1h1v1h-1zM181.3 456.6h1v1h-1zM177.7 421.5h1v1h-1zM187.5 439.2h1v1h-1zM169.0 443.5h1v1h-1zM158.3 433.3h1v1h-1zM194.7 432.4h1v1h-1zM157.7 442.2h1v1h-1zM163.3 450.3h1v1h-1zM156.9 430.6h1v1h-1zM160.4 447.4h1v1h-1zM182.6 433.8h1v1h-1zM171.5 438.1h1v1h-1zM185.4 423.4h1v1h-1zM185.7 448.3h1v1h-1zM179.9 417.0h1v1h-1zM159.8 426.0h1v1h-1zM185.7 427.0h1v1h-1zM202.3 427.5h1v1h-1zM195.6 415.6h1v1h-1zM186.8 410.5h1v1h-1zM172.2 448.9h1v1h-1zM196.4 434.4h1v1h-1zM163.0 433.3h1v1h-1zM183.3 454.3h1v1h-1zM165.7 450.7h1v1h-1zM190.2 454.1h1v1h-1zM163.1 451.2h1v1h-1zM178.3 417.8h1v1h-1zM178.6 439.6h1v1h-1zM198.6 453.6h1v1h-1zM193.9 447.7h1v1h-1zM177.9 429.9h1v1h-1zM191.7 444.5h1v1h-1zM176.3 457.9h1v1h-1zM185.6 419.5h1v1h-1zM176.8 432.7h1v1h-1zM175.1 445.4h1v1h-1zM175.8 428.1h1v1h-1zM186.1 413.2h1v1h-1zM194.4 419.4h1v1h-1zM180.4 417.6h1v1h-1zM187.0 424.1h1v1h-1zM188.2 443.8h1v1h-1zM180.8 439.3h1v1h-1zM173.0 429.8h1v1h-1zM173.8 454.9h1v1h-1zM165.7 426.0h1v1h-1zM173.4 430.5h1v1h-1zM179.2 426.7h1v1h-1zM191.5 416.0h1v1h-1zM155.6 423.1h1v1h-1zM185.4 436.9h1v1h-1zM180.2 437.2h1v1h-1zM178.6 431.4h1v1h-1zM168.2 452.1h1v1h-1zM198.7 445.1h1v1h-1zM157.4 449.7h1v1h-1zM176.0 414.9h1v1h-1zM192.3 428.2h1v1h-1zM197.2 431.2h1v1h-1zM174.1 454.2h1v1h-1zM181.0 411.4h1v1h-1zM180.4 456.3h1v1h-1zM174.4 454.4h1v1h-1zM196.3 427.4h1v1h-1zM194.0 446.8h1v1h-1zM179.0 450.2h1v1h-1zM192.3 415.7h1v1h-1zM165.4 426.7h1v1h-1zM182.3 415.8h1v1h-1zM200.9 449.2h1v1h-1zM172.9 451.6h1v1h-1zM168.3 435.0h1v1h-1zM175.2 444.7h1v1h-1zM164.1 439.6h1v1h-1zM167.5 435.4h1v1h-1zM165.4 436.4h1v1h-1zM190.7 450.2h1v1h-1zM177.6 443.2h1v1h-1zM184.3 409.8h1v1h-1zM205.8 438.0h1v1h-1zM157.4 435.5h1v1h-1zM193.2 452.3h1v1h-1zM199.9 439.6h1v1h-1zM174.2 441.0h1v1h-1zM195.7 438.1h1v1h-1zM169.1 454.6h1v1h-1zM193.0 427.4h1v1h-1zM191.7 452.8h1v1h-1zM156.5 429.4h1v1h-1zM157.4 445.9h1v1h-1zM178.0 450.1h1v1h-1zM166.9 422.6h1v1h-1zM204.9 440.8h1v1h-1zM179.3 427.5h1v1h-1zM167.5 431.0h1v1h-1zM172.2 426.6h1v1h-1zM181.4 418.3h1v1h-1zM197.6 436.3h1v1h-1zM175.7 410.9h1v1h-1zM200.2 443.5h1v1h-1zM182.3 419.4h1v1h-1zM173.5 412.7h1v1h-1zM152.4 432.3h1v1h-1zM173.6 414.1h1v1h-1zM167.2 440.1h1v1h-1zM181.7 448.5h1v1h-1zM160.6 431.5h1v1h-1zM167.3 454.9h1v1h-1zM178.7 449.3h1v1h-1zM185.7 443.2h1v1h-1zM166.2 443.9h1v1h-1zM157.1 441.3h1v1h-1zM181.9 419.6h1v1h-1zM205.7 446.2h1v1h-1zM179.2 424.9h1v1h-1zM196.7 445.6h1v1h-1zM177.3 437.5h1v1h-1zM155.0 430.1h1v1h-1zM173.8 455.8h1v1h-1zM186.5 458.4h1v1h-1zM167.0 446.8h1v1h-1zM184.7 426.6h1v1h-1zM165.3 434.9h1v1h-1zM179.0 440.9h1v1h-1zM183.0 416.9h1v1h-1zM157.8 433.9h1v1h-1zM173.7 440.3h1v1h-1zM155.4 436.4h1v1h-1zM193.0 419.9h1v1h-1zM172.5 438.1h1v1h-1zM164.7 442.0h1v1h-1zM202.1 426.6h1v1h-1zM196.3 423.9h1v1h-1zM194.6 447.6h1v1h-1zM189.5 418.1h1v1h-1zM195.8 453.1h1v1h-1zM184.8 434.2h1v1h-1zM202.5 441.9h1v1h-1zM156.3 427.2h1v1h-1zM164.4 446.9h1v1h-1zM196.4 416.8h1v1h-1zM199.1 436.6h1v1h-1zM166.7 422.2h1v1h-1zM166.1 452.0h1v1h-1zM204.2 440.3h1v1h-1zM169.2 437.8h1v1h-1zM182.7 413.2h1v1h-1zM182.2 424.7h1v1h-1zM169.0 441.6h1v1h-1zM195.4 423.4h1v1h-1zM165.3 433.5h1v1h-1z" fill="#8cc2b5"/>
<path d="M178.6 425.3h1v1h-1zM174.2 423.7h1v1h-1zM161.2 440.0h1v1h-1zM200.8 443.1h1v1h-1zM186.7 424.1h1v1h-1zM191.0 419.8h1v1h-1zM155.3 425.7h1v1h-1zM164.0 439.5h1v1h-1zM185.7 407.5h1v1h-1zM189.5 441.0h1v1h-1zM186.4 427.9h1v1h-1zM193.7 456.6h1v1h-1zM198.5 431.0h1v1h-1zM161.8 438.8h1v1h-1zM163.4 451.4h1v1h-1zM184.3 410.7h1v1h-1zM184.7 414.2h1v1h-1zM172.3 412.7h1v1h-1zM177.5 456.2h1v1h-1zM183.6 448.2h1v1h-1zM170.6 456.2h1v1h-1zM155.0 424.5h1v1h-1zM159.7 450.9h1v1h-1zM205.4 440.1h1v1h-1zM166.8 447.4h1v1h-1zM171.8 439.0h1v1h-1zM179.7 421.0h1v1h-1zM177.0 421.2h1v1h-1zM184.4 447.4h1v1h-1zM181.4 420.9h1v1h-1zM176.7 415.0h1v1h-1zM179.4 415.0h1v1h-1zM196.7 437.4h1v1h-1zM176.2 438.8h1v1h-1zM182.0 449.5h1v1h-1zM176.2 424.1h1v1h-1zM204.0 436.3h1v1h-1zM182.0 406.9h1v1h-1zM182.9 418.4h1v1h-1zM159.0 440.2h1v1h-1zM189.9 438.2h1v1h-1zM165.3 417.0h1v1h-1zM187.8 413.2h1v1h-1zM185.3 445.9h1v1h-1zM202.9 440.4h1v1h-1zM186.6 419.5h1v1h-1zM165.7 424.9h1v1h-1zM173.4 423.6h1v1h-1zM199.3 440.2h1v1h-1zM155.6 434.2h1v1h-1zM162.8 425.5h1v1h-1zM181.0 434.6h1v1h-1zM164.0 436.8h1v1h-1zM190.6 426.6h1v1h-1zM156.7 437.5h1v1h-1zM165.9 422.6h1v1h-1zM188.9 409.7h1v1h-1zM197.7 426.4h1v1h-1zM202.4 437.3h1v1h-1zM165.6 454.9h1v1h-1zM203.5 447.7h1v1h-1zM158.9 450.2h1v1h-1zM172.6 415.4h1v1h-1zM179.4 457.8h1v1h-1zM163.6 456.1h1v1h-1zM164.0 449.2h1v1h-1zM173.5 429.3h1v1h-1zM157.5 450.9h1v1h-1zM170.3 442.3h1v1h-1zM169.6 455.5h1v1h-1zM196.0 454.9h1v1h-1zM162.8 455.8h1v1h-1zM189.8 432.1h1v1h-1zM182.4 417.0h1v1h-1zM174.6 422.7h1v1h-1zM192.0 426.7h1v1h-1zM203.4 434.2h1v1h-1zM186.0 459.3h1v1h-1zM197.6 420.4h1v1h-1zM197.5 426.0h1v1h-1zM162.3 426.6h1v1h-1zM169.6 418.8h1v1h-1zM186.6 431.0h1v1h-1zM177.7 432.8h1v1h-1zM179.1 457.1h1v1h-1zM188.8 449.4h1v1h-1zM165.7 433.5h1v1h-1zM191.4 443.3h1v1h-1zM173.5 417.8h1v1h-1zM178.8 418.6h1v1h-1zM164.5 427.5h1v1h-1zM180.4 422.5h1v1h-1zM195.1 428.2h1v1h-1zM169.3 446.0h1v1h-1zM162.1 419.3h1v1h-1zM192.9 449.4h1v1h-1zM166.2 436.3h1v1h-1zM201.2 452.5h1v1h-1zM184.8 447.3h1v1h-1zM173.4 457.3h1v1h-1zM166.9 421.6h1v1h-1zM197.2 423.0h1v1h-1zM190.5 437.4h1v1h-1zM179.8 433.7h1v1h-1zM187.3 444.0h1v1h-1zM169.3 433.5h1v1h-1zM181.2 416.4h1v1h-1zM175.6 438.1h1v1h-1zM154.9 431.6h1v1h-1zM183.2 434.9h1v1h-1zM201.4 446.4h1v1h-1zM178.7 440.4h1v1h-1zM157.7 451.8h1v1h-1zM156.7 451.4h1v1h-1zM180.5 446.1h1v1h-1zM197.7 444.1h1v1h-1zM156.5 431.7h1v1h-1zM170.5 419.5h1v1h-1zM181.0 414.7h1v1h-1zM166.9 416.3h1v1h-1zM188.5 417.5h1v1h-1zM197.8 418.4h1v1h-1zM189.9 416.8h1v1h-1zM184.9 425.1h1v1h-1zM196.8 434.8h1v1h-1zM169.3 439.9h1v1h-1zM190.2 452.5h1v1h-1zM188.2 443.4h1v1h-1zM162.4 452.2h1v1h-1zM183.2 457.8h1v1h-1zM164.1 429.7h1v1h-1zM160.5 445.1h1v1h-1zM182.5 445.7h1v1h-1zM184.2 406.7h1v1h-1zM194.1 439.7h1v1h-1zM178.4 436.2h1v1h-1zM165.8 418.1h1v1h-1zM168.6 445.6h1v1h-1zM199.2 454.3h1v1h-1zM170.2 452.7h1v1h-1zM157.9 434.9h1v1h-1zM175.3 438.9h1v1h-1zM188.6 450.6h1v1h-1zM181.5 457.8h1v1h-1zM162.1 445.7h1v1h-1zM182.4 430.7h1v1h-1zM192.6 448.4h1v1h-1zM169.6 438.5h1v1h-1zM161.7 437.0h1v1h-1zM160.2 444.0h1v1h-1zM200.9 437.8h1v1h-1zM185.8 444.9h1v1h-1zM174.4 421.3h1v1h-1zM160.1 436.0h1v1h-1zM169.1 422.7h1v1h-1zM183.0 458.4h1v1h-1zM193.3 414.2h1v1h-1zM189.4 410.2h1v1h-1zM159.3 441.0h1v1h-1zM167.3 432.7h1v1h-1zM169.2 416.3h1v1h-1zM191.8 421.1h1v1h-1zM191.3 456.1h1v1h-1zM197.3 455.0h1v1h-1zM181.3 435.7h1v1h-1zM186.4 435.2h1v1h-1zM173.7 440.3h1v1h-1zM183.9 439.7h1v1h-1zM195.4 427.9h1v1h-1zM162.8 418.4h1v1h-1zM183.6 446.6h1v1h-1zM192.9 456.9h1v1h-1zM179.3 414.7h1v1h-1z" fill="#4e8e80"/>
<path d="M161.8 506.2h1v1h-1zM134.3 503.9h1v1h-1zM181.0 523.8h1v1h-1zM160.2 511.6h1v1h-1zM129.1 508.7h1v1h-1zM186.2 513.4h1v1h-1zM160.2 503.3h1v1h-1zM154.1 500.9h1v1h-1zM140.2 520.9h1v1h-1zM121.4 489.3h1v1h-1zM186.6 531.7h1v1h-1zM160.3 499.1h1v1h-1zM216.9 506.9h1v1h-1zM182.5 495.4h1v1h-1zM168.0 516.0h1v1h-1zM187.2 527.8h1v1h-1zM167.7 477.2h1v1h-1zM150.2 497.5h1v1h-1zM124.2 499.4h1v1h-1zM153.1 512.4h1v1h-1zM180.2 489.6h1v1h-1zM182.4 505.3h1v1h-1zM203.9 522.4h1v1h-1zM185.4 512.0h1v1h-1zM209.7 522.5h1v1h-1zM139.8 515.6h1v1h-1zM179.2 496.3h1v1h-1zM221.5 519.6h1v1h-1zM187.1 480.3h1v1h-1zM181.5 488.6h1v1h-1zM159.5 495.2h1v1h-1zM148.3 491.9h1v1h-1zM137.8 476.9h1v1h-1zM163.0 509.4h1v1h-1zM153.1 494.3h1v1h-1zM191.1 513.6h1v1h-1zM142.2 500.2h1v1h-1zM143.5 486.8h1v1h-1zM203.3 513.1h1v1h-1zM178.6 478.5h1v1h-1zM133.1 485.1h1v1h-1zM131.3 490.1h1v1h-1zM224.0 513.1h1v1h-1zM160.6 499.8h1v1h-1zM147.7 478.3h1v1h-1zM154.8 510.2h1v1h-1zM138.6 518.4h1v1h-1zM196.5 508.7h1v1h-1zM197.7 529.4h1v1h-1zM130.4 494.3h1v1h-1zM181.9 496.0h1v1h-1zM154.6 477.1h1v1h-1zM128.1 498.9h1v1h-1zM146.3 524.0h1v1h-1zM138.1 490.4h1v1h-1zM164.4 497.1h1v1h-1zM177.9 526.5h1v1h-1zM145.9 520.6h1v1h-1zM148.8 477.5h1v1h-1zM175.9 505.8h1v1h-1zM145.5 492.2h1v1h-1zM182.2 509.3h1v1h-1zM120.3 489.4h1v1h-1zM171.2 527.0h1v1h-1zM129.0 491.5h1v1h-1zM211.8 524.5h1v1h-1zM196.7 520.4h1v1h-1zM154.7 502.3h1v1h-1zM141.2 500.9h1v1h-1zM144.8 516.9h1v1h-1zM147.7 499.2h1v1h-1zM150.3 532.3h1v1h-1zM182.0 494.6h1v1h-1zM162.2 488.3h1v1h-1zM160.0 483.8h1v1h-1zM183.9 519.2h1v1h-1zM215.1 528.5h1v1h-1zM179.2 484.6h1v1h-1zM185.1 485.9h1v1h-1zM179.9 481.2h1v1h-1zM205.6 514.5h1v1h-1zM167.6 497.3h1v1h-1zM159.8 519.7h1v1h-1zM133.8 514.8h1v1h-1zM159.0 508.3h1v1h-1zM127.2 482.2h1v1h-1zM136.1 491.6h1v1h-1zM183.1 478.6h1v1h-1zM209.9 528.2h1v1h-1zM160.8 479.8h1v1h-1zM143.8 488.4h1v1h-1zM192.2 526.6h1v1h-1zM146.5 484.9h1v1h-1zM144.0 489.0h1v1h-1zM170.5 476.8h1v1h-1zM133.9 482.5h1v1h-1zM187.3 491.9h1v1h-1zM129.0 514.2h1v1h-1zM188.8 516.7h1v1h-1zM177.3 505.0h1v1h-1zM201.8 509.6h1v1h-1zM210.0 523.7h1v1h-1zM153.9 534.2h1v1h-1zM219.3 526.8h1v1h-1zM145.7 483.4h1v1h-1zM157.7 477.5h1v1h-1zM179.4 505.4h1v1h-1zM163.5 476.9h1v1h-1zM228.9 527.4h1v1h-1zM157.8 489.2h1v1h-1zM142.4 513.3h1v1h-1zM193.7 513.9h1v1h-1zM127.9 499.0h1v1h-1zM228.1 511.1h1v1h-1zM223.8 516.6h1v1h-1zM134.1 485.0h1v1h-1zM151.9 489.8h1v1h-1zM166.5 483.2h1v1h-1zM175.4 485.5h1v1h-1zM143.0 481.5h1v1h-1zM219.9 514.6h1v1h-1zM155.3 534.6h1v1h-1zM154.2 528.7h1v1h-1zM191.6 487.9h1v1h-1zM225.4 522.5h1v1h-1zM213.0 510.8h1v1h-1zM234.9 529.7h1v1h-1zM182.7 505.2h1v1h-1zM212.5 531.9h1v1h-1zM194.2 507.1h1v1h-1zM163.6 515.5h1v1h-1zM160.2 485.8h1v1h-1zM206.2 515.2h1v1h-1zM199.2 533.3h1v1h-1zM189.8 487.9h1v1h-1zM168.7 509.1h1v1h-1zM165.3 524.3h1v1h-1zM215.1 507.8h1v1h-1zM189.0 525.9h1v1h-1zM199.3 520.3h1v1h-1zM147.2 527.0h1v1h-1zM223.9 518.9h1v1h-1zM153.1 504.6h1v1h-1zM191.9 514.3h1v1h-1zM215.2 525.7h1v1h-1zM181.3 505.9h1v1h-1zM203.6 511.6h1v1h-1zM151.1 494.9h1v1h-1zM134.3 507.6h1v1h-1zM149.0 484.0h1v1h-1zM235.4 522.1h1v1h-1zM205.0 508.3h1v1h-1zM160.6 494.8h1v1h-1zM170.3 531.4h1v1h-1zM185.3 507.2h1v1h-1zM154.0 518.0h1v1h-1zM155.1 475.0h1v1h-1zM173.8 491.1h1v1h-1zM223.8 526.3h1v1h-1zM196.9 520.5h1v1h-1zM195.0 511.2h1v1h-1zM131.5 486.1h1v1h-1zM153.0 531.5h1v1h-1zM214.3 509.0h1v1h-1zM230.4 524.1h1v1h-1zM136.2 494.3h1v1h-1zM206.4 523.9h1v1h-1zM170.3 514.1h1v1h-1zM163.5 519.4h1v1h-1zM156.4 507.2h1v1h-1zM178.9 475.0h1v1h-1zM145.4 475.9h1v1h-1zM120.6 489.3h1v1h-1zM194.0 509.3h1v1h-1zM155.5 531.6h1v1h-1zM164.7 498.9h1v1h-1zM148.5 481.1h1v1h-1zM214.0 520.6h1v1h-1zM216.3 511.0h1v1h-1zM167.8 501.1h1v1h-1zM183.6 526.5h1v1h-1zM171.4 519.7h1v1h-1zM148.9 492.8h1v1h-1zM201.9 529.2h1v1h-1zM169.1 488.2h1v1h-1zM171.0 504.8h1v1h-1zM175.4 524.2h1v1h-1zM186.2 479.5h1v1h-1zM203.7 511.6h1v1h-1zM171.0 488.6h1v1h-1zM152.1 497.1h1v1h-1zM168.7 528.6h1v1h-1zM235.0 519.0h1v1h-1zM184.3 514.9h1v1h-1zM142.0 520.2h1v1h-1zM122.6 489.5h1v1h-1zM187.5 484.0h1v1h-1zM194.1 514.4h1v1h-1zM124.3 486.1h1v1h-1zM148.4 488.4h1v1h-1zM200.9 532.5h1v1h-1zM228.5 525.1h1v1h-1zM198.3 520.0h1v1h-1zM142.1 477.4h1v1h-1zM181.9 526.2h1v1h-1zM150.3 529.2h1v1h-1zM219.7 508.5h1v1h-1zM198.2 511.7h1v1h-1zM235.8 517.7h1v1h-1zM149.5 491.3h1v1h-1zM191.0 531.5h1v1h-1zM218.1 521.7h1v1h-1zM159.2 521.3h1v1h-1zM213.1 524.4h1v1h-1zM163.6 517.4h1v1h-1zM141.7 477.8h1v1h-1zM193.4 507.9h1v1h-1zM179.4 500.2h1v1h-1zM145.3 484.9h1v1h-1zM166.8 486.7h1v1h-1zM169.1 512.0h1v1h-1zM180.0 518.0h1v1h-1zM142.8 501.2h1v1h-1zM152.8 481.5h1v1h-1zM215.9 508.8h1v1h-1zM172.2 475.3h1v1h-1zM146.9 481.3h1v1h-1zM141.8 507.1h1v1h-1zM200.5 523.1h1v1h-1zM178.4 514.3h1v1h-1zM139.6 508.2h1v1h-1zM173.4 473.8h1v1h-1zM177.4 514.3h1v1h-1zM175.9 513.8h1v1h-1zM192.3 536.6h1v1h-1zM173.5 475.3h1v1h-1zM178.9 504.1h1v1h-1zM170.9 530.1h1v1h-1zM135.6 513.1h1v1h-1zM191.8 508.8h1v1h-1zM138.4 521.7h1v1h-1zM129.2 513.4h1v1h-1zM140.8 486.5h1v1h-1zM138.1 475.8h1v1h-1zM157.4 531.9h1v1h-1zM180.7 499.0h1v1h-1zM149.8 525.3h1v1h-1zM157.5 509.5h1v1h-1zM151.8 520.5h1v1h-1zM189.6 484.5h1v1h-1zM159.9 502.5h1v1h-1zM171.8 488.4h1v1h-1zM167.1 496.8h1v1h-1zM191.5 508.0h1v1h-1zM212.6 517.8h1v1h-1zM149.6 505.9h1v1h-1zM206.7 526.4h1v1h-1zM180.2 510.8h1v1h-1zM218.1 530.7h1v1h-1zM183.7 509.6h1v1h-1zM147.8 496.7h1v1h-1zM179.3 504.9h1v1h-1zM170.5 493.6h1v1h-1zM202.9 527.2h1v1h-1zM205.8 518.4h1v1h-1zM184.9 515.7h1v1h-1zM176.1 485.6h1v1h-1zM203.7 528.9h1v1h-1zM125.5 503.3h1v1h-1zM137.1 511.7h1v1h-1zM161.5 473.2h1v1h-1zM205.7 531.1h1v1h-1zM181.6 477.8h1v1h-1zM150.3 489.6h1v1h-1zM147.5 486.9h1v1h-1zM210.7 521.0h1v1h-1zM174.0 528.3h1v1h-1zM144.2 499.6h1v1h-1zM133.5 505.8h1v1h-1zM158.6 502.1h1v1h-1zM159.3 535.7h1v1h-1zM140.3 527.0h1v1h-1zM205.1 530.0h1v1h-1zM186.6 527.7h1v1h-1zM160.8 489.9h1v1h-1zM138.4 475.4h1v1h-1zM184.6 514.2h1v1h-1zM172.4 499.2h1v1h-1zM170.1 485.8h1v1h-1zM226.4 523.3h1v1h-1zM139.3 486.5h1v1h-1zM138.2 517.1h1v1h-1zM134.1 499.5h1v1h-1zM159.9 487.7h1v1h-1zM124.7 494.0h1v1h-1zM151.6 505.4h1v1h-1zM150.8 528.2h1v1h-1zM200.7 509.9h1v1h-1zM215.4 526.9h1v1h-1zM171.3 506.2h1v1h-1zM231.1 529.4h1v1h-1zM165.8 478.7h1v1h-1zM122.9 481.6h1v1h-1zM139.9 499.1h1v1h-1zM161.9 482.7h1v1h-1zM130.1 515.4h1v1h-1zM183.3 498.2h1v1h-1zM162.9 532.8h1v1h-1zM187.0 489.3h1v1h-1zM143.5 491.9h1v1h-1zM184.2 492.0h1v1h-1zM214.3 514.8h1v1h-1zM212.0 520.9h1v1h-1zM128.2 509.8h1v1h-1zM151.4 481.8h1v1h-1zM155.8 507.5h1v1h-1zM198.8 526.1h1v1h-1zM221.1 530.6h1v1h-1zM206.5 534.6h1v1h-1zM152.4 514.1h1v1h-1zM179.1 474.7h1v1h-1zM210.5 517.3h1v1h-1zM218.9 520.8h1v1h-1zM219.0 531.2h1v1h-1zM143.0 478.4h1v1h-1zM151.7 529.0h1v1h-1zM161.4 481.2h1v1h-1zM140.3 483.4h1v1h-1zM152.9 474.1h1v1h-1zM155.9 535.0h1v1h-1zM200.9 507.4h1v1h-1zM149.3 520.6h1v1h-1zM140.3 520.6h1v1h-1zM148.9 517.1h1v1h-1zM160.2 529.9h1v1h-1zM135.7 508.5h1v1h-1zM138.8 521.1h1v1h-1zM172.2 520.9h1v1h-1zM203.3 534.8h1v1h-1zM186.6 520.7h1v1h-1z" fill="#4e8e80"/>
<path d="M138.7 486.8h1v1h-1zM187.7 510.9h1v1h-1zM131.8 496.9h1v1h-1zM175.7 496.7h1v1h-1zM147.5 519.7h1v1h-1zM139.7 526.3h1v1h-1zM156.3 475.3h1v1h-1zM213.6 520.3h1v1h-1zM192.0 479.5h1v1h-1zM181.5 483.7h1v1h-1zM221.5 517.7h1v1h-1zM159.9 503.0h1v1h-1zM123.1 481.8h1v1h-1zM136.5 518.7h1v1h-1zM189.6 509.0h1v1h-1zM227.6 529.4h1v1h-1zM224.6 518.1h1v1h-1zM207.3 517.9h1v1h-1zM169.7 487.9h1v1h-1zM131.8 519.0h1v1h-1zM175.1 518.5h1v1h-1zM149.9 499.5h1v1h-1zM183.6 505.7h1v1h-1zM120.3 494.5h1v1h-1zM160.9 479.1h1v1h-1zM180.9 478.6h1v1h-1zM191.6 486.1h1v1h-1zM210.1 529.4h1v1h-1zM204.1 516.2h1v1h-1zM209.7 533.6h1v1h-1zM124.2 487.0h1v1h-1zM155.2 535.7h1v1h-1zM214.2 520.1h1v1h-1zM176.4 490.3h1v1h-1zM131.3 480.2h1v1h-1zM180.2 497.7h1v1h-1zM221.9 518.9h1v1h-1zM180.0 499.6h1v1h-1zM208.3 528.1h1v1h-1zM161.4 473.3h1v1h-1zM128.6 512.7h1v1h-1zM194.0 513.7h1v1h-1zM180.8 517.6h1v1h-1zM175.6 522.0h1v1h-1zM192.6 521.7h1v1h-1zM196.7 536.6h1v1h-1zM166.2 525.4h1v1h-1zM183.8 491.3h1v1h-1zM134.3 504.0h1v1h-1zM153.1 521.8h1v1h-1zM137.3 479.8h1v1h-1zM130.9 482.9h1v1h-1zM154.2 477.2h1v1h-1zM153.3 534.4h1v1h-1zM166.5 530.7h1v1h-1zM123.5 484.8h1v1h-1zM145.2 478.6h1v1h-1zM200.9 536.1h1v1h-1zM141.0 484.4h1v1h-1zM128.3 508.6h1v1h-1zM128.5 483.6h1v1h-1zM214.4 531.4h1v1h-1zM148.8 517.5h1v1h-1zM204.4 512.7h1v1h-1zM140.9 524.3h1v1h-1zM203.1 509.3h1v1h-1zM217.3 515.0h1v1h-1zM126.6 486.9h1v1h-1zM180.5 489.2h1v1h-1zM205.7 530.2h1v1h-1zM143.5 516.3h1v1h-1zM202.4 514.2h1v1h-1zM211.8 515.3h1v1h-1zM174.4 517.7h1v1h-1zM180.3 523.8h1v1h-1zM163.4 524.9h1v1h-1zM206.5 516.1h1v1h-1zM183.0 481.9h1v1h-1zM144.6 517.6h1v1h-1zM152.1 476.1h1v1h-1zM162.8 532.1h1v1h-1zM165.5 494.3h1v1h-1zM147.0 523.8h1v1h-1zM164.4 504.1h1v1h-1zM141.1 525.6h1v1h-1zM170.6 513.7h1v1h-1zM197.0 520.5h1v1h-1zM165.3 496.4h1v1h-1zM180.5 479.3h1v1h-1zM219.7 509.8h1v1h-1zM132.5 507.6h1v1h-1zM141.3 496.3h1v1h-1zM152.6 513.6h1v1h-1zM158.3 487.2h1v1h-1zM227.3 525.7h1v1h-1zM164.2 509.0h1v1h-1zM171.4 482.6h1v1h-1zM180.7 476.4h1v1h-1zM185.1 526.7h1v1h-1zM133.9 480.5h1v1h-1zM222.2 525.9h1v1h-1zM227.7 521.7h1v1h-1zM227.2 509.7h1v1h-1zM154.4 502.9h1v1h-1zM168.5 513.7h1v1h-1zM145.6 516.6h1v1h-1zM152.1 498.8h1v1h-1zM145.6 489.9h1v1h-1zM159.2 521.1h1v1h-1zM230.7 530.0h1v1h-1zM142.1 483.6h1v1h-1zM185.6 477.2h1v1h-1zM128.8 491.6h1v1h-1zM164.2 487.6h1v1h-1zM203.0 526.1h1v1h-1zM178.8 517.1h1v1h-1zM199.4 517.7h1v1h-1zM213.7 528.9h1v1h-1zM153.0 532.3h1v1h-1zM128.5 481.5h1v1h-1zM173.0 525.8h1v1h-1zM223.9 522.0h1v1h-1zM189.3 518.3h1v1h-1zM171.4 516.9h1v1h-1zM191.1 511.8h1v1h-1zM135.6 508.1h1v1h-1zM182.6 479.6h1v1h-1zM159.1 536.8h1v1h-1zM147.0 530.8h1v1h-1zM175.9 524.2h1v1h-1zM173.4 520.6h1v1h-1zM154.3 480.2h1v1h-1zM137.2 485.7h1v1h-1zM188.3 536.0h1v1h-1zM235.7 525.1h1v1h-1zM189.6 521.6h1v1h-1zM226.4 526.9h1v1h-1zM148.7 483.8h1v1h-1zM219.6 523.9h1v1h-1zM140.2 525.5h1v1h-1zM199.1 527.2h1v1h-1zM173.2 507.7h1v1h-1zM196.3 524.6h1v1h-1zM184.7 524.0h1v1h-1zM137.7 485.7h1v1h-1zM168.9 529.0h1v1h-1zM203.4 514.4h1v1h-1zM151.5 481.6h1v1h-1zM144.3 529.4h1v1h-1zM176.3 474.2h1v1h-1zM142.6 520.3h1v1h-1zM186.8 530.7h1v1h-1zM173.8 494.5h1v1h-1zM156.1 475.1h1v1h-1zM151.1 499.0h1v1h-1zM128.1 488.5h1v1h-1zM162.5 519.0h1v1h-1zM155.1 534.4h1v1h-1zM190.1 512.4h1v1h-1zM200.9 535.4h1v1h-1zM149.5 487.4h1v1h-1zM172.2 529.1h1v1h-1zM171.6 475.1h1v1h-1zM206.3 519.3h1v1h-1zM208.4 518.7h1v1h-1zM163.3 528.4h1v1h-1zM133.1 517.2h1v1h-1zM201.0 522.9h1v1h-1zM133.3 513.7h1v1h-1zM202.9 530.9h1v1h-1zM135.0 494.5h1v1h-1zM166.3 531.3h1v1h-1zM154.7 516.9h1v1h-1zM214.1 510.9h1v1h-1zM162.3 532.2h1v1h-1zM158.2 502.2h1v1h-1zM165.5 532.2h1v1h-1zM204.0 519.0h1v1h-1zM232.0 514.5h1v1h-1zM131.3 481.8h1v1h-1zM159.2 492.4h1v1h-1zM166.0 519.7h1v1h-1zM163.7 526.5h1v1h-1zM142.8 503.3h1v1h-1zM217.5 511.6h1v1h-1zM161.4 502.8h1v1h-1zM189.6 531.6h1v1h-1zM199.5 521.8h1v1h-1zM179.3 507.9h1v1h-1zM234.4 524.8h1v1h-1zM172.9 498.2h1v1h-1zM187.4 527.7h1v1h-1zM183.4 533.4h1v1h-1zM183.8 490.4h1v1h-1zM200.6 523.5h1v1h-1zM189.6 487.2h1v1h-1zM184.6 510.2h1v1h-1zM173.8 492.9h1v1h-1zM122.9 488.8h1v1h-1zM130.2 511.9h1v1h-1zM129.6 499.6h1v1h-1zM184.0 479.4h1v1h-1zM205.7 533.2h1v1h-1zM146.3 483.4h1v1h-1zM179.7 504.6h1v1h-1zM173.1 485.4h1v1h-1zM200.6 528.3h1v1h-1zM149.1 519.6h1v1h-1zM173.0 529.4h1v1h-1zM159.2 479.4h1v1h-1zM149.6 496.4h1v1h-1zM160.4 526.1h1v1h-1zM153.1 486.6h1v1h-1zM174.9 491.7h1v1h-1zM222.5 509.9h1v1h-1zM191.1 487.0h1v1h-1zM152.4 514.5h1v1h-1zM145.5 485.3h1v1h-1zM191.4 484.6h1v1h-1zM164.7 511.0h1v1h-1zM138.9 492.2h1v1h-1zM138.7 514.7h1v1h-1zM227.6 524.1h1v1h-1zM195.3 527.1h1v1h-1zM176.6 482.4h1v1h-1zM187.8 530.0h1v1h-1zM138.4 497.4h1v1h-1zM183.3 494.1h1v1h-1zM123.0 502.1h1v1h-1zM170.1 507.0h1v1h-1zM183.0 475.1h1v1h-1zM143.8 508.2h1v1h-1zM181.9 484.3h1v1h-1zM190.7 489.3h1v1h-1zM123.3 493.4h1v1h-1zM233.7 514.6h1v1h-1zM234.5 520.3h1v1h-1zM145.4 497.5h1v1h-1zM149.4 527.2h1v1h-1zM231.9 517.6h1v1h-1zM131.1 495.5h1v1h-1zM165.1 498.6h1v1h-1zM159.6 501.3h1v1h-1zM231.2 520.9h1v1h-1zM168.4 502.1h1v1h-1zM155.1 498.9h1v1h-1zM188.9 518.7h1v1h-1zM187.2 483.7h1v1h-1zM150.7 496.6h1v1h-1zM151.0 532.8h1v1h-1zM143.5 528.7h1v1h-1zM139.0 503.8h1v1h-1zM142.5 485.8h1v1h-1zM198.4 531.3h1v1h-1zM149.6 524.9h1v1h-1zM215.3 521.6h1v1h-1zM217.9 527.1h1v1h-1zM131.6 509.8h1v1h-1zM121.4 489.3h1v1h-1zM169.2 519.7h1v1h-1zM144.6 522.0h1v1h-1zM152.4 492.6h1v1h-1zM134.9 515.4h1v1h-1zM198.4 526.9h1v1h-1zM202.9 522.2h1v1h-1zM194.9 527.6h1v1h-1zM128.7 506.4h1v1h-1zM165.5 473.4h1v1h-1zM186.3 481.0h1v1h-1zM175.3 474.9h1v1h-1zM143.7 480.4h1v1h-1zM185.1 533.2h1v1h-1zM189.8 490.8h1v1h-1zM164.6 520.4h1v1h-1zM159.8 533.7h1v1h-1zM159.2 473.5h1v1h-1zM233.4 523.2h1v1h-1zM129.0 501.6h1v1h-1zM164.5 485.2h1v1h-1zM176.8 486.6h1v1h-1zM153.5 503.2h1v1h-1zM187.3 514.8h1v1h-1zM190.9 519.6h1v1h-1zM188.5 489.2h1v1h-1zM195.7 507.0h1v1h-1zM172.2 491.4h1v1h-1zM144.9 491.0h1v1h-1zM185.6 525.9h1v1h-1zM187.0 483.6h1v1h-1zM159.0 525.8h1v1h-1zM220.9 521.8h1v1h-1zM169.3 520.8h1v1h-1zM159.4 489.2h1v1h-1zM147.4 523.4h1v1h-1zM156.7 476.4h1v1h-1zM129.5 515.0h1v1h-1zM131.2 490.6h1v1h-1zM125.9 494.8h1v1h-1zM167.2 525.0h1v1h-1zM153.7 482.4h1v1h-1zM145.6 514.0h1v1h-1zM154.2 533.3h1v1h-1zM180.1 527.1h1v1h-1zM172.6 509.0h1v1h-1zM147.3 518.6h1v1h-1zM151.9 492.5h1v1h-1zM220.3 516.0h1v1h-1zM217.8 521.2h1v1h-1zM139.8 511.4h1v1h-1zM157.1 508.5h1v1h-1zM208.5 528.3h1v1h-1zM176.1 495.3h1v1h-1zM141.0 524.9h1v1h-1zM229.6 513.1h1v1h-1zM224.0 531.3h1v1h-1zM158.9 485.1h1v1h-1zM128.4 504.2h1v1h-1zM197.1 532.7h1v1h-1zM228.0 522.4h1v1h-1zM164.2 507.5h1v1h-1zM216.5 530.6h1v1h-1zM138.3 489.3h1v1h-1zM169.9 524.8h1v1h-1zM183.7 477.9h1v1h-1zM209.7 507.1h1v1h-1zM190.2 526.3h1v1h-1zM160.2 492.8h1v1h-1zM129.9 486.1h1v1h-1zM180.2 507.0h1v1h-1zM194.5 525.1h1v1h-1zM135.0 507.9h1v1h-1zM167.5 492.4h1v1h-1zM222.0 530.9h1v1h-1zM163.6 473.3h1v1h-1zM135.6 484.5h1v1h-1zM172.0 485.1h1v1h-1zM170.4 527.7h1v1h-1zM135.7 515.9h1v1h-1zM126.5 500.4h1v1h-1zM178.0 494.5h1v1h-1zM183.1 482.9h1v1h-1zM134.7 520.3h1v1h-1zM224.4 517.5h1v1h-1zM129.8 492.8h1v1h-1zM176.1 519.3h1v1h-1zM128.7 483.2h1v1h-1zM148.5 518.1h1v1h-1zM188.8 488.2h1v1h-1zM214.6 514.3h1v1h-1zM174.0 511.7h1v1h-1zM147.0 475.3h1v1h-1zM156.8 527.6h1v1h-1zM187.2 512.1h1v1h-1zM183.3 476.4h1v1h-1zM208.8 518.4h1v1h-1zM171.1 524.9h1v1h-1zM149.3 480.5h1v1h-1zM121.2 500.4h1v1h-1zM222.5 507.9h1v1h-1zM139.1 494.4h1v1h-1z" fill="#8cc2b5"/>
<path d="M176.4 421.7h1v1h-1zM201.7 432.0h1v1h-1zM156.8 446.4h1v1h-1zM156.1 439.8h1v1h-1zM198.0 438.9h1v1h-1zM164.2 451.6h1v1h-1zM199.6 423.6h1v1h-1zM167.0 442.3h1v1h-1zM199.9 444.6h1v1h-1zM164.5 439.0h1v1h-1zM175.4 440.4h1v1h-1zM178.7 417.0h1v1h-1zM170.7 423.7h1v1h-1zM183.6 456.9h1v1h-1zM185.4 456.1h1v1h-1zM173.6 429.5h1v1h-1zM172.3 425.8h1v1h-1zM205.8 445.6h1v1h-1zM189.1 434.7h1v1h-1zM163.0 418.0h1v1h-1zM176.9 446.1h1v1h-1zM172.0 427.6h1v1h-1zM170.7 435.0h1v1h-1zM199.5 428.8h1v1h-1zM168.9 432.5h1v1h-1zM154.1 428.2h1v1h-1zM161.9 427.3h1v1h-1zM168.1 448.0h1v1h-1zM179.8 419.4h1v1h-1zM184.2 431.7h1v1h-1zM164.2 448.0h1v1h-1zM183.8 406.5h1v1h-1zM181.6 427.4h1v1h-1zM185.9 459.6h1v1h-1zM178.1 429.5h1v1h-1zM160.7 441.8h1v1h-1zM178.4 415.6h1v1h-1zM197.9 437.8h1v1h-1zM174.9 455.9h1v1h-1zM182.0 427.9h1v1h-1z" fill="#707070"/>
<path d="M176.0 514.2h1v1h-1zM202.9 525.6h1v1h-1zM216.5 515.7h1v1h-1zM171.7 520.2h1v1h-1zM129.7 517.5h1v1h-1zM189.3 487.3h1v1h-1zM143.0 526.4h1v1h-1zM145.0 521.6h1v1h-1zM184.7 496.4h1v1h-1zM156.0 496.8h1v1h-1zM177.2 484.6h1v1h-1zM145.0 476.6h1v1h-1zM152.9 517.0h1v1h-1zM220.9 531.1h1v1h-1zM155.0 515.0h1v1h-1zM187.0 488.5h1v1h-1zM233.4 515.9h1v1h-1zM155.3 497.3h1v1h-1zM152.1 527.1h1v1h-1zM155.0 481.2h1v1h-1zM126.4 484.0h1v1h-1zM159.1 509.8h1v1h-1zM175.6 517.1h1v1h-1zM157.3 506.7h1v1h-1zM183.0 517.0h1v1h-1zM219.2 526.9h1v1h-1zM235.6 520.7h1v1h-1zM132.7 494.4h1v1h-1zM193.4 481.3h1v1h-1zM165.9 498.3h1v1h-1zM135.9 500.3h1v1h-1zM199.9 533.9h1v1h-1zM197.6 513.2h1v1h-1zM210.3 518.3h1v1h-1zM176.0 509.9h1v1h-1zM129.6 492.4h1v1h-1zM162.5 515.5h1v1h-1zM177.4 475.9h1v1h-1zM212.2 506.5h1v1h-1zM191.2 537.0h1v1h-1zM133.4 483.5h1v1h-1zM206.7 527.6h1v1h-1zM161.1 509.9h1v1h-1zM146.4 482.7h1v1h-1zM144.0 500.6h1v1h-1zM156.6 522.5h1v1h-1zM180.4 491.0h1v1h-1zM225.5 513.1h1v1h-1zM173.6 527.3h1v1h-1zM158.8 486.3h1v1h-1zM144.3 489.9h1v1h-1zM213.7 526.2h1v1h-1zM197.1 522.3h1v1h-1zM169.5 526.0h1v1h-1zM149.3 531.3h1v1h-1zM204.1 522.4h1v1h-1zM128.4 500.2h1v1h-1zM124.2 506.4h1v1h-1zM185.4 498.4h1v1h-1zM174.5 502.2h1v1h-1zM122.8 498.4h1v1h-1zM206.8 507.1h1v1h-1zM120.9 486.4h1v1h-1zM144.3 474.5h1v1h-1zM165.4 488.5h1v1h-1zM171.8 521.5h1v1h-1zM228.9 524.0h1v1h-1zM147.3 507.3h1v1h-1zM148.8 516.0h1v1h-1zM226.8 519.0h1v1h-1zM180.4 519.0h1v1h-1zM139.4 501.4h1v1h-1zM127.0 501.4h1v1h-1zM152.7 525.0h1v1h-1zM141.5 505.4h1v1h-1zM182.2 494.1h1v1h-1zM156.7 496.5h1v1h-1zM193.5 530.6h1v1h-1zM135.1 521.6h1v1h-1zM190.8 520.3h1v1h-1z" fill="#707070"/>
<path d="M222.0,451.0 L229.0,450.5 L235.0,452.0 L241.0,455.0 L248.0,458.6 L257.7,464.4 L261.5,469.0 L259.5,474.0 L253.8,475.0 L246.0,474.0 L238.5,471.5 L231.0,468.0 L225.0,464.0 L221.5,458.0 Z" fill="#68a99c" opacity="0.92"/>
<path d="M222.0,451.0 L229.0,450.5 L235.0,452.0 L240.0,454.5 L245.0,458.0 L241.0,463.0 L234.0,465.0 L228.0,463.5 L224.0,460.0 L221.5,456.0 Z" fill="#707070" opacity="0.8"/>
<path d="M231.2 462.8h1v1h-1zM260.2 468.4h1v1h-1zM244.9 459.3h1v1h-1zM236.2 469.7h1v1h-1zM239.0 471.0h1v1h-1zM254.5 470.6h1v1h-1zM252.0 466.5h1v1h-1zM254.7 471.1h1v1h-1zM250.7 464.9h1v1h-1zM247.1 460.8h1v1h-1zM248.6 468.3h1v1h-1zM261.0 469.5h1v1h-1zM236.9 458.3h1v1h-1zM244.3 466.5h1v1h-1zM248.9 464.0h1v1h-1zM237.8 468.7h1v1h-1zM258.7 469.0h1v1h-1zM224.4 462.4h1v1h-1zM232.5 468.6h1v1h-1zM238.9 468.4h1v1h-1zM258.6 465.5h1v1h-1zM246.1 469.3h1v1h-1zM244.7 466.1h1v1h-1zM241.8 464.3h1v1h-1zM243.8 459.9h1v1h-1zM239.0 458.6h1v1h-1zM244.6 469.2h1v1h-1zM241.0 472.3h1v1h-1zM255.0 467.2h1v1h-1zM241.5 466.9h1v1h-1zM252.2 469.5h1v1h-1zM237.4 466.8h1v1h-1zM230.4 454.7h1v1h-1zM251.5 472.0h1v1h-1zM254.9 471.1h1v1h-1zM232.5 460.5h1v1h-1zM237.8 466.3h1v1h-1zM230.3 455.9h1v1h-1zM244.3 457.2h1v1h-1zM224.1 453.2h1v1h-1zM254.1 472.0h1v1h-1zM251.9 469.2h1v1h-1zM242.4 471.4h1v1h-1zM231.4 456.1h1v1h-1zM254.2 463.3h1v1h-1zM251.8 473.4h1v1h-1zM237.8 461.3h1v1h-1z" fill="#707070"/>
<path d="M230.8 464.0h1v1h-1zM243.4 465.9h1v1h-1zM222.6 456.8h1v1h-1zM240.6 470.5h1v1h-1zM228.6 465.6h1v1h-1zM258.6 469.2h1v1h-1zM238.1 455.4h1v1h-1zM228.6 459.3h1v1h-1zM258.8 466.3h1v1h-1zM243.1 463.3h1v1h-1zM254.1 473.2h1v1h-1zM244.7 464.2h1v1h-1zM242.9 465.1h1v1h-1zM243.8 462.8h1v1h-1zM249.6 466.9h1v1h-1zM250.6 462.2h1v1h-1zM234.5 465.4h1v1h-1zM223.5 457.2h1v1h-1zM242.9 469.7h1v1h-1zM244.2 466.3h1v1h-1zM227.7 463.3h1v1h-1zM237.9 455.5h1v1h-1zM259.2 471.2h1v1h-1zM255.7 466.6h1v1h-1zM245.6 463.1h1v1h-1zM260.6 470.6h1v1h-1zM235.7 470.0h1v1h-1zM224.9 452.1h1v1h-1zM230.5 454.4h1v1h-1zM240.4 470.3h1v1h-1zM233.5 452.5h1v1h-1zM242.5 469.7h1v1h-1zM233.6 453.8h1v1h-1zM228.9 462.1h1v1h-1zM251.9 467.2h1v1h-1zM238.0 467.1h1v1h-1zM224.0 454.6h1v1h-1zM251.6 469.1h1v1h-1zM246.0 462.8h1v1h-1zM247.4 461.8h1v1h-1zM223.8 456.1h1v1h-1zM252.1 473.3h1v1h-1zM228.1 451.4h1v1h-1zM252.9 471.1h1v1h-1zM229.4 461.1h1v1h-1zM235.6 468.4h1v1h-1zM222.7 456.0h1v1h-1zM225.3 462.2h1v1h-1zM221.8 456.6h1v1h-1zM230.7 466.8h1v1h-1zM240.3 464.0h1v1h-1zM256.4 473.1h1v1h-1zM232.2 468.3h1v1h-1zM232.8 468.1h1v1h-1zM250.1 460.2h1v1h-1zM228.4 455.6h1v1h-1zM243.9 467.0h1v1h-1zM241.2 457.9h1v1h-1zM239.6 457.2h1v1h-1zM236.3 463.7h1v1h-1zM234.6 458.7h1v1h-1zM246.6 459.6h1v1h-1zM251.3 463.2h1v1h-1zM242.6 471.4h1v1h-1zM226.2 455.7h1v1h-1zM258.2 472.0h1v1h-1zM229.4 458.3h1v1h-1zM228.6 454.2h1v1h-1zM228.0 464.0h1v1h-1zM222.5 453.0h1v1h-1zM236.1 455.4h1v1h-1zM230.8 459.1h1v1h-1zM243.7 470.3h1v1h-1z" fill="#68a99c"/>
<path d="M193.6,475.0 L199.0,474.0 L202.3,477.0 L203.0,481.0 L198.0,482.0 L194.0,479.0 Z" fill="#707070" opacity="0.85"/>
<path d="M305.4,413.9 L310.0,412.5 L319.3,412.7 L326.2,418.5 L330.8,420.8 L339.0,421.5 L347.0,423.0 L356.2,430.0 L361.5,443.9 L360.8,446.0 L356.0,455.4 L348.5,463.0 L342.3,467.0 L336.0,463.0 L333.0,455.4 L330.8,443.9 L329.7,432.3 L323.9,423.1 L317.0,417.3 L310.0,415.5 Z" fill="#707070" />
<path d="M328.7 428.2h1v1h-1zM342.2 446.5h1v1h-1zM335.0 459.3h1v1h-1zM350.1 457.4h1v1h-1zM348.0 455.0h1v1h-1zM345.1 447.4h1v1h-1zM347.7 436.0h1v1h-1zM345.1 447.7h1v1h-1zM333.0 439.0h1v1h-1zM338.8 464.0h1v1h-1zM350.1 460.8h1v1h-1zM344.6 439.8h1v1h-1zM325.6 421.3h1v1h-1zM346.0 452.7h1v1h-1zM336.3 432.9h1v1h-1zM316.9 415.6h1v1h-1zM315.5 415.3h1v1h-1zM348.2 447.6h1v1h-1zM342.1 465.8h1v1h-1zM338.2 457.4h1v1h-1zM330.6 434.5h1v1h-1zM355.4 434.7h1v1h-1zM357.8 446.1h1v1h-1zM347.4 457.2h1v1h-1zM330.5 438.2h1v1h-1zM332.9 451.3h1v1h-1zM339.7 423.3h1v1h-1zM340.7 426.3h1v1h-1zM336.0 450.3h1v1h-1zM335.2 457.0h1v1h-1zM333.8 440.4h1v1h-1zM310.4 414.0h1v1h-1zM319.8 418.6h1v1h-1zM334.6 458.8h1v1h-1zM356.2 447.3h1v1h-1zM342.7 466.0h1v1h-1zM342.0 446.8h1v1h-1zM343.2 465.2h1v1h-1zM351.1 441.4h1v1h-1zM345.1 461.4h1v1h-1zM353.3 454.2h1v1h-1zM341.5 448.0h1v1h-1zM340.1 428.0h1v1h-1zM338.1 431.7h1v1h-1zM333.6 435.5h1v1h-1zM348.5 459.3h1v1h-1zM354.5 439.6h1v1h-1zM340.2 458.3h1v1h-1zM337.0 424.0h1v1h-1zM337.2 456.8h1v1h-1zM332.3 427.0h1v1h-1zM350.1 438.5h1v1h-1zM333.3 439.8h1v1h-1zM347.2 429.2h1v1h-1zM355.6 448.6h1v1h-1zM321.0 417.2h1v1h-1zM346.1 462.0h1v1h-1zM357.7 446.3h1v1h-1zM343.0 443.3h1v1h-1zM339.6 434.3h1v1h-1zM347.7 451.5h1v1h-1zM351.6 442.1h1v1h-1zM348.5 446.9h1v1h-1zM315.9 414.9h1v1h-1zM347.1 460.1h1v1h-1zM336.8 450.9h1v1h-1zM347.3 447.5h1v1h-1zM351.6 459.8h1v1h-1zM334.6 441.4h1v1h-1zM332.2 442.6h1v1h-1zM347.2 452.6h1v1h-1zM340.3 439.1h1v1h-1zM340.7 455.7h1v1h-1zM331.0 423.6h1v1h-1zM347.6 454.8h1v1h-1zM352.5 448.7h1v1h-1zM338.3 430.5h1v1h-1zM333.1 453.7h1v1h-1zM344.0 429.1h1v1h-1zM350.3 449.1h1v1h-1zM342.8 464.5h1v1h-1zM320.1 416.2h1v1h-1zM331.9 441.1h1v1h-1zM327.5 421.0h1v1h-1zM336.3 456.4h1v1h-1zM332.0 439.0h1v1h-1zM355.8 439.7h1v1h-1zM334.7 433.4h1v1h-1zM343.4 457.5h1v1h-1zM343.2 451.8h1v1h-1zM343.3 433.7h1v1h-1zM353.1 438.0h1v1h-1zM314.3 414.8h1v1h-1zM353.1 447.9h1v1h-1zM348.1 436.2h1v1h-1zM341.4 436.0h1v1h-1zM339.3 445.6h1v1h-1zM332.5 436.7h1v1h-1zM343.7 457.3h1v1h-1zM334.9 426.8h1v1h-1zM343.8 423.8h1v1h-1zM337.2 460.4h1v1h-1zM329.3 427.0h1v1h-1zM352.0 433.8h1v1h-1zM343.3 429.6h1v1h-1zM334.4 429.1h1v1h-1zM342.0 426.5h1v1h-1zM341.1 443.8h1v1h-1zM309.9 413.2h1v1h-1zM350.1 452.9h1v1h-1zM357.2 433.7h1v1h-1zM320.6 416.7h1v1h-1z" fill="#5c5c5c"/>
<path d="M352.8 436.7h1v1h-1zM335.1 442.5h1v1h-1zM336.9 426.9h1v1h-1zM337.8 432.5h1v1h-1zM341.0 434.2h1v1h-1zM332.1 450.6h1v1h-1zM348.2 427.2h1v1h-1zM337.3 434.7h1v1h-1zM333.7 447.5h1v1h-1zM322.8 420.6h1v1h-1zM343.7 460.9h1v1h-1zM342.2 443.2h1v1h-1zM339.4 463.1h1v1h-1zM332.0 427.3h1v1h-1zM348.1 433.5h1v1h-1zM349.1 443.8h1v1h-1zM346.2 456.6h1v1h-1zM348.4 432.4h1v1h-1zM346.9 439.1h1v1h-1zM342.2 453.4h1v1h-1zM357.2 444.0h1v1h-1zM342.4 439.7h1v1h-1zM332.9 448.3h1v1h-1zM342.2 443.6h1v1h-1zM347.3 457.0h1v1h-1zM356.3 442.9h1v1h-1zM332.9 452.5h1v1h-1zM340.6 452.7h1v1h-1zM354.3 446.0h1v1h-1zM343.1 431.2h1v1h-1zM341.2 447.3h1v1h-1zM339.1 455.4h1v1h-1zM338.1 428.6h1v1h-1zM332.3 446.4h1v1h-1zM346.3 447.6h1v1h-1zM337.6 437.4h1v1h-1zM334.2 444.0h1v1h-1zM330.9 429.3h1v1h-1zM330.6 429.3h1v1h-1zM351.6 436.7h1v1h-1zM335.2 431.2h1v1h-1zM353.1 432.5h1v1h-1zM350.5 455.0h1v1h-1zM351.8 443.6h1v1h-1zM333.9 421.3h1v1h-1zM340.0 449.7h1v1h-1zM347.0 444.8h1v1h-1zM337.5 434.1h1v1h-1zM337.8 449.4h1v1h-1zM336.9 438.6h1v1h-1zM357.7 443.7h1v1h-1zM355.4 438.5h1v1h-1zM353.2 449.4h1v1h-1zM356.3 450.6h1v1h-1zM350.3 446.6h1v1h-1zM342.6 425.3h1v1h-1zM353.8 457.1h1v1h-1zM335.2 457.9h1v1h-1zM349.3 447.7h1v1h-1zM340.5 458.2h1v1h-1zM337.6 430.7h1v1h-1zM348.8 462.1h1v1h-1zM345.5 446.2h1v1h-1zM350.5 433.3h1v1h-1zM351.9 432.0h1v1h-1zM339.8 436.7h1v1h-1zM343.0 437.3h1v1h-1zM358.9 441.1h1v1h-1zM336.5 425.1h1v1h-1zM334.3 433.5h1v1h-1zM345.7 425.6h1v1h-1zM351.3 454.8h1v1h-1zM351.1 436.2h1v1h-1zM335.0 454.2h1v1h-1zM357.9 447.6h1v1h-1zM322.6 417.8h1v1h-1zM339.8 429.0h1v1h-1zM331.8 435.8h1v1h-1zM348.0 424.4h1v1h-1zM337.7 437.8h1v1h-1zM335.5 426.7h1v1h-1zM344.9 432.6h1v1h-1zM337.1 449.6h1v1h-1zM325.9 419.7h1v1h-1zM332.6 434.1h1v1h-1zM357.4 439.7h1v1h-1zM343.0 448.9h1v1h-1zM332.0 441.3h1v1h-1zM353.6 447.6h1v1h-1zM348.1 427.6h1v1h-1zM338.7 449.0h1v1h-1zM338.0 432.5h1v1h-1zM333.1 443.7h1v1h-1zM350.4 430.0h1v1h-1zM351.6 458.1h1v1h-1zM341.5 441.0h1v1h-1zM354.2 444.5h1v1h-1zM339.4 432.6h1v1h-1zM348.4 449.3h1v1h-1zM356.2 450.7h1v1h-1zM338.6 464.5h1v1h-1zM331.6 421.3h1v1h-1zM333.0 447.7h1v1h-1zM345.1 437.1h1v1h-1zM322.0 418.6h1v1h-1zM332.2 434.5h1v1h-1zM350.3 456.9h1v1h-1zM340.2 452.3h1v1h-1zM357.1 447.1h1v1h-1zM347.7 432.4h1v1h-1zM356.2 440.4h1v1h-1zM328.5 425.3h1v1h-1zM336.2 433.7h1v1h-1zM333.7 439.4h1v1h-1zM342.3 445.5h1v1h-1zM336.2 429.8h1v1h-1zM335.0 439.0h1v1h-1zM349.1 452.5h1v1h-1zM337.7 454.4h1v1h-1zM342.3 460.6h1v1h-1zM332.9 423.3h1v1h-1zM334.1 424.1h1v1h-1zM320.7 416.3h1v1h-1zM340.4 441.2h1v1h-1zM347.3 454.2h1v1h-1zM340.0 438.9h1v1h-1zM337.7 425.0h1v1h-1zM346.9 440.4h1v1h-1zM332.8 438.2h1v1h-1zM337.2 440.3h1v1h-1zM360.8 445.4h1v1h-1zM337.4 460.8h1v1h-1zM342.6 439.6h1v1h-1zM353.6 452.5h1v1h-1zM315.9 416.8h1v1h-1zM334.9 448.7h1v1h-1zM317.3 415.7h1v1h-1zM339.4 453.3h1v1h-1z" fill="#888888"/>
<path d="M261.5,517.8 L268.5,513.2 L277.7,508.5 L282.3,499.3 L280.0,492.4 L282.3,487.8 L296.2,478.5 L310.0,474.0 L326.2,469.3 L337.8,467.0 L344.7,469.3 L344.7,476.2 L340.0,487.8 L330.8,494.7 L319.3,501.6 L312.4,508.5 L303.1,513.2 L291.6,515.5 L277.7,517.8 L263.9,520.1 Z" fill="#68a99c" opacity="0.8"/>
<path d="M335.8 471.4h1v1h-1zM310.8 489.5h1v1h-1zM300.9 505.1h1v1h-1zM314.9 476.7h1v1h-1zM329.4 477.4h1v1h-1zM289.0 486.6h1v1h-1zM326.2 496.2h1v1h-1zM330.4 479.6h1v1h-1zM305.5 476.0h1v1h-1zM306.7 510.2h1v1h-1zM318.7 488.9h1v1h-1zM314.7 479.7h1v1h-1zM286.1 488.8h1v1h-1zM289.2 496.7h1v1h-1zM331.0 480.2h1v1h-1zM300.7 490.9h1v1h-1zM292.9 508.7h1v1h-1zM319.7 492.5h1v1h-1zM311.8 482.5h1v1h-1zM288.1 485.6h1v1h-1zM283.5 512.3h1v1h-1zM273.7 511.5h1v1h-1zM337.4 476.7h1v1h-1zM308.9 507.9h1v1h-1zM310.7 484.4h1v1h-1zM297.0 483.8h1v1h-1zM313.1 495.3h1v1h-1zM333.0 490.2h1v1h-1zM287.4 514.1h1v1h-1zM306.0 478.2h1v1h-1zM287.7 502.6h1v1h-1zM327.3 482.7h1v1h-1zM336.5 475.1h1v1h-1zM322.4 470.8h1v1h-1zM329.7 476.3h1v1h-1zM290.9 498.0h1v1h-1zM296.0 512.3h1v1h-1zM305.0 495.5h1v1h-1zM283.6 498.9h1v1h-1zM301.4 509.1h1v1h-1zM295.1 502.4h1v1h-1zM292.8 505.9h1v1h-1zM276.0 513.7h1v1h-1zM319.2 472.6h1v1h-1zM314.4 500.0h1v1h-1zM311.4 488.4h1v1h-1zM343.3 474.9h1v1h-1zM332.2 469.7h1v1h-1zM292.7 483.7h1v1h-1zM289.2 497.3h1v1h-1zM323.7 491.2h1v1h-1zM328.6 480.6h1v1h-1zM292.4 506.2h1v1h-1zM333.5 481.3h1v1h-1zM325.7 474.1h1v1h-1zM302.8 494.0h1v1h-1zM283.7 487.6h1v1h-1zM289.8 512.7h1v1h-1zM306.1 479.4h1v1h-1zM329.2 490.9h1v1h-1zM289.7 507.2h1v1h-1zM290.1 483.9h1v1h-1zM319.0 480.2h1v1h-1zM289.1 496.9h1v1h-1zM311.7 476.5h1v1h-1zM323.8 479.4h1v1h-1zM281.1 512.2h1v1h-1zM321.4 478.1h1v1h-1zM312.9 484.3h1v1h-1zM292.6 498.3h1v1h-1zM316.5 493.6h1v1h-1zM318.0 490.3h1v1h-1zM299.5 477.7h1v1h-1zM280.9 490.7h1v1h-1zM302.4 507.5h1v1h-1zM314.1 486.4h1v1h-1zM327.3 487.8h1v1h-1zM306.1 491.4h1v1h-1zM306.5 484.7h1v1h-1zM266.0 516.4h1v1h-1zM342.3 479.6h1v1h-1zM333.5 486.6h1v1h-1zM310.2 487.2h1v1h-1zM307.3 503.7h1v1h-1zM314.4 488.0h1v1h-1zM315.8 503.4h1v1h-1zM285.4 490.1h1v1h-1zM334.4 470.4h1v1h-1zM290.5 515.3h1v1h-1zM288.1 484.6h1v1h-1zM315.1 489.4h1v1h-1zM325.2 474.8h1v1h-1zM287.3 503.2h1v1h-1zM320.2 475.7h1v1h-1zM293.7 487.5h1v1h-1zM313.4 492.3h1v1h-1zM314.8 481.0h1v1h-1zM302.8 488.0h1v1h-1zM312.9 505.0h1v1h-1zM303.5 492.2h1v1h-1zM281.6 504.8h1v1h-1zM331.9 473.7h1v1h-1zM299.5 507.7h1v1h-1zM328.5 487.4h1v1h-1zM329.3 476.3h1v1h-1zM326.0 497.5h1v1h-1zM304.6 493.2h1v1h-1zM306.3 509.4h1v1h-1zM273.8 510.8h1v1h-1zM313.5 484.7h1v1h-1zM300.5 503.0h1v1h-1zM323.3 491.9h1v1h-1zM319.5 480.9h1v1h-1zM303.3 503.9h1v1h-1zM319.6 488.9h1v1h-1zM294.0 490.7h1v1h-1zM328.5 471.2h1v1h-1zM299.4 489.6h1v1h-1zM303.0 483.6h1v1h-1zM261.8 517.7h1v1h-1zM307.4 497.6h1v1h-1zM311.9 476.3h1v1h-1zM280.4 515.4h1v1h-1zM287.1 505.0h1v1h-1zM336.5 487.5h1v1h-1zM283.7 508.1h1v1h-1zM287.3 488.3h1v1h-1zM309.6 493.5h1v1h-1zM338.5 488.5h1v1h-1zM339.3 473.8h1v1h-1zM304.6 503.3h1v1h-1zM303.4 507.5h1v1h-1zM325.7 485.2h1v1h-1zM300.7 491.2h1v1h-1zM286.2 516.2h1v1h-1zM304.5 485.6h1v1h-1zM327.0 494.9h1v1h-1zM310.3 483.3h1v1h-1zM341.7 476.4h1v1h-1zM305.4 496.7h1v1h-1zM312.4 480.8h1v1h-1zM320.0 481.1h1v1h-1zM300.0 478.0h1v1h-1zM312.2 479.9h1v1h-1zM312.3 476.9h1v1h-1zM292.6 513.0h1v1h-1zM286.1 513.1h1v1h-1zM296.1 486.8h1v1h-1zM277.0 510.0h1v1h-1zM296.0 512.5h1v1h-1zM329.6 484.6h1v1h-1zM283.9 509.7h1v1h-1zM296.6 501.6h1v1h-1zM340.1 480.1h1v1h-1zM290.7 489.9h1v1h-1zM310.4 488.7h1v1h-1zM291.4 498.0h1v1h-1zM333.9 488.1h1v1h-1zM320.4 478.5h1v1h-1zM316.4 486.7h1v1h-1zM319.8 496.3h1v1h-1zM289.5 499.8h1v1h-1zM303.6 508.8h1v1h-1zM315.9 497.4h1v1h-1zM327.3 486.7h1v1h-1zM287.8 490.5h1v1h-1zM271.5 511.7h1v1h-1zM315.2 504.3h1v1h-1zM298.7 480.9h1v1h-1zM314.7 488.4h1v1h-1zM276.6 509.3h1v1h-1zM299.2 503.6h1v1h-1zM263.9 519.2h1v1h-1zM284.4 504.5h1v1h-1zM289.0 494.9h1v1h-1zM289.7 491.2h1v1h-1zM315.9 488.7h1v1h-1zM301.7 513.4h1v1h-1zM290.5 486.5h1v1h-1zM299.1 511.7h1v1h-1zM291.0 497.8h1v1h-1zM299.3 499.0h1v1h-1zM297.8 499.5h1v1h-1zM339.9 473.2h1v1h-1zM304.9 489.1h1v1h-1zM296.1 481.2h1v1h-1zM337.0 479.5h1v1h-1zM266.5 519.1h1v1h-1zM294.0 508.7h1v1h-1zM284.9 497.2h1v1h-1zM326.0 473.2h1v1h-1zM284.0 505.4h1v1h-1zM318.2 476.2h1v1h-1zM314.1 484.2h1v1h-1zM342.3 469.8h1v1h-1zM301.8 487.8h1v1h-1zM343.2 472.8h1v1h-1zM303.1 508.8h1v1h-1zM295.5 506.7h1v1h-1zM343.4 471.6h1v1h-1zM333.6 470.2h1v1h-1zM301.3 490.5h1v1h-1zM308.6 499.3h1v1h-1z" fill="#707070"/>
<path d="M320.6 489.4h1v1h-1zM304.2 506.0h1v1h-1zM316.2 500.0h1v1h-1zM324.7 486.6h1v1h-1zM309.1 502.1h1v1h-1zM310.6 490.8h1v1h-1zM323.8 485.4h1v1h-1zM300.3 477.4h1v1h-1zM282.6 489.4h1v1h-1zM290.0 514.4h1v1h-1zM325.7 496.6h1v1h-1zM307.3 510.9h1v1h-1zM340.7 471.2h1v1h-1zM308.3 495.8h1v1h-1zM273.3 513.1h1v1h-1zM318.8 495.6h1v1h-1zM307.7 494.9h1v1h-1zM286.3 514.7h1v1h-1zM268.7 513.5h1v1h-1zM289.9 487.6h1v1h-1zM296.4 510.4h1v1h-1zM301.2 496.4h1v1h-1zM308.6 490.5h1v1h-1zM332.9 480.8h1v1h-1zM332.3 480.1h1v1h-1zM294.4 503.1h1v1h-1zM300.5 504.7h1v1h-1zM332.8 477.9h1v1h-1zM291.6 501.6h1v1h-1zM287.8 489.7h1v1h-1zM296.0 480.1h1v1h-1zM313.3 489.7h1v1h-1zM331.4 487.8h1v1h-1zM310.4 494.3h1v1h-1zM287.3 500.0h1v1h-1zM305.7 477.5h1v1h-1zM302.5 496.0h1v1h-1zM317.0 473.0h1v1h-1zM304.1 481.4h1v1h-1zM316.6 474.6h1v1h-1zM308.9 497.4h1v1h-1zM317.3 499.5h1v1h-1zM330.7 478.0h1v1h-1zM312.6 489.7h1v1h-1zM303.7 510.0h1v1h-1zM325.4 472.3h1v1h-1zM335.1 491.4h1v1h-1zM338.7 481.1h1v1h-1zM322.9 491.6h1v1h-1zM326.3 484.9h1v1h-1zM340.1 468.3h1v1h-1zM338.5 474.6h1v1h-1zM286.3 495.1h1v1h-1zM294.8 506.3h1v1h-1zM301.9 485.6h1v1h-1zM312.2 479.1h1v1h-1zM335.2 480.0h1v1h-1zM319.1 480.6h1v1h-1zM322.4 485.0h1v1h-1zM306.7 498.2h1v1h-1zM327.4 473.2h1v1h-1zM333.5 485.9h1v1h-1zM285.0 493.8h1v1h-1zM301.2 505.6h1v1h-1zM298.1 479.2h1v1h-1zM310.4 507.3h1v1h-1zM305.0 476.1h1v1h-1zM312.5 490.1h1v1h-1zM327.2 473.1h1v1h-1zM276.5 511.2h1v1h-1zM314.5 482.6h1v1h-1zM337.4 469.2h1v1h-1zM306.4 478.3h1v1h-1zM288.6 492.7h1v1h-1zM328.9 469.4h1v1h-1zM287.5 497.8h1v1h-1zM319.8 483.7h1v1h-1zM287.5 508.7h1v1h-1zM336.8 469.9h1v1h-1zM333.9 488.1h1v1h-1zM309.1 503.7h1v1h-1zM336.6 478.7h1v1h-1zM336.5 468.7h1v1h-1zM328.6 476.3h1v1h-1zM326.4 475.3h1v1h-1zM309.9 496.5h1v1h-1zM321.3 477.0h1v1h-1zM299.6 501.2h1v1h-1zM318.1 484.5h1v1h-1zM334.2 467.9h1v1h-1zM308.7 491.3h1v1h-1zM326.7 486.8h1v1h-1zM339.9 475.0h1v1h-1zM287.7 492.9h1v1h-1zM329.7 476.6h1v1h-1zM321.3 489.9h1v1h-1zM309.1 493.7h1v1h-1zM312.8 488.4h1v1h-1zM322.1 487.7h1v1h-1zM329.0 485.3h1v1h-1zM293.3 504.2h1v1h-1zM310.7 486.2h1v1h-1zM302.3 506.1h1v1h-1zM290.9 510.9h1v1h-1zM283.7 503.1h1v1h-1zM309.6 477.4h1v1h-1zM298.0 504.8h1v1h-1zM315.5 494.4h1v1h-1zM305.2 490.7h1v1h-1zM294.9 489.7h1v1h-1zM291.4 487.1h1v1h-1zM336.4 470.8h1v1h-1zM295.7 511.1h1v1h-1zM300.5 485.4h1v1h-1zM316.4 498.1h1v1h-1zM282.2 495.6h1v1h-1zM325.6 484.6h1v1h-1zM332.3 484.1h1v1h-1zM334.0 474.3h1v1h-1zM294.3 485.3h1v1h-1zM286.6 489.9h1v1h-1zM324.8 484.6h1v1h-1zM288.3 488.9h1v1h-1zM284.4 516.3h1v1h-1zM280.8 507.5h1v1h-1zM321.8 491.6h1v1h-1zM273.4 514.2h1v1h-1zM313.6 492.0h1v1h-1zM332.6 483.3h1v1h-1zM291.2 486.9h1v1h-1zM301.7 499.1h1v1h-1zM324.1 476.5h1v1h-1zM326.6 492.6h1v1h-1zM322.6 495.4h1v1h-1zM329.2 472.1h1v1h-1zM284.8 491.1h1v1h-1zM298.1 495.2h1v1h-1zM299.5 512.2h1v1h-1zM303.9 495.9h1v1h-1zM285.9 486.2h1v1h-1zM289.8 506.0h1v1h-1zM313.2 507.0h1v1h-1zM304.2 495.6h1v1h-1zM329.0 495.4h1v1h-1zM306.9 510.5h1v1h-1zM338.3 476.4h1v1h-1zM290.8 482.1h1v1h-1zM311.3 475.5h1v1h-1zM316.3 479.8h1v1h-1zM286.2 496.0h1v1h-1zM264.1 517.5h1v1h-1zM310.2 493.2h1v1h-1zM339.0 467.7h1v1h-1zM300.1 496.0h1v1h-1zM306.7 509.5h1v1h-1zM285.8 490.7h1v1h-1zM287.9 495.1h1v1h-1zM324.3 493.8h1v1h-1zM335.4 486.2h1v1h-1zM284.2 492.5h1v1h-1zM300.9 500.3h1v1h-1zM302.1 509.5h1v1h-1zM337.4 473.7h1v1h-1zM300.1 495.7h1v1h-1zM296.6 500.4h1v1h-1zM325.3 498.0h1v1h-1zM313.1 504.9h1v1h-1zM310.8 486.1h1v1h-1zM302.2 494.1h1v1h-1zM293.2 484.1h1v1h-1zM289.9 501.7h1v1h-1zM305.2 484.5h1v1h-1zM310.6 504.0h1v1h-1zM301.3 494.4h1v1h-1zM297.7 494.5h1v1h-1zM294.5 489.0h1v1h-1zM330.6 484.2h1v1h-1zM313.7 480.9h1v1h-1zM289.7 503.9h1v1h-1zM310.3 478.5h1v1h-1zM282.2 494.3h1v1h-1zM281.6 513.7h1v1h-1zM291.5 497.3h1v1h-1zM291.5 507.2h1v1h-1zM283.2 512.1h1v1h-1zM302.8 485.3h1v1h-1zM303.4 511.4h1v1h-1zM317.6 491.6h1v1h-1zM275.5 510.8h1v1h-1zM285.6 513.1h1v1h-1zM303.9 494.9h1v1h-1zM332.8 480.5h1v1h-1zM296.2 486.8h1v1h-1zM322.1 471.6h1v1h-1zM311.6 486.1h1v1h-1zM317.9 473.4h1v1h-1zM304.6 490.6h1v1h-1zM303.4 490.9h1v1h-1zM332.6 484.9h1v1h-1zM295.5 494.3h1v1h-1zM284.6 502.1h1v1h-1zM304.8 495.3h1v1h-1zM313.6 501.0h1v1h-1zM343.1 474.0h1v1h-1zM304.0 498.5h1v1h-1zM281.9 495.9h1v1h-1zM335.3 486.2h1v1h-1zM294.8 479.7h1v1h-1zM318.4 474.1h1v1h-1zM295.8 497.8h1v1h-1zM293.1 512.5h1v1h-1zM327.3 496.7h1v1h-1zM312.5 502.3h1v1h-1zM312.1 494.2h1v1h-1zM331.2 479.8h1v1h-1zM301.9 487.6h1v1h-1zM301.4 485.7h1v1h-1zM301.7 488.6h1v1h-1zM316.7 501.5h1v1h-1zM288.7 515.5h1v1h-1zM281.7 505.4h1v1h-1zM331.3 491.4h1v1h-1zM319.4 496.8h1v1h-1zM310.8 505.4h1v1h-1zM295.3 501.4h1v1h-1zM322.6 478.9h1v1h-1zM322.2 481.5h1v1h-1zM288.9 499.3h1v1h-1zM306.0 475.7h1v1h-1zM303.9 479.0h1v1h-1zM307.1 502.7h1v1h-1zM276.0 511.6h1v1h-1zM316.3 490.1h1v1h-1zM282.7 491.2h1v1h-1zM298.2 506.7h1v1h-1zM317.2 499.0h1v1h-1zM318.8 480.2h1v1h-1zM286.7 496.4h1v1h-1zM289.3 495.8h1v1h-1zM315.9 498.9h1v1h-1zM282.7 496.7h1v1h-1zM290.8 501.7h1v1h-1zM290.0 508.9h1v1h-1zM304.3 479.4h1v1h-1zM300.8 498.7h1v1h-1zM325.3 480.8h1v1h-1zM333.5 488.0h1v1h-1zM285.7 496.6h1v1h-1zM341.5 475.0h1v1h-1zM314.3 499.2h1v1h-1zM297.4 494.7h1v1h-1zM288.2 493.4h1v1h-1zM316.5 502.2h1v1h-1zM289.8 505.4h1v1h-1zM329.9 483.7h1v1h-1zM315.6 502.8h1v1h-1zM297.1 503.3h1v1h-1zM266.7 517.2h1v1h-1zM303.3 490.9h1v1h-1zM288.8 503.8h1v1h-1zM295.6 483.4h1v1h-1zM310.1 483.6h1v1h-1zM326.3 494.5h1v1h-1zM343.3 473.1h1v1h-1zM288.5 515.7h1v1h-1zM284.8 506.3h1v1h-1zM335.0 488.5h1v1h-1zM317.3 502.0h1v1h-1zM298.2 490.2h1v1h-1zM283.2 490.2h1v1h-1zM319.9 474.4h1v1h-1zM339.8 477.9h1v1h-1zM336.4 475.8h1v1h-1zM316.3 474.4h1v1h-1zM316.7 489.7h1v1h-1zM316.9 483.7h1v1h-1zM291.7 501.4h1v1h-1zM298.2 505.8h1v1h-1zM303.0 477.6h1v1h-1zM313.0 497.0h1v1h-1zM332.3 492.6h1v1h-1zM301.9 506.8h1v1h-1zM297.7 512.2h1v1h-1zM330.1 473.4h1v1h-1zM333.5 476.8h1v1h-1zM306.2 506.1h1v1h-1zM326.8 477.1h1v1h-1zM277.0 511.6h1v1h-1zM337.0 485.6h1v1h-1zM332.8 470.8h1v1h-1zM288.2 498.2h1v1h-1zM308.2 504.6h1v1h-1zM309.4 491.9h1v1h-1zM300.5 484.2h1v1h-1zM264.5 517.6h1v1h-1zM272.0 513.1h1v1h-1zM310.2 492.1h1v1h-1z" fill="#68a99c"/>
<path d="M283.0,506.0 L287.0,496.0 L294.0,490.0 L303.0,492.0 L313.0,494.0 L322.0,493.0 L330.0,490.0 L336.0,486.0 L340.0,487.8 L330.8,494.7 L326.0,499.0 L319.0,506.0 L312.0,511.0 L303.0,514.0 L292.0,515.5 L285.0,513.0 Z" fill="#707070" opacity="0.9"/>
<path d="M303.8 474.4h1.2v1.2h-1.2zM344.7 473.3h1.2v1.2h-1.2zM328.7 480.8h1.2v1.2h-1.2zM304.0 474.0h1.2v1.2h-1.2zM300.9 475.0h1.2v1.2h-1.2zM318.2 494.1h1.2v1.2h-1.2zM315.1 487.7h1.2v1.2h-1.2zM322.2 486.5h1.2v1.2h-1.2zM315.9 493.3h1.2v1.2h-1.2zM337.7 482.1h1.2v1.2h-1.2zM323.6 482.3h1.2v1.2h-1.2zM316.8 492.0h1.2v1.2h-1.2zM304.8 482.6h1.2v1.2h-1.2zM316.1 491.2h1.2v1.2h-1.2zM322.6 488.2h1.2v1.2h-1.2zM305.5 484.4h1.2v1.2h-1.2zM316.3 480.0h1.2v1.2h-1.2zM331.5 473.0h1.2v1.2h-1.2zM335.0 475.9h1.2v1.2h-1.2zM321.9 482.9h1.2v1.2h-1.2zM312.1 479.6h1.2v1.2h-1.2zM335.9 482.1h1.2v1.2h-1.2zM318.4 477.8h1.2v1.2h-1.2zM333.4 474.5h1.2v1.2h-1.2zM336.4 484.9h1.2v1.2h-1.2zM334.9 490.8h1.2v1.2h-1.2zM329.2 478.0h1.2v1.2h-1.2zM314.3 475.9h1.2v1.2h-1.2zM323.2 470.4h1.2v1.2h-1.2zM317.4 479.9h1.2v1.2h-1.2zM335.0 470.0h1.2v1.2h-1.2zM310.0 475.8h1.2v1.2h-1.2zM314.6 493.5h1.2v1.2h-1.2zM339.7 484.6h1.2v1.2h-1.2zM337.7 482.8h1.2v1.2h-1.2zM313.8 487.4h1.2v1.2h-1.2zM321.3 470.8h1.2v1.2h-1.2zM341.9 475.7h1.2v1.2h-1.2zM315.5 488.0h1.2v1.2h-1.2zM327.8 471.3h1.2v1.2h-1.2zM343.1 470.2h1.2v1.2h-1.2zM326.9 486.7h1.2v1.2h-1.2zM321.3 472.1h1.2v1.2h-1.2zM336.1 478.2h1.2v1.2h-1.2zM316.1 478.0h1.2v1.2h-1.2zM325.1 476.1h1.2v1.2h-1.2zM328.9 490.6h1.2v1.2h-1.2zM337.6 475.7h1.2v1.2h-1.2zM320.4 481.1h1.2v1.2h-1.2zM317.1 483.4h1.2v1.2h-1.2zM331.7 472.2h1.2v1.2h-1.2zM332.9 489.1h1.2v1.2h-1.2zM325.7 486.2h1.2v1.2h-1.2zM304.3 482.3h1.2v1.2h-1.2zM329.7 477.4h1.2v1.2h-1.2zM302.9 481.6h1.2v1.2h-1.2zM311.8 482.7h1.2v1.2h-1.2zM336.1 486.7h1.2v1.2h-1.2zM322.1 488.5h1.2v1.2h-1.2zM314.1 486.6h1.2v1.2h-1.2zM322.6 493.6h1.2v1.2h-1.2zM330.6 494.3h1.2v1.2h-1.2zM311.9 480.3h1.2v1.2h-1.2zM338.3 487.0h1.2v1.2h-1.2zM320.0 485.0h1.2v1.2h-1.2zM321.6 484.4h1.2v1.2h-1.2zM315.0 478.5h1.2v1.2h-1.2zM320.1 481.2h1.2v1.2h-1.2zM322.8 487.9h1.2v1.2h-1.2zM330.3 485.2h1.2v1.2h-1.2zM331.3 472.7h1.2v1.2h-1.2zM321.7 484.1h1.2v1.2h-1.2zM320.0 477.0h1.2v1.2h-1.2zM326.6 490.6h1.2v1.2h-1.2zM321.0 487.3h1.2v1.2h-1.2zM325.1 487.0h1.2v1.2h-1.2zM316.3 491.0h1.2v1.2h-1.2zM306.6 475.7h1.2v1.2h-1.2zM303.3 480.3h1.2v1.2h-1.2zM316.2 493.5h1.2v1.2h-1.2zM318.7 472.8h1.2v1.2h-1.2zM339.6 482.4h1.2v1.2h-1.2zM334.1 471.9h1.2v1.2h-1.2zM305.9 475.2h1.2v1.2h-1.2zM306.1 480.7h1.2v1.2h-1.2zM328.0 483.4h1.2v1.2h-1.2zM336.9 482.9h1.2v1.2h-1.2zM331.3 482.9h1.2v1.2h-1.2zM338.0 487.8h1.2v1.2h-1.2zM332.3 490.8h1.2v1.2h-1.2zM326.0 493.0h1.2v1.2h-1.2zM304.2 478.6h1.2v1.2h-1.2zM314.4 493.6h1.2v1.2h-1.2zM317.5 474.8h1.2v1.2h-1.2zM327.8 492.7h1.2v1.2h-1.2zM340.7 477.8h1.2v1.2h-1.2zM307.6 488.9h1.2v1.2h-1.2zM317.0 482.7h1.2v1.2h-1.2zM312.8 488.9h1.2v1.2h-1.2zM339.6 484.2h1.2v1.2h-1.2zM307.2 479.1h1.2v1.2h-1.2zM330.2 477.0h1.2v1.2h-1.2zM312.0 479.9h1.2v1.2h-1.2zM320.0 474.0h1.2v1.2h-1.2zM319.1 493.2h1.2v1.2h-1.2zM319.7 492.9h1.2v1.2h-1.2zM310.1 476.3h1.2v1.2h-1.2zM314.0 479.5h1.2v1.2h-1.2zM332.2 477.5h1.2v1.2h-1.2zM317.5 478.4h1.2v1.2h-1.2zM323.9 484.3h1.2v1.2h-1.2zM309.6 481.8h1.2v1.2h-1.2zM321.8 493.1h1.2v1.2h-1.2zM313.1 472.4h1.2v1.2h-1.2zM318.0 475.9h1.2v1.2h-1.2zM332.3 473.6h1.2v1.2h-1.2zM318.2 473.5h1.2v1.2h-1.2zM326.1 487.5h1.2v1.2h-1.2zM334.9 480.6h1.2v1.2h-1.2zM320.2 480.0h1.2v1.2h-1.2zM314.6 479.5h1.2v1.2h-1.2zM321.0 489.5h1.2v1.2h-1.2zM314.3 475.7h1.2v1.2h-1.2zM317.5 472.6h1.2v1.2h-1.2zM321.0 484.5h1.2v1.2h-1.2zM308.8 483.8h1.2v1.2h-1.2zM325.3 487.8h1.2v1.2h-1.2zM344.2 471.9h1.2v1.2h-1.2zM320.8 485.4h1.2v1.2h-1.2zM306.9 487.6h1.2v1.2h-1.2zM325.4 479.2h1.2v1.2h-1.2zM323.3 476.0h1.2v1.2h-1.2zM301.9 481.0h1.2v1.2h-1.2zM314.2 477.0h1.2v1.2h-1.2zM300.8 476.6h1.2v1.2h-1.2zM320.9 482.8h1.2v1.2h-1.2zM331.9 477.6h1.2v1.2h-1.2zM333.5 471.3h1.2v1.2h-1.2zM319.2 488.1h1.2v1.2h-1.2zM305.9 484.2h1.2v1.2h-1.2zM318.5 476.3h1.2v1.2h-1.2zM321.6 479.4h1.2v1.2h-1.2zM318.3 471.1h1.2v1.2h-1.2zM341.4 479.0h1.2v1.2h-1.2zM326.9 469.0h1.2v1.2h-1.2zM337.0 483.2h1.2v1.2h-1.2zM323.8 490.9h1.2v1.2h-1.2zM327.2 482.4h1.2v1.2h-1.2zM315.6 482.8h1.2v1.2h-1.2zM335.9 487.4h1.2v1.2h-1.2zM329.8 474.6h1.2v1.2h-1.2zM324.0 478.7h1.2v1.2h-1.2zM306.8 484.1h1.2v1.2h-1.2zM321.3 470.3h1.2v1.2h-1.2zM338.7 474.5h1.2v1.2h-1.2zM323.4 484.1h1.2v1.2h-1.2zM313.7 491.2h1.2v1.2h-1.2z" fill="#68a99c"/>
<path d="M320.3 481.8h1.2v1.2h-1.2zM334.2 477.3h1.2v1.2h-1.2zM337.9 476.4h1.2v1.2h-1.2zM337.5 475.1h1.2v1.2h-1.2zM324.8 489.1h1.2v1.2h-1.2zM340.5 479.8h1.2v1.2h-1.2zM331.3 472.7h1.2v1.2h-1.2zM314.0 481.6h1.2v1.2h-1.2zM324.7 488.4h1.2v1.2h-1.2zM305.8 485.8h1.2v1.2h-1.2zM302.2 477.1h1.2v1.2h-1.2zM309.9 478.3h1.2v1.2h-1.2z" fill="#5080b8"/>
<path d="M316.9 486.8h1.2v1.2h-1.2zM340.3 484.4h1.2v1.2h-1.2zM342.3 481.7h1.2v1.2h-1.2zM339.4 475.6h1.2v1.2h-1.2zM322.7 488.0h1.2v1.2h-1.2zM317.7 472.0h1.2v1.2h-1.2zM307.6 480.1h1.2v1.2h-1.2zM310.4 479.3h1.2v1.2h-1.2zM333.2 477.5h1.2v1.2h-1.2zM339.1 468.0h1.2v1.2h-1.2zM319.6 488.8h1.2v1.2h-1.2zM319.9 470.2h1.2v1.2h-1.2zM310.3 482.8h1.2v1.2h-1.2zM313.0 485.4h1.2v1.2h-1.2zM337.7 487.5h1.2v1.2h-1.2zM336.7 485.1h1.2v1.2h-1.2zM312.2 475.7h1.2v1.2h-1.2zM306.1 485.3h1.2v1.2h-1.2zM332.2 477.4h1.2v1.2h-1.2zM307.9 489.5h1.2v1.2h-1.2zM336.9 483.8h1.2v1.2h-1.2zM318.2 472.1h1.2v1.2h-1.2zM327.4 479.4h1.2v1.2h-1.2zM337.5 482.0h1.2v1.2h-1.2zM308.3 484.4h1.2v1.2h-1.2zM344.1 477.7h1.2v1.2h-1.2zM310.5 478.0h1.2v1.2h-1.2zM339.8 476.4h1.2v1.2h-1.2zM338.4 480.4h1.2v1.2h-1.2zM328.4 474.6h1.2v1.2h-1.2zM332.1 473.4h1.2v1.2h-1.2zM314.7 492.6h1.2v1.2h-1.2zM318.5 494.3h1.2v1.2h-1.2zM326.7 486.7h1.2v1.2h-1.2zM311.3 487.8h1.2v1.2h-1.2zM321.0 473.6h1.2v1.2h-1.2zM326.7 473.0h1.2v1.2h-1.2zM330.7 483.9h1.2v1.2h-1.2zM344.4 471.2h1.2v1.2h-1.2zM310.6 484.8h1.2v1.2h-1.2zM317.8 490.1h1.2v1.2h-1.2zM305.3 478.6h1.2v1.2h-1.2zM322.4 478.2h1.2v1.2h-1.2zM327.3 470.4h1.2v1.2h-1.2zM324.5 472.9h1.2v1.2h-1.2zM328.2 469.2h1.2v1.2h-1.2zM307.1 481.7h1.2v1.2h-1.2zM321.3 481.0h1.2v1.2h-1.2zM324.2 487.0h1.2v1.2h-1.2zM327.9 480.4h1.2v1.2h-1.2zM328.1 475.8h1.2v1.2h-1.2zM331.6 480.1h1.2v1.2h-1.2zM334.3 467.9h1.2v1.2h-1.2zM323.1 484.2h1.2v1.2h-1.2zM318.7 470.8h1.2v1.2h-1.2zM341.0 484.8h1.2v1.2h-1.2zM319.7 475.7h1.2v1.2h-1.2zM322.2 477.0h1.2v1.2h-1.2zM332.7 476.3h1.2v1.2h-1.2zM325.9 470.0h1.2v1.2h-1.2zM325.0 485.6h1.2v1.2h-1.2zM332.3 470.0h1.2v1.2h-1.2zM305.0 479.2h1.2v1.2h-1.2zM337.1 482.8h1.2v1.2h-1.2zM327.9 491.1h1.2v1.2h-1.2zM332.2 489.8h1.2v1.2h-1.2zM332.3 487.1h1.2v1.2h-1.2zM320.3 475.9h1.2v1.2h-1.2zM321.9 489.4h1.2v1.2h-1.2zM322.3 478.3h1.2v1.2h-1.2zM325.1 478.7h1.2v1.2h-1.2zM314.2 474.9h1.2v1.2h-1.2zM333.8 472.7h1.2v1.2h-1.2zM327.3 482.4h1.2v1.2h-1.2zM305.1 484.4h1.2v1.2h-1.2zM337.1 486.7h1.2v1.2h-1.2zM339.2 486.1h1.2v1.2h-1.2zM329.1 473.8h1.2v1.2h-1.2zM301.4 474.8h1.2v1.2h-1.2zM324.7 474.9h1.2v1.2h-1.2zM320.1 492.3h1.2v1.2h-1.2zM332.5 470.6h1.2v1.2h-1.2zM344.1 470.0h1.2v1.2h-1.2zM341.3 480.8h1.2v1.2h-1.2zM313.7 485.4h1.2v1.2h-1.2zM340.4 479.5h1.2v1.2h-1.2zM329.6 470.9h1.2v1.2h-1.2zM317.3 476.5h1.2v1.2h-1.2zM327.8 480.3h1.2v1.2h-1.2zM318.4 476.1h1.2v1.2h-1.2zM332.4 482.4h1.2v1.2h-1.2zM334.1 469.7h1.2v1.2h-1.2zM318.2 495.3h1.2v1.2h-1.2zM316.6 474.9h1.2v1.2h-1.2zM305.6 478.0h1.2v1.2h-1.2zM322.0 482.6h1.2v1.2h-1.2zM331.2 490.2h1.2v1.2h-1.2zM340.9 478.6h1.2v1.2h-1.2zM310.0 488.3h1.2v1.2h-1.2zM341.2 471.6h1.2v1.2h-1.2zM305.4 476.7h1.2v1.2h-1.2zM321.3 477.7h1.2v1.2h-1.2zM310.5 482.7h1.2v1.2h-1.2zM323.6 489.0h1.2v1.2h-1.2zM343.3 477.6h1.2v1.2h-1.2zM342.5 469.9h1.2v1.2h-1.2zM315.5 485.6h1.2v1.2h-1.2zM307.2 480.0h1.2v1.2h-1.2z" fill="#707070"/>
<path d="M325.9 488.9h1.2v1.2h-1.2zM309.8 474.3h1.2v1.2h-1.2zM311.9 479.7h1.2v1.2h-1.2zM319.9 479.5h1.2v1.2h-1.2zM317.6 477.8h1.2v1.2h-1.2zM333.8 482.1h1.2v1.2h-1.2zM338.0 482.5h1.2v1.2h-1.2zM325.2 495.1h1.2v1.2h-1.2zM321.9 478.0h1.2v1.2h-1.2zM326.1 474.8h1.2v1.2h-1.2zM317.7 487.8h1.2v1.2h-1.2zM303.7 477.4h1.2v1.2h-1.2zM335.9 471.8h1.2v1.2h-1.2zM316.5 476.9h1.2v1.2h-1.2zM323.2 487.7h1.2v1.2h-1.2zM335.8 486.9h1.2v1.2h-1.2zM328.1 476.1h1.2v1.2h-1.2zM337.9 480.0h1.2v1.2h-1.2zM321.9 481.6h1.2v1.2h-1.2zM318.8 475.6h1.2v1.2h-1.2zM328.5 493.7h1.2v1.2h-1.2zM341.9 471.6h1.2v1.2h-1.2zM309.6 487.4h1.2v1.2h-1.2zM320.3 472.2h1.2v1.2h-1.2zM331.5 485.7h1.2v1.2h-1.2z" fill="#c0602a"/>
<path d="M339.8 472.3h1.2v1.2h-1.2zM326.3 475.7h1.2v1.2h-1.2zM337.4 473.3h1.2v1.2h-1.2zM317.3 486.6h1.2v1.2h-1.2zM320.7 493.1h1.2v1.2h-1.2zM332.4 485.0h1.2v1.2h-1.2zM305.9 476.8h1.2v1.2h-1.2zM334.3 491.7h1.2v1.2h-1.2zM333.9 473.5h1.2v1.2h-1.2zM331.1 473.8h1.2v1.2h-1.2zM327.6 485.5h1.2v1.2h-1.2zM335.6 485.3h1.2v1.2h-1.2zM309.9 488.7h1.2v1.2h-1.2zM330.9 482.4h1.2v1.2h-1.2zM322.7 479.0h1.2v1.2h-1.2zM316.0 482.9h1.2v1.2h-1.2zM319.8 475.3h1.2v1.2h-1.2zM312.6 485.8h1.2v1.2h-1.2zM339.6 470.5h1.2v1.2h-1.2zM325.2 473.2h1.2v1.2h-1.2zM315.1 482.0h1.2v1.2h-1.2zM303.6 478.0h1.2v1.2h-1.2zM320.1 489.2h1.2v1.2h-1.2zM337.5 477.7h1.2v1.2h-1.2zM325.7 493.5h1.2v1.2h-1.2zM328.4 470.9h1.2v1.2h-1.2zM329.8 473.3h1.2v1.2h-1.2zM301.6 479.6h1.2v1.2h-1.2zM330.9 471.0h1.2v1.2h-1.2zM331.4 478.3h1.2v1.2h-1.2z" fill="#8ab83a"/>
<path d="M309.0 490.0h1.2v1.2h-1.2zM332.0 481.1h1.2v1.2h-1.2zM339.4 472.9h1.2v1.2h-1.2zM331.4 468.2h1.2v1.2h-1.2zM325.1 476.5h1.2v1.2h-1.2zM340.7 471.9h1.2v1.2h-1.2z" fill="#5a3a8a"/>
<path d="M317.3 484.2h1.2v1.2h-1.2zM333.3 486.4h1.2v1.2h-1.2zM316.2 485.0h1.2v1.2h-1.2zM325.3 495.6h1.2v1.2h-1.2zM329.1 479.8h1.2v1.2h-1.2zM303.4 476.9h1.2v1.2h-1.2z" fill="#2c1a6e"/>
<path d="M327.1 481.9h1.2v1.2h-1.2zM321.2 471.6h1.2v1.2h-1.2zM337.8 472.9h1.2v1.2h-1.2zM316.2 479.8h1.2v1.2h-1.2zM332.9 481.4h1.2v1.2h-1.2zM334.1 468.8h1.2v1.2h-1.2zM315.5 478.2h1.2v1.2h-1.2zM329.2 477.2h1.2v1.2h-1.2zM307.2 474.2h1.2v1.2h-1.2zM309.0 489.7h1.2v1.2h-1.2zM344.6 475.3h1.2v1.2h-1.2zM341.1 471.5h1.2v1.2h-1.2zM313.4 473.6h1.2v1.2h-1.2zM341.5 478.6h1.2v1.2h-1.2zM329.8 491.1h1.2v1.2h-1.2zM338.5 474.1h1.2v1.2h-1.2zM325.2 493.5h1.2v1.2h-1.2zM340.8 479.3h1.2v1.2h-1.2zM333.0 479.1h1.2v1.2h-1.2zM338.3 480.9h1.2v1.2h-1.2zM305.2 475.0h1.2v1.2h-1.2zM312.8 482.3h1.2v1.2h-1.2z" fill="#8a1a4a"/>
<path d="M320.2 470.8h1.2v1.2h-1.2zM337.1 478.0h1.2v1.2h-1.2zM309.7 482.8h1.2v1.2h-1.2zM328.9 470.7h1.2v1.2h-1.2zM330.8 469.4h1.2v1.2h-1.2zM326.9 479.2h1.2v1.2h-1.2zM341.0 482.3h1.2v1.2h-1.2zM300.9 475.1h1.2v1.2h-1.2zM344.2 471.5h1.2v1.2h-1.2zM319.7 495.0h1.2v1.2h-1.2zM336.8 483.5h1.2v1.2h-1.2zM319.8 471.4h1.2v1.2h-1.2z" fill="#d0c030"/>
<path d="M310.1 472.9h1.2v1.2h-1.2zM330.6 469.6h1.2v1.2h-1.2zM335.0 489.2h1.2v1.2h-1.2zM309.3 487.8h1.2v1.2h-1.2zM335.6 485.9h1.2v1.2h-1.2zM330.8 480.1h1.2v1.2h-1.2zM321.7 484.0h1.2v1.2h-1.2zM339.7 485.0h1.2v1.2h-1.2z" fill="#90b8d8"/>
<path d="M332.4 488.2h1.2v1.2h-1.2zM310.0 475.9h1.2v1.2h-1.2zM338.7 486.6h1.2v1.2h-1.2zM316.0 476.8h1.2v1.2h-1.2zM307.1 474.6h1.2v1.2h-1.2zM319.0 485.9h1.2v1.2h-1.2zM328.1 482.0h1.2v1.2h-1.2zM325.9 489.1h1.2v1.2h-1.2zM321.5 496.6h1.2v1.2h-1.2zM321.8 483.4h1.2v1.2h-1.2zM324.5 486.5h1.2v1.2h-1.2zM326.1 480.3h1.2v1.2h-1.2zM340.3 473.6h1.2v1.2h-1.2zM338.0 471.8h1.2v1.2h-1.2zM328.1 485.7h1.2v1.2h-1.2zM324.4 495.1h1.2v1.2h-1.2zM306.6 475.0h1.2v1.2h-1.2zM305.6 474.8h1.2v1.2h-1.2zM326.6 472.5h1.2v1.2h-1.2zM318.2 494.8h1.2v1.2h-1.2zM335.7 468.0h1.2v1.2h-1.2zM339.4 472.4h1.2v1.2h-1.2zM318.8 482.4h1.2v1.2h-1.2zM317.0 471.8h1.2v1.2h-1.2zM326.6 476.6h1.2v1.2h-1.2zM328.8 492.7h1.2v1.2h-1.2zM325.1 489.3h1.2v1.2h-1.2zM343.3 476.4h1.2v1.2h-1.2zM324.0 475.7h1.2v1.2h-1.2zM339.7 487.3h1.2v1.2h-1.2zM337.9 478.1h1.2v1.2h-1.2zM338.0 489.1h1.2v1.2h-1.2z" fill="#a0141e"/>
<path d="M322.6 483.9h1.2v1.2h-1.2zM329.7 477.8h1.2v1.2h-1.2z" fill="#b090c0"/>
<path d="M326.3 459.6h1.1v1.1h-1.1zM338.3 465.7h1.1v1.1h-1.1zM346.0 469.7h1.1v1.1h-1.1zM330.6 469.2h1.1v1.1h-1.1zM339.1 465.6h1.1v1.1h-1.1zM338.6 467.7h1.1v1.1h-1.1zM335.6 469.2h1.1v1.1h-1.1zM343.2 462.2h1.1v1.1h-1.1zM329.9 464.4h1.1v1.1h-1.1zM337.0 468.0h1.1v1.1h-1.1zM340.5 466.1h1.1v1.1h-1.1zM344.8 461.6h1.1v1.1h-1.1zM343.2 463.4h1.1v1.1h-1.1zM333.7 468.8h1.1v1.1h-1.1zM327.4 461.5h1.1v1.1h-1.1zM332.2 464.6h1.1v1.1h-1.1zM334.0 468.6h1.1v1.1h-1.1zM334.1 467.5h1.1v1.1h-1.1zM337.6 461.1h1.1v1.1h-1.1zM329.0 458.7h1.1v1.1h-1.1zM329.5 459.3h1.1v1.1h-1.1zM335.5 463.6h1.1v1.1h-1.1zM343.1 468.3h1.1v1.1h-1.1zM343.8 465.7h1.1v1.1h-1.1zM335.5 460.5h1.1v1.1h-1.1zM344.0 460.3h1.1v1.1h-1.1zM344.0 469.0h1.1v1.1h-1.1zM332.3 469.5h1.1v1.1h-1.1zM336.8 460.3h1.1v1.1h-1.1z" fill="#5080b8"/>
<path d="M334.2 467.6h1.1v1.1h-1.1zM345.7 463.6h1.1v1.1h-1.1zM344.2 467.1h1.1v1.1h-1.1zM328.0 463.6h1.1v1.1h-1.1zM345.1 467.1h1.1v1.1h-1.1zM343.9 464.7h1.1v1.1h-1.1zM326.8 459.6h1.1v1.1h-1.1zM328.9 468.2h1.1v1.1h-1.1zM328.5 463.9h1.1v1.1h-1.1zM329.0 463.3h1.1v1.1h-1.1zM340.9 465.6h1.1v1.1h-1.1zM330.2 461.0h1.1v1.1h-1.1zM326.7 464.8h1.1v1.1h-1.1zM342.3 461.3h1.1v1.1h-1.1zM340.1 465.3h1.1v1.1h-1.1zM334.6 469.5h1.1v1.1h-1.1zM327.3 461.5h1.1v1.1h-1.1zM335.2 464.7h1.1v1.1h-1.1zM345.1 464.0h1.1v1.1h-1.1zM337.4 464.8h1.1v1.1h-1.1zM340.8 466.5h1.1v1.1h-1.1zM343.9 470.4h1.1v1.1h-1.1zM338.5 465.6h1.1v1.1h-1.1zM338.9 460.1h1.1v1.1h-1.1zM336.5 467.3h1.1v1.1h-1.1zM329.9 459.9h1.1v1.1h-1.1zM340.9 468.3h1.1v1.1h-1.1zM338.4 462.8h1.1v1.1h-1.1zM333.3 460.5h1.1v1.1h-1.1zM327.4 463.7h1.1v1.1h-1.1z" fill="#68a99c"/>
<path d="M328.9 459.6h1.1v1.1h-1.1zM330.9 468.6h1.1v1.1h-1.1zM329.1 468.4h1.1v1.1h-1.1zM337.2 464.3h1.1v1.1h-1.1zM330.2 462.6h1.1v1.1h-1.1zM330.4 461.0h1.1v1.1h-1.1zM333.5 460.9h1.1v1.1h-1.1zM341.3 460.7h1.1v1.1h-1.1zM339.5 461.1h1.1v1.1h-1.1zM326.9 462.7h1.1v1.1h-1.1zM333.0 463.5h1.1v1.1h-1.1zM339.6 469.7h1.1v1.1h-1.1zM332.4 460.5h1.1v1.1h-1.1zM346.8 460.8h1.1v1.1h-1.1zM335.3 469.0h1.1v1.1h-1.1zM328.5 460.7h1.1v1.1h-1.1zM333.0 468.0h1.1v1.1h-1.1zM336.5 469.0h1.1v1.1h-1.1zM331.8 463.2h1.1v1.1h-1.1zM338.9 466.9h1.1v1.1h-1.1zM342.1 461.6h1.1v1.1h-1.1zM333.9 462.0h1.1v1.1h-1.1zM327.0 466.6h1.1v1.1h-1.1zM330.3 460.7h1.1v1.1h-1.1zM340.6 465.3h1.1v1.1h-1.1zM344.1 463.6h1.1v1.1h-1.1zM335.7 468.0h1.1v1.1h-1.1zM341.6 471.2h1.1v1.1h-1.1zM332.5 464.0h1.1v1.1h-1.1zM331.1 468.9h1.1v1.1h-1.1zM341.4 469.6h1.1v1.1h-1.1zM326.7 466.6h1.1v1.1h-1.1zM333.6 463.6h1.1v1.1h-1.1zM333.3 467.8h1.1v1.1h-1.1zM339.1 464.7h1.1v1.1h-1.1zM331.8 460.5h1.1v1.1h-1.1zM338.2 463.6h1.1v1.1h-1.1zM338.7 469.9h1.1v1.1h-1.1zM337.4 462.5h1.1v1.1h-1.1zM328.0 466.0h1.1v1.1h-1.1zM329.9 463.2h1.1v1.1h-1.1zM344.0 462.3h1.1v1.1h-1.1zM331.1 467.9h1.1v1.1h-1.1zM340.4 462.5h1.1v1.1h-1.1zM334.6 465.5h1.1v1.1h-1.1zM336.0 467.6h1.1v1.1h-1.1zM344.9 469.6h1.1v1.1h-1.1zM341.3 462.7h1.1v1.1h-1.1zM338.0 470.7h1.1v1.1h-1.1zM332.8 463.4h1.1v1.1h-1.1zM340.4 469.7h1.1v1.1h-1.1zM326.8 468.2h1.1v1.1h-1.1zM345.1 468.3h1.1v1.1h-1.1zM337.7 469.0h1.1v1.1h-1.1zM338.3 470.2h1.1v1.1h-1.1zM334.0 461.2h1.1v1.1h-1.1zM334.8 462.4h1.1v1.1h-1.1zM331.7 464.2h1.1v1.1h-1.1zM340.1 462.8h1.1v1.1h-1.1zM329.9 461.2h1.1v1.1h-1.1zM329.6 468.6h1.1v1.1h-1.1zM331.6 468.9h1.1v1.1h-1.1zM333.4 467.7h1.1v1.1h-1.1zM338.6 462.4h1.1v1.1h-1.1zM337.6 466.3h1.1v1.1h-1.1zM342.1 461.7h1.1v1.1h-1.1zM337.4 469.0h1.1v1.1h-1.1zM344.0 471.7h1.1v1.1h-1.1zM346.4 464.6h1.1v1.1h-1.1zM337.2 469.4h1.1v1.1h-1.1zM344.4 463.0h1.1v1.1h-1.1zM343.3 462.7h1.1v1.1h-1.1zM339.4 462.1h1.1v1.1h-1.1zM329.5 459.4h1.1v1.1h-1.1zM343.0 469.9h1.1v1.1h-1.1zM327.5 463.8h1.1v1.1h-1.1zM326.8 459.0h1.1v1.1h-1.1zM344.1 467.9h1.1v1.1h-1.1zM344.9 462.6h1.1v1.1h-1.1zM338.7 470.9h1.1v1.1h-1.1zM333.5 463.8h1.1v1.1h-1.1z" fill="#707070"/>
<path d="M259.0,571.0 L263.0,569.0 L267.0,572.0 L268.0,578.0 L265.0,581.0 L261.0,580.0 L259.0,576.0 Z" fill="#707070" opacity="0.85"/>
<path d="M255.3,567.8 L258.0,567.2 L261.5,570.0 L259.5,572.5 L256.5,570.5 Z" fill="#707070" opacity="0.8"/>
<path d="M269.0,566.5 L270.8,567.0 L268.8,576.0 L267.4,575.0 Z" fill="#707070" opacity="0.7"/>
<path d="M260.2 568.4h1v1h-1zM256.2 581.4h1v1h-1zM264.0 577.1h1v1h-1zM263.5 571.3h1v1h-1zM266.9 575.0h1v1h-1zM267.8 576.6h1v1h-1zM268.9 572.3h1v1h-1zM255.9 566.8h1v1h-1zM266.7 567.2h1v1h-1zM265.4 575.8h1v1h-1zM269.0 568.1h1v1h-1zM266.8 577.9h1v1h-1zM255.4 576.7h1v1h-1zM266.1 582.6h1v1h-1zM254.0 570.0h1v1h-1zM264.8 575.6h1v1h-1zM256.5 580.9h1v1h-1zM269.1 569.7h1v1h-1zM255.8 576.7h1v1h-1zM260.7 576.6h1v1h-1zM262.4 571.5h1v1h-1zM253.4 566.6h1v1h-1zM261.7 577.8h1v1h-1zM261.1 578.1h1v1h-1zM263.3 580.7h1v1h-1z" fill="#707070"/>
<circle cx="373.60" cy="450.50" r="2.10" fill="#a0141e" />
<text x="378.80" y="452.60" font-size="6.0" fill="#333" text-anchor="start" font-weight="normal" stroke="#333" stroke-width="0.09" >clonotype1</text>
<circle cx="373.60" cy="458.23" r="2.10" fill="#8ab83a" />
<text x="378.80" y="460.33" font-size="6.0" fill="#333" text-anchor="start" font-weight="normal" stroke="#333" stroke-width="0.09" >clonotype2</text>
<circle cx="373.60" cy="465.96" r="2.10" fill="#d0c030" />
<text x="378.80" y="468.06" font-size="6.0" fill="#333" text-anchor="start" font-weight="normal" stroke="#333" stroke-width="0.09" >clonotype3</text>
<circle cx="373.60" cy="473.69" r="2.10" fill="#2c1a6e" />
<text x="378.80" y="475.79" font-size="6.0" fill="#333" text-anchor="start" font-weight="normal" stroke="#333" stroke-width="0.09" >clonotype4</text>
<circle cx="373.60" cy="481.42" r="2.10" fill="#5a3a8a" />
<text x="378.80" y="483.52" font-size="6.0" fill="#333" text-anchor="start" font-weight="normal" stroke="#333" stroke-width="0.09" >clonotype5</text>
<circle cx="373.60" cy="489.15" r="2.10" fill="#8a1a4a" />
<text x="378.80" y="491.25" font-size="6.0" fill="#333" text-anchor="start" font-weight="normal" stroke="#333" stroke-width="0.09" >clonotype6</text>
<circle cx="373.60" cy="496.88" r="2.10" fill="#c0602a" />
<text x="378.80" y="498.98" font-size="6.0" fill="#333" text-anchor="start" font-weight="normal" stroke="#333" stroke-width="0.09" >clonotype7</text>
<circle cx="373.60" cy="504.61" r="2.10" fill="#5080b8" />
<text x="378.80" y="506.71" font-size="6.0" fill="#333" text-anchor="start" font-weight="normal" stroke="#333" stroke-width="0.09" >clonotype8</text>
<circle cx="373.60" cy="512.34" r="2.10" fill="#90b8d8" />
<text x="378.80" y="514.44" font-size="6.0" fill="#333" text-anchor="start" font-weight="normal" stroke="#333" stroke-width="0.09" >clonotype9</text>
<circle cx="373.60" cy="520.07" r="2.10" fill="#b090c0" />
<text x="378.80" y="522.17" font-size="6.0" fill="#333" text-anchor="start" font-weight="normal" stroke="#333" stroke-width="0.09" >clonotype10</text>
<circle cx="373.60" cy="527.80" r="2.10" fill="#68a99c" />
<text x="378.80" y="529.90" font-size="6.0" fill="#333" text-anchor="start" font-weight="normal" stroke="#333" stroke-width="0.09" >Others</text>
<circle cx="373.60" cy="535.53" r="2.10" fill="#707070" />
<text x="378.80" y="537.63" font-size="6.0" fill="#333" text-anchor="start" font-weight="normal" stroke="#333" stroke-width="0.09" >NA</text>
<path d="M112.3,586.4 V557" stroke="#111" stroke-width="0.9" fill="none"/>
<path d="M112.3,553.2 L110.4,557.6 L114.2,557.6 Z" fill="#111"/>
<path d="M112.3,586.4 H141.5" stroke="#111" stroke-width="0.9" fill="none"/>
<path d="M145.7,586.4 L141.3,584.5 L141.3,588.3 Z" fill="#111"/>
<text transform="translate(115.1,550) rotate(-90)" font-size="6.8" fill="#222" stroke="#222" stroke-width="0.3" textLength="19.3" lengthAdjust="spacingAndGlyphs">UMAP2</text>
<text x="149.6" y="588.0" font-size="6.8" fill="#222" stroke="#222" stroke-width="0.3" textLength="18" lengthAdjust="spacingAndGlyphs">UMAP1</text>
<rect x="0.5" y="0.5" width="519" height="598" fill="none" stroke="#636363" stroke-width="1"/>
</svg>
</body></html>
